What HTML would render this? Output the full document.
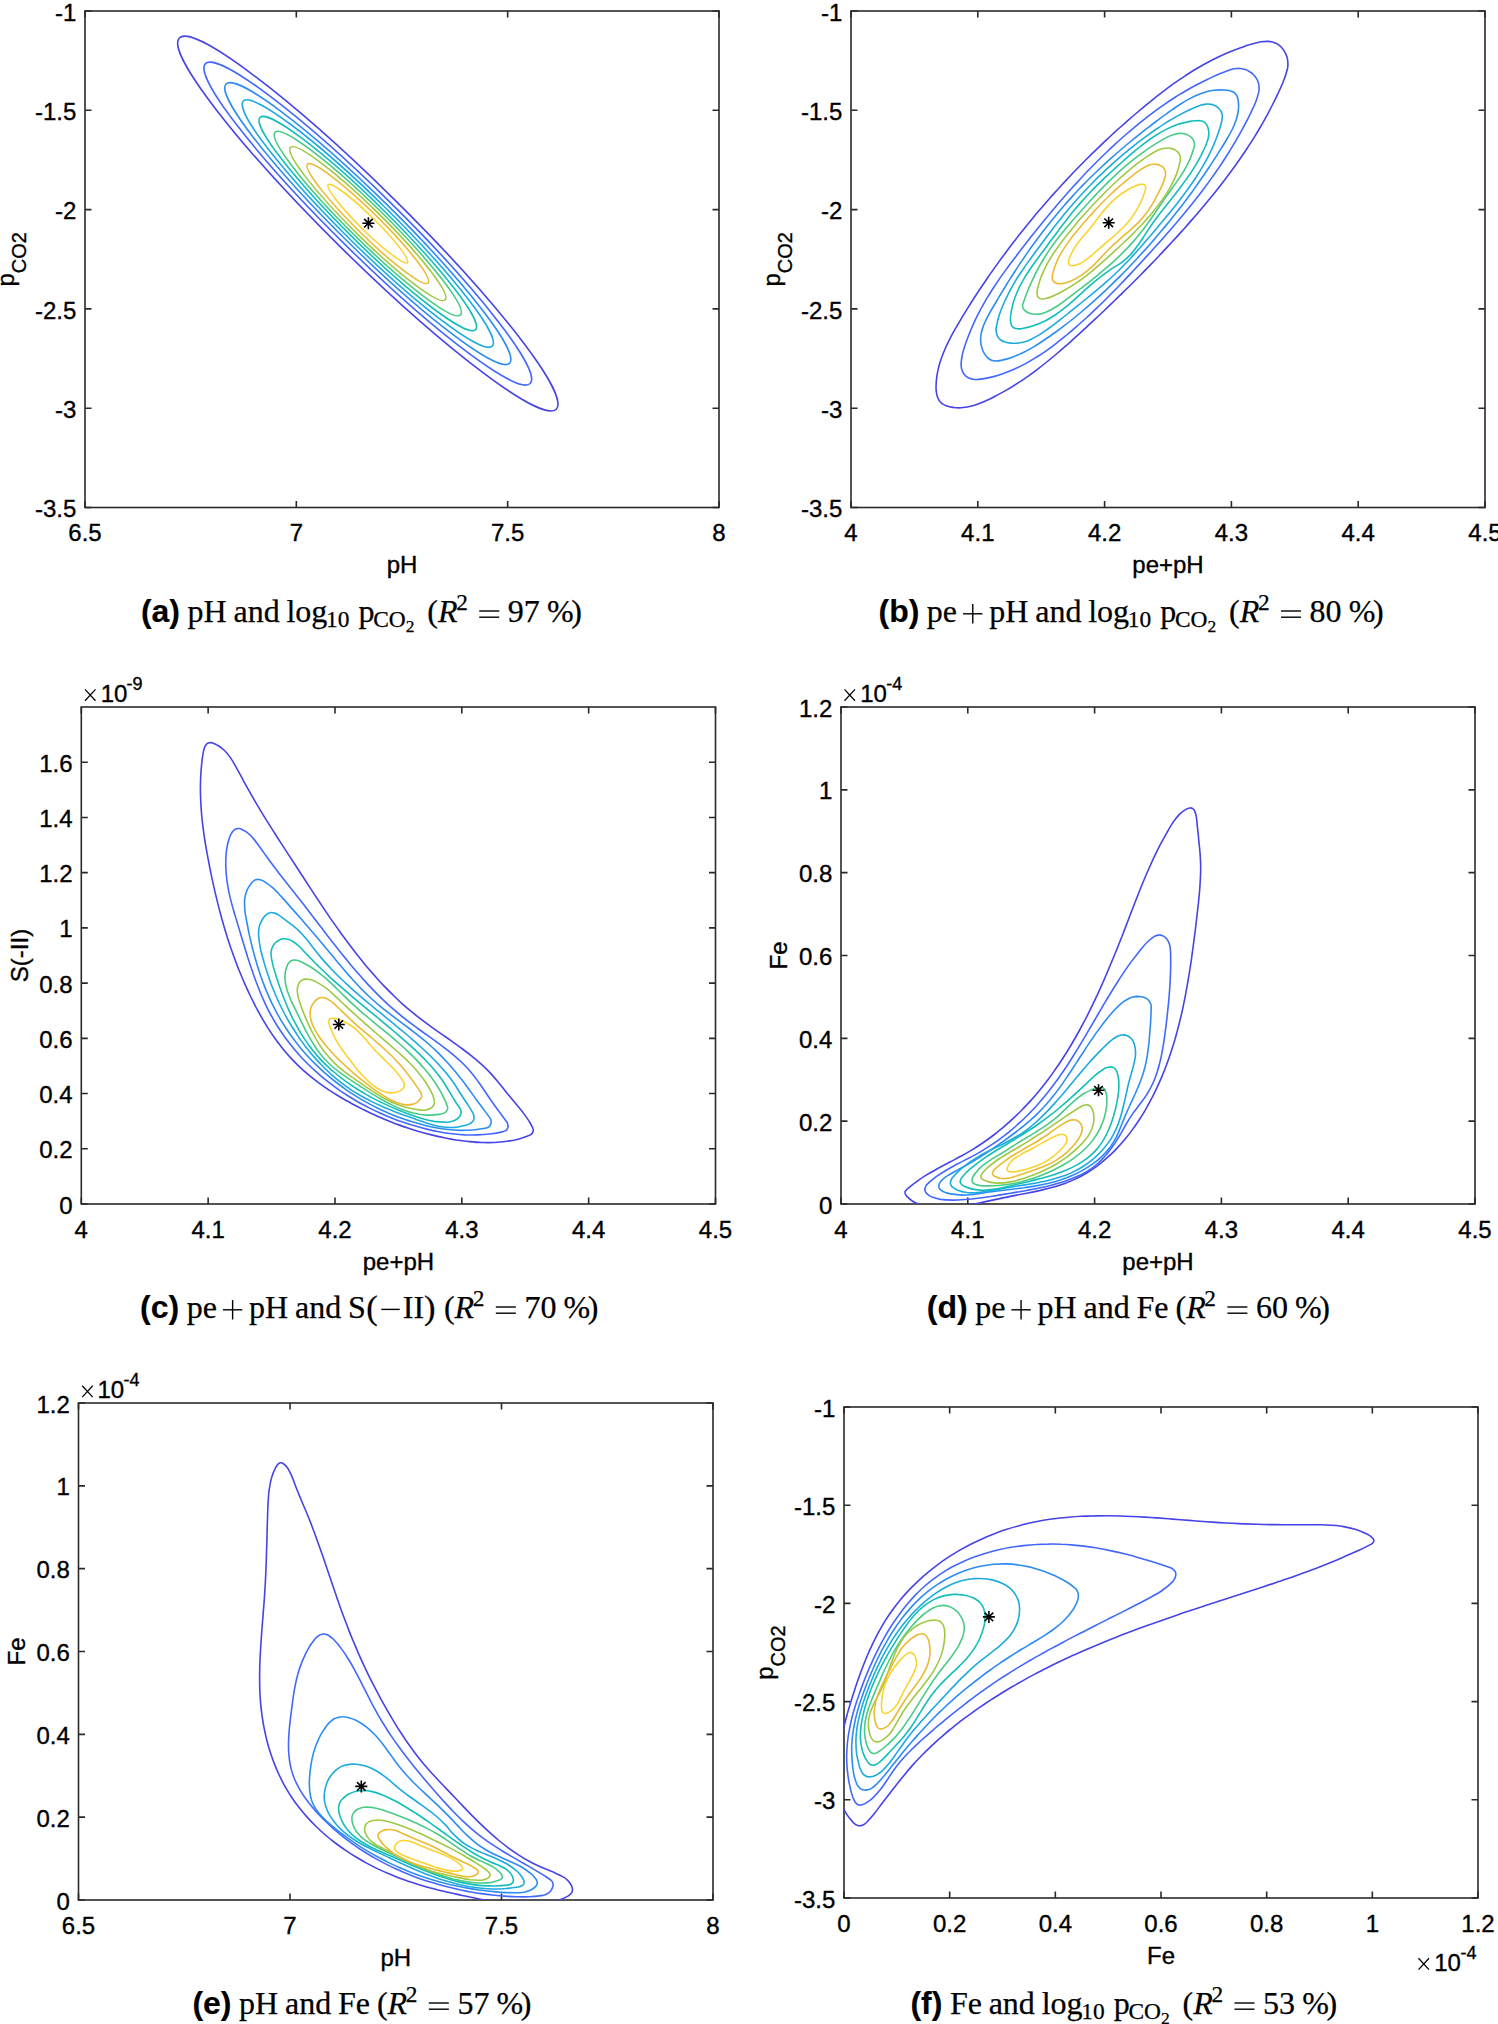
<!DOCTYPE html>
<html><head><meta charset="utf-8"><style>
html,body{margin:0;padding:0;background:#fff;}
body{width:1498px;height:2024px;overflow:hidden;}
svg{position:absolute;left:0;top:0;}
.t{font-family:"Liberation Sans",sans-serif;font-size:24px;fill:#000;stroke:#000;stroke-width:0.35px;}
.cap{font-family:"Liberation Serif",serif;font-size:32px;fill:#000;}
.lb{font-family:"Liberation Sans",sans-serif;font-weight:bold;}
</style></head><body>
<svg width="1498" height="2024" viewBox="0 0 1498 2024" xmlns="http://www.w3.org/2000/svg">
<rect x="85" y="11" width="634" height="496.5" fill="none" stroke="#2a2a2a" stroke-width="1.6"/>
<path d="M85 507.5v-6.5M85 11v6.5M296.33 507.5v-6.5M296.33 11v6.5M507.67 507.5v-6.5M507.67 11v6.5M719 507.5v-6.5M719 11v6.5M85 11h6.5M719 11h-6.5M85 110.3h6.5M719 110.3h-6.5M85 209.6h6.5M719 209.6h-6.5M85 308.9h6.5M719 308.9h-6.5M85 408.2h6.5M719 408.2h-6.5M85 507.5h6.5M719 507.5h-6.5" stroke="#2a2a2a" stroke-width="1.6" fill="none"/>
<text class="t" x="85" y="541" text-anchor="middle">6.5</text>
<text class="t" x="296.33" y="541" text-anchor="middle">7</text>
<text class="t" x="507.67" y="541" text-anchor="middle">7.5</text>
<text class="t" x="719" y="541" text-anchor="middle">8</text>
<text class="t" x="76.3" y="20.6" text-anchor="end">-1</text>
<text class="t" x="76.3" y="119.9" text-anchor="end">-1.5</text>
<text class="t" x="76.3" y="219.2" text-anchor="end">-2</text>
<text class="t" x="76.3" y="318.5" text-anchor="end">-2.5</text>
<text class="t" x="76.3" y="417.8" text-anchor="end">-3</text>
<text class="t" x="76.3" y="517.1" text-anchor="end">-3.5</text>
<text class="t" x="402" y="573.2" text-anchor="middle">pH</text>
<text class="t" transform="translate(13.8,259.25) rotate(-90)" text-anchor="middle">p<tspan font-size="20" dy="12">CO2</tspan></text>
<rect x="851" y="11" width="634" height="496.5" fill="none" stroke="#2a2a2a" stroke-width="1.6"/>
<path d="M851 507.5v-6.5M851 11v6.5M977.8 507.5v-6.5M977.8 11v6.5M1104.6 507.5v-6.5M1104.6 11v6.5M1231.4 507.5v-6.5M1231.4 11v6.5M1358.2 507.5v-6.5M1358.2 11v6.5M1485 507.5v-6.5M1485 11v6.5M851 11h6.5M1485 11h-6.5M851 110.3h6.5M1485 110.3h-6.5M851 209.6h6.5M1485 209.6h-6.5M851 308.9h6.5M1485 308.9h-6.5M851 408.2h6.5M1485 408.2h-6.5M851 507.5h6.5M1485 507.5h-6.5" stroke="#2a2a2a" stroke-width="1.6" fill="none"/>
<text class="t" x="851" y="541" text-anchor="middle">4</text>
<text class="t" x="977.8" y="541" text-anchor="middle">4.1</text>
<text class="t" x="1104.6" y="541" text-anchor="middle">4.2</text>
<text class="t" x="1231.4" y="541" text-anchor="middle">4.3</text>
<text class="t" x="1358.2" y="541" text-anchor="middle">4.4</text>
<text class="t" x="1485" y="541" text-anchor="middle">4.5</text>
<text class="t" x="842.3" y="20.6" text-anchor="end">-1</text>
<text class="t" x="842.3" y="119.9" text-anchor="end">-1.5</text>
<text class="t" x="842.3" y="219.2" text-anchor="end">-2</text>
<text class="t" x="842.3" y="318.5" text-anchor="end">-2.5</text>
<text class="t" x="842.3" y="417.8" text-anchor="end">-3</text>
<text class="t" x="842.3" y="517.1" text-anchor="end">-3.5</text>
<text class="t" x="1168" y="573.2" text-anchor="middle">pe+pH</text>
<text class="t" transform="translate(779.6,259.25) rotate(-90)" text-anchor="middle">p<tspan font-size="20" dy="12">CO2</tspan></text>
<rect x="81.3" y="707" width="634.2" height="497" fill="none" stroke="#2a2a2a" stroke-width="1.6"/>
<path d="M81.3 1204v-6.5M81.3 707v6.5M208.14 1204v-6.5M208.14 707v6.5M334.98 1204v-6.5M334.98 707v6.5M461.82 1204v-6.5M461.82 707v6.5M588.66 1204v-6.5M588.66 707v6.5M715.5 1204v-6.5M715.5 707v6.5M81.3 1204h6.5M715.5 1204h-6.5M81.3 1148.78h6.5M715.5 1148.78h-6.5M81.3 1093.56h6.5M715.5 1093.56h-6.5M81.3 1038.33h6.5M715.5 1038.33h-6.5M81.3 983.11h6.5M715.5 983.11h-6.5M81.3 927.89h6.5M715.5 927.89h-6.5M81.3 872.67h6.5M715.5 872.67h-6.5M81.3 817.44h6.5M715.5 817.44h-6.5M81.3 762.22h6.5M715.5 762.22h-6.5" stroke="#2a2a2a" stroke-width="1.6" fill="none"/>
<text class="t" x="81.3" y="1237.5" text-anchor="middle">4</text>
<text class="t" x="208.14" y="1237.5" text-anchor="middle">4.1</text>
<text class="t" x="334.98" y="1237.5" text-anchor="middle">4.2</text>
<text class="t" x="461.82" y="1237.5" text-anchor="middle">4.3</text>
<text class="t" x="588.66" y="1237.5" text-anchor="middle">4.4</text>
<text class="t" x="715.5" y="1237.5" text-anchor="middle">4.5</text>
<text class="t" x="72.6" y="1213.6" text-anchor="end">0</text>
<text class="t" x="72.6" y="1158.38" text-anchor="end">0.2</text>
<text class="t" x="72.6" y="1103.16" text-anchor="end">0.4</text>
<text class="t" x="72.6" y="1047.93" text-anchor="end">0.6</text>
<text class="t" x="72.6" y="992.71" text-anchor="end">0.8</text>
<text class="t" x="72.6" y="937.49" text-anchor="end">1</text>
<text class="t" x="72.6" y="882.27" text-anchor="end">1.2</text>
<text class="t" x="72.6" y="827.04" text-anchor="end">1.4</text>
<text class="t" x="72.6" y="771.82" text-anchor="end">1.6</text>
<text class="t" x="398.4" y="1269.7" text-anchor="middle">pe+pH</text>
<text class="t" transform="translate(27.9,955.5) rotate(-90)" text-anchor="middle">S(-II)</text>
<rect x="841" y="707" width="634" height="497" fill="none" stroke="#2a2a2a" stroke-width="1.6"/>
<path d="M841 1204v-6.5M841 707v6.5M967.8 1204v-6.5M967.8 707v6.5M1094.6 1204v-6.5M1094.6 707v6.5M1221.4 1204v-6.5M1221.4 707v6.5M1348.2 1204v-6.5M1348.2 707v6.5M1475 1204v-6.5M1475 707v6.5M841 1204h6.5M1475 1204h-6.5M841 1121.17h6.5M1475 1121.17h-6.5M841 1038.33h6.5M1475 1038.33h-6.5M841 955.5h6.5M1475 955.5h-6.5M841 872.67h6.5M1475 872.67h-6.5M841 789.83h6.5M1475 789.83h-6.5M841 707h6.5M1475 707h-6.5" stroke="#2a2a2a" stroke-width="1.6" fill="none"/>
<text class="t" x="841" y="1237.5" text-anchor="middle">4</text>
<text class="t" x="967.8" y="1237.5" text-anchor="middle">4.1</text>
<text class="t" x="1094.6" y="1237.5" text-anchor="middle">4.2</text>
<text class="t" x="1221.4" y="1237.5" text-anchor="middle">4.3</text>
<text class="t" x="1348.2" y="1237.5" text-anchor="middle">4.4</text>
<text class="t" x="1475" y="1237.5" text-anchor="middle">4.5</text>
<text class="t" x="832.3" y="1213.6" text-anchor="end">0</text>
<text class="t" x="832.3" y="1130.77" text-anchor="end">0.2</text>
<text class="t" x="832.3" y="1047.93" text-anchor="end">0.4</text>
<text class="t" x="832.3" y="965.1" text-anchor="end">0.6</text>
<text class="t" x="832.3" y="882.27" text-anchor="end">0.8</text>
<text class="t" x="832.3" y="799.43" text-anchor="end">1</text>
<text class="t" x="832.3" y="716.6" text-anchor="end">1.2</text>
<text class="t" x="1158" y="1269.7" text-anchor="middle">pe+pH</text>
<text class="t" transform="translate(787,955.5) rotate(-90)" text-anchor="middle">Fe</text>
<rect x="78.5" y="1403" width="634.5" height="497" fill="none" stroke="#2a2a2a" stroke-width="1.6"/>
<path d="M78.5 1900v-6.5M78.5 1403v6.5M290 1900v-6.5M290 1403v6.5M501.5 1900v-6.5M501.5 1403v6.5M713 1900v-6.5M713 1403v6.5M78.5 1900h6.5M713 1900h-6.5M78.5 1817.17h6.5M713 1817.17h-6.5M78.5 1734.33h6.5M713 1734.33h-6.5M78.5 1651.5h6.5M713 1651.5h-6.5M78.5 1568.67h6.5M713 1568.67h-6.5M78.5 1485.83h6.5M713 1485.83h-6.5M78.5 1403h6.5M713 1403h-6.5" stroke="#2a2a2a" stroke-width="1.6" fill="none"/>
<text class="t" x="78.5" y="1933.5" text-anchor="middle">6.5</text>
<text class="t" x="290" y="1933.5" text-anchor="middle">7</text>
<text class="t" x="501.5" y="1933.5" text-anchor="middle">7.5</text>
<text class="t" x="713" y="1933.5" text-anchor="middle">8</text>
<text class="t" x="69.8" y="1909.6" text-anchor="end">0</text>
<text class="t" x="69.8" y="1826.77" text-anchor="end">0.2</text>
<text class="t" x="69.8" y="1743.93" text-anchor="end">0.4</text>
<text class="t" x="69.8" y="1661.1" text-anchor="end">0.6</text>
<text class="t" x="69.8" y="1578.27" text-anchor="end">0.8</text>
<text class="t" x="69.8" y="1495.43" text-anchor="end">1</text>
<text class="t" x="69.8" y="1412.6" text-anchor="end">1.2</text>
<text class="t" x="395.75" y="1965.7" text-anchor="middle">pH</text>
<text class="t" transform="translate(24.8,1651.5) rotate(-90)" text-anchor="middle">Fe</text>
<rect x="844" y="1407" width="634" height="491" fill="none" stroke="#2a2a2a" stroke-width="1.6"/>
<path d="M844 1898v-6.5M844 1407v6.5M949.67 1898v-6.5M949.67 1407v6.5M1055.33 1898v-6.5M1055.33 1407v6.5M1161 1898v-6.5M1161 1407v6.5M1266.67 1898v-6.5M1266.67 1407v6.5M1372.33 1898v-6.5M1372.33 1407v6.5M1478 1898v-6.5M1478 1407v6.5M844 1407h6.5M1478 1407h-6.5M844 1505.2h6.5M1478 1505.2h-6.5M844 1603.4h6.5M1478 1603.4h-6.5M844 1701.6h6.5M1478 1701.6h-6.5M844 1799.8h6.5M1478 1799.8h-6.5M844 1898h6.5M1478 1898h-6.5" stroke="#2a2a2a" stroke-width="1.6" fill="none"/>
<text class="t" x="844" y="1931.5" text-anchor="middle">0</text>
<text class="t" x="949.67" y="1931.5" text-anchor="middle">0.2</text>
<text class="t" x="1055.33" y="1931.5" text-anchor="middle">0.4</text>
<text class="t" x="1161" y="1931.5" text-anchor="middle">0.6</text>
<text class="t" x="1266.67" y="1931.5" text-anchor="middle">0.8</text>
<text class="t" x="1372.33" y="1931.5" text-anchor="middle">1</text>
<text class="t" x="1478" y="1931.5" text-anchor="middle">1.2</text>
<text class="t" x="835.3" y="1416.6" text-anchor="end">-1</text>
<text class="t" x="835.3" y="1514.8" text-anchor="end">-1.5</text>
<text class="t" x="835.3" y="1613" text-anchor="end">-2</text>
<text class="t" x="835.3" y="1711.2" text-anchor="end">-2.5</text>
<text class="t" x="835.3" y="1809.4" text-anchor="end">-3</text>
<text class="t" x="835.3" y="1907.6" text-anchor="end">-3.5</text>
<text class="t" x="1161" y="1963.7" text-anchor="middle">Fe</text>
<text class="t" transform="translate(772.6,1652.5) rotate(-90)" text-anchor="middle">p<tspan font-size="20" dy="12">CO2</tspan></text>
<text x="140.91" y="622.00" font-family="Liberation Sans" font-size="32" font-weight="bold" stroke="#000" stroke-width="0.15">(a)</text>
<text x="187.52" y="622.00" font-family="Liberation Serif" font-size="32" stroke="#000" stroke-width="0.25">pH</text>
<text x="233.43" y="622.00" font-family="Liberation Serif" font-size="32" stroke="#000" stroke-width="0.25">and</text>
<text x="286.43" y="622.00" font-family="Liberation Serif" font-size="32" stroke="#000" stroke-width="0.25">log</text>
<text x="326.02" y="627.00" font-family="Liberation Serif" font-size="23.4" stroke="#000" stroke-width="0.25">10</text>
<text x="358.62" y="622.00" font-family="Liberation Serif" font-size="32" stroke="#000" stroke-width="0.25">p</text>
<text x="373.22" y="626.50" font-family="Liberation Serif" font-size="23.4" stroke="#000" stroke-width="0.25">CO</text>
<text x="405.63" y="631.60" font-family="Liberation Serif" font-size="17.5" stroke="#000" stroke-width="0.25">2</text>
<text x="427.33" y="622.00" font-family="Liberation Serif" font-size="32" stroke="#000" stroke-width="0.25">(</text>
<text x="437.98" y="622.00" font-family="Liberation Serif" font-size="32" font-style="italic" stroke="#000" stroke-width="0.25">R</text>
<text x="456.13" y="610.40" font-family="Liberation Serif" font-size="23.4" stroke="#000" stroke-width="0.25">2</text>
<path d="M479.23 611.00H499.23" stroke="#000" stroke-width="1.4"/>
<path d="M479.23 617.20H499.23" stroke="#000" stroke-width="1.4"/>
<text x="507.83" y="622.00" font-family="Liberation Serif" font-size="32" stroke="#000" stroke-width="0.25">97</text>
<text x="546.93" y="622.00" font-family="Liberation Serif" font-size="32" stroke="#000" stroke-width="0.25">%</text>
<text x="571.18" y="622.00" font-family="Liberation Serif" font-size="32" stroke="#000" stroke-width="0.25">)</text>
<text x="878.51" y="622.00" font-family="Liberation Sans" font-size="32" font-weight="bold" stroke="#000" stroke-width="0.15">(b)</text>
<text x="926.87" y="622.00" font-family="Liberation Serif" font-size="32" stroke="#000" stroke-width="0.25">pe</text>
<path d="M963.07 613.80H982.47" stroke="#000" stroke-width="1.4"/>
<path d="M972.77 604.10V623.50" stroke="#000" stroke-width="1.4"/>
<text x="989.27" y="622.00" font-family="Liberation Serif" font-size="32" stroke="#000" stroke-width="0.25">pH</text>
<text x="1035.18" y="622.00" font-family="Liberation Serif" font-size="32" stroke="#000" stroke-width="0.25">and</text>
<text x="1088.18" y="622.00" font-family="Liberation Serif" font-size="32" stroke="#000" stroke-width="0.25">log</text>
<text x="1127.77" y="627.00" font-family="Liberation Serif" font-size="23.4" stroke="#000" stroke-width="0.25">10</text>
<text x="1160.37" y="622.00" font-family="Liberation Serif" font-size="32" stroke="#000" stroke-width="0.25">p</text>
<text x="1174.97" y="626.50" font-family="Liberation Serif" font-size="23.4" stroke="#000" stroke-width="0.25">CO</text>
<text x="1207.38" y="631.60" font-family="Liberation Serif" font-size="17.5" stroke="#000" stroke-width="0.25">2</text>
<text x="1229.08" y="622.00" font-family="Liberation Serif" font-size="32" stroke="#000" stroke-width="0.25">(</text>
<text x="1239.73" y="622.00" font-family="Liberation Serif" font-size="32" font-style="italic" stroke="#000" stroke-width="0.25">R</text>
<text x="1257.88" y="610.40" font-family="Liberation Serif" font-size="23.4" stroke="#000" stroke-width="0.25">2</text>
<path d="M1280.98 611.00H1300.98" stroke="#000" stroke-width="1.4"/>
<path d="M1280.98 617.20H1300.98" stroke="#000" stroke-width="1.4"/>
<text x="1309.58" y="622.00" font-family="Liberation Serif" font-size="32" stroke="#000" stroke-width="0.25">80</text>
<text x="1348.68" y="622.00" font-family="Liberation Serif" font-size="32" stroke="#000" stroke-width="0.25">%</text>
<text x="1372.94" y="622.00" font-family="Liberation Serif" font-size="32" stroke="#000" stroke-width="0.25">)</text>
<text x="140.11" y="1318.00" font-family="Liberation Sans" font-size="32" font-weight="bold" stroke="#000" stroke-width="0.15">(c)</text>
<text x="186.72" y="1318.00" font-family="Liberation Serif" font-size="32" stroke="#000" stroke-width="0.25">pe</text>
<path d="M222.92 1309.80H242.32" stroke="#000" stroke-width="1.4"/>
<path d="M232.62 1300.10V1319.50" stroke="#000" stroke-width="1.4"/>
<text x="249.12" y="1318.00" font-family="Liberation Serif" font-size="32" stroke="#000" stroke-width="0.25">pH</text>
<text x="295.03" y="1318.00" font-family="Liberation Serif" font-size="32" stroke="#000" stroke-width="0.25">and</text>
<text x="348.03" y="1318.00" font-family="Liberation Serif" font-size="32" stroke="#000" stroke-width="0.25">S</text>
<text x="366.13" y="1319.00" font-family="Liberation Serif" font-size="34.5" stroke="#000" stroke-width="0.25">(</text>
<path d="M381.32 1309.40H399.72" stroke="#000" stroke-width="1.4"/>
<text x="402.82" y="1318.00" font-family="Liberation Serif" font-size="32" stroke="#000" stroke-width="0.25">II</text>
<text x="423.93" y="1319.00" font-family="Liberation Serif" font-size="34.5" stroke="#000" stroke-width="0.25">)</text>
<text x="443.92" y="1318.00" font-family="Liberation Serif" font-size="32" stroke="#000" stroke-width="0.25">(</text>
<text x="454.57" y="1318.00" font-family="Liberation Serif" font-size="32" font-style="italic" stroke="#000" stroke-width="0.25">R</text>
<text x="472.72" y="1306.40" font-family="Liberation Serif" font-size="23.4" stroke="#000" stroke-width="0.25">2</text>
<path d="M495.82 1307.00H515.82" stroke="#000" stroke-width="1.4"/>
<path d="M495.82 1313.20H515.82" stroke="#000" stroke-width="1.4"/>
<text x="524.42" y="1318.00" font-family="Liberation Serif" font-size="32" stroke="#000" stroke-width="0.25">70</text>
<text x="563.52" y="1318.00" font-family="Liberation Serif" font-size="32" stroke="#000" stroke-width="0.25">%</text>
<text x="587.78" y="1318.00" font-family="Liberation Serif" font-size="32" stroke="#000" stroke-width="0.25">)</text>
<text x="926.81" y="1318.00" font-family="Liberation Sans" font-size="32" font-weight="bold" stroke="#000" stroke-width="0.15">(d)</text>
<text x="975.17" y="1318.00" font-family="Liberation Serif" font-size="32" stroke="#000" stroke-width="0.25">pe</text>
<path d="M1011.37 1309.80H1030.77" stroke="#000" stroke-width="1.4"/>
<path d="M1021.07 1300.10V1319.50" stroke="#000" stroke-width="1.4"/>
<text x="1037.57" y="1318.00" font-family="Liberation Serif" font-size="32" stroke="#000" stroke-width="0.25">pH</text>
<text x="1083.48" y="1318.00" font-family="Liberation Serif" font-size="32" stroke="#000" stroke-width="0.25">and</text>
<text x="1136.48" y="1318.00" font-family="Liberation Serif" font-size="32" stroke="#000" stroke-width="0.25">Fe</text>
<text x="1175.48" y="1318.00" font-family="Liberation Serif" font-size="32" stroke="#000" stroke-width="0.25">(</text>
<text x="1186.14" y="1318.00" font-family="Liberation Serif" font-size="32" font-style="italic" stroke="#000" stroke-width="0.25">R</text>
<text x="1204.28" y="1306.40" font-family="Liberation Serif" font-size="23.4" stroke="#000" stroke-width="0.25">2</text>
<path d="M1227.38 1307.00H1247.38" stroke="#000" stroke-width="1.4"/>
<path d="M1227.38 1313.20H1247.38" stroke="#000" stroke-width="1.4"/>
<text x="1255.98" y="1318.00" font-family="Liberation Serif" font-size="32" stroke="#000" stroke-width="0.25">60</text>
<text x="1295.08" y="1318.00" font-family="Liberation Serif" font-size="32" stroke="#000" stroke-width="0.25">%</text>
<text x="1319.34" y="1318.00" font-family="Liberation Serif" font-size="32" stroke="#000" stroke-width="0.25">)</text>
<text x="192.41" y="2014.00" font-family="Liberation Sans" font-size="32" font-weight="bold" stroke="#000" stroke-width="0.15">(e)</text>
<text x="239.02" y="2014.00" font-family="Liberation Serif" font-size="32" stroke="#000" stroke-width="0.25">pH</text>
<text x="284.93" y="2014.00" font-family="Liberation Serif" font-size="32" stroke="#000" stroke-width="0.25">and</text>
<text x="337.93" y="2014.00" font-family="Liberation Serif" font-size="32" stroke="#000" stroke-width="0.25">Fe</text>
<text x="376.93" y="2014.00" font-family="Liberation Serif" font-size="32" stroke="#000" stroke-width="0.25">(</text>
<text x="387.58" y="2014.00" font-family="Liberation Serif" font-size="32" font-style="italic" stroke="#000" stroke-width="0.25">R</text>
<text x="405.73" y="2002.40" font-family="Liberation Serif" font-size="23.4" stroke="#000" stroke-width="0.25">2</text>
<path d="M428.83 2003.00H448.83" stroke="#000" stroke-width="1.4"/>
<path d="M428.83 2009.20H448.83" stroke="#000" stroke-width="1.4"/>
<text x="457.43" y="2014.00" font-family="Liberation Serif" font-size="32" stroke="#000" stroke-width="0.25">57</text>
<text x="496.53" y="2014.00" font-family="Liberation Serif" font-size="32" stroke="#000" stroke-width="0.25">%</text>
<text x="520.79" y="2014.00" font-family="Liberation Serif" font-size="32" stroke="#000" stroke-width="0.25">)</text>
<text x="910.41" y="2014.00" font-family="Liberation Sans" font-size="32" font-weight="bold" stroke="#000" stroke-width="0.15">(f)</text>
<text x="949.88" y="2014.00" font-family="Liberation Serif" font-size="32" stroke="#000" stroke-width="0.25">Fe</text>
<text x="988.67" y="2014.00" font-family="Liberation Serif" font-size="32" stroke="#000" stroke-width="0.25">and</text>
<text x="1041.68" y="2014.00" font-family="Liberation Serif" font-size="32" stroke="#000" stroke-width="0.25">log</text>
<text x="1081.27" y="2019.00" font-family="Liberation Serif" font-size="23.4" stroke="#000" stroke-width="0.25">10</text>
<text x="1113.87" y="2014.00" font-family="Liberation Serif" font-size="32" stroke="#000" stroke-width="0.25">p</text>
<text x="1128.47" y="2018.50" font-family="Liberation Serif" font-size="23.4" stroke="#000" stroke-width="0.25">CO</text>
<text x="1160.88" y="2023.60" font-family="Liberation Serif" font-size="17.5" stroke="#000" stroke-width="0.25">2</text>
<text x="1182.58" y="2014.00" font-family="Liberation Serif" font-size="32" stroke="#000" stroke-width="0.25">(</text>
<text x="1193.23" y="2014.00" font-family="Liberation Serif" font-size="32" font-style="italic" stroke="#000" stroke-width="0.25">R</text>
<text x="1211.38" y="2002.40" font-family="Liberation Serif" font-size="23.4" stroke="#000" stroke-width="0.25">2</text>
<path d="M1234.48 2003.00H1254.48" stroke="#000" stroke-width="1.4"/>
<path d="M1234.48 2009.20H1254.48" stroke="#000" stroke-width="1.4"/>
<text x="1263.08" y="2014.00" font-family="Liberation Serif" font-size="32" stroke="#000" stroke-width="0.25">53</text>
<text x="1302.18" y="2014.00" font-family="Liberation Serif" font-size="32" stroke="#000" stroke-width="0.25">%</text>
<text x="1326.43" y="2014.00" font-family="Liberation Serif" font-size="32" stroke="#000" stroke-width="0.25">)</text>
<ellipse cx="367.8" cy="223.6" rx="264.51" ry="35.81" transform="rotate(-135.439 367.8 223.6)" fill="none" stroke="#4743e7" stroke-width="1.6"/>
<ellipse cx="367.8" cy="223.6" rx="227.91" ry="30.85" transform="rotate(-135.439 367.8 223.6)" fill="none" stroke="#4367fd" stroke-width="1.6"/>
<ellipse cx="367.8" cy="223.6" rx="198.99" ry="26.94" transform="rotate(-135.439 367.8 223.6)" fill="none" stroke="#2d8cf3" stroke-width="1.6"/>
<ellipse cx="367.8" cy="223.6" rx="174.69" ry="23.65" transform="rotate(-135.439 367.8 223.6)" fill="none" stroke="#1caadf" stroke-width="1.6"/>
<ellipse cx="367.8" cy="223.6" rx="151.30" ry="20.48" transform="rotate(-135.439 367.8 223.6)" fill="none" stroke="#12beb9" stroke-width="1.6"/>
<ellipse cx="367.8" cy="223.6" rx="130.14" ry="17.62" transform="rotate(-135.439 367.8 223.6)" fill="none" stroke="#48cb86" stroke-width="1.6"/>
<ellipse cx="367.8" cy="223.6" rx="108.58" ry="14.70" transform="rotate(-135.439 367.8 223.6)" fill="none" stroke="#9fc942" stroke-width="1.6"/>
<ellipse cx="367.8" cy="223.6" rx="84.64" ry="11.46" transform="rotate(-135.439 367.8 223.6)" fill="none" stroke="#eaba31" stroke-width="1.6"/>
<ellipse cx="367.8" cy="223.6" rx="55.55" ry="7.52" transform="rotate(-135.439 367.8 223.6)" fill="none" stroke="#fad42e" stroke-width="1.6"/>
<clipPath id="cpb"><rect x="851.0" y="11.0" width="634.0" height="496.5"/></clipPath><g clip-path="url(#cpb)">
<path d="M1249.4 44.8C1252.8 43.8 1257.9 42.4 1261.1 41.8C1264.3 41.3 1266.7 41.4 1268.7 41.4C1270.6 41.5 1271.7 41.8 1273.1 42.2C1274.5 42.6 1275.9 43.1 1277.2 43.9C1278.5 44.7 1279.7 45.5 1280.9 46.8C1282.1 48.1 1283.6 49.9 1284.6 51.6C1285.6 53.3 1286.4 55.2 1287 57C1287.5 58.8 1287.8 60.5 1287.8 62.5C1287.9 64.5 1288.1 65.9 1287.4 69C1286.6 72.1 1285.1 77.1 1283.5 81C1282 85 1280.1 89 1278.3 92.9C1276.5 96.8 1274.6 100.7 1272.6 104.5C1270.7 108.3 1268.7 112.1 1266.7 115.9C1264.6 119.6 1262.6 123.3 1260.4 127C1258.3 130.6 1256.1 134.3 1253.9 137.9C1251.6 141.5 1249.3 145 1247 148.5C1244.7 152.1 1242.3 155.6 1239.9 159C1237.5 162.5 1235.1 165.9 1232.6 169.3C1230.1 172.7 1227.6 176.1 1225 179.5C1222.5 182.8 1219.9 186.2 1217.3 189.5C1214.7 192.8 1212 196 1209.3 199.3C1206.7 202.6 1204 205.8 1201.2 209C1198.5 212.3 1195.7 215.5 1193 218.6C1190.2 221.8 1187.4 225 1184.6 228.2C1181.8 231.3 1178.9 234.4 1176.1 237.6C1173.2 240.7 1170.3 243.8 1167.4 246.9C1164.6 250 1161.6 253.1 1158.7 256.2C1155.8 259.3 1152.9 262.3 1149.9 265.4C1147 268.4 1144 271.5 1141 274.5C1138.1 277.5 1135.1 280.5 1132.1 283.5C1129.1 286.5 1126 289.5 1123 292.4C1120 295.4 1117 298.3 1113.9 301.3C1110.9 304.2 1107.8 307.1 1104.8 310C1101.7 313 1098.6 315.9 1095.6 318.7C1092.5 321.6 1089.4 324.5 1086.3 327.3C1083.2 330.2 1080.1 333 1077 335.8C1073.9 338.7 1070.8 341.5 1067.7 344.3C1064.6 347 1061.4 349.8 1058.2 352.5C1055 355.2 1051.8 357.9 1048.6 360.5C1045.3 363.2 1042.1 365.8 1038.7 368.3C1035.4 370.9 1032 373.4 1028.6 375.8C1025.1 378.2 1021.6 380.6 1018.1 382.9C1014.5 385.2 1010.9 387.5 1007.2 389.6C1003.5 391.8 999.5 394 995.8 395.9C992.1 397.8 988.6 399.6 984.9 401.2C981.2 402.8 977.5 404.3 973.6 405.4C969.7 406.5 964.7 407.4 961.2 407.7C957.7 408.1 955.2 407.7 952.7 407.4C950.2 407.1 947.8 406.4 946.2 405.8C944.6 405.3 943.9 404.8 942.9 404.2C942 403.6 941.1 402.8 940.4 402C939.6 401.2 939 400.4 938.5 399.2C937.9 398.1 937.3 397.1 936.9 395.1C936.5 393.2 936 391 936 387.6C936 384.2 936.4 379 937.1 374.7C937.8 370.5 938.8 366.3 940 362.3C941.3 358.2 942.8 354.2 944.5 350.2C946.1 346.3 948 342.4 950 338.6C951.9 334.8 954.1 331 956.2 327.3C958.3 323.5 960.5 319.9 962.7 316.2C964.9 312.6 967.2 309 969.4 305.4C971.7 301.8 973.9 298.3 976.2 294.8C978.5 291.3 980.8 287.8 983.2 284.3C985.5 280.8 987.9 277.4 990.3 273.9C992.7 270.5 995.1 267 997.6 263.6C1000 260.2 1002.5 256.8 1005.1 253.4C1007.6 250 1010.1 246.7 1012.7 243.3C1015.2 240 1017.8 236.6 1020.5 233.3C1023.1 230 1025.7 226.7 1028.4 223.4C1031.1 220.1 1033.8 216.9 1036.5 213.6C1039.3 210.4 1042 207.2 1044.8 204C1047.6 200.8 1050.4 197.6 1053.2 194.4C1056 191.3 1058.9 188.1 1061.7 185C1064.6 181.9 1067.5 178.8 1070.4 175.7C1073.3 172.6 1076.3 169.6 1079.3 166.5C1082.2 163.5 1085.2 160.5 1088.2 157.5C1091.2 154.5 1094.2 151.5 1097.3 148.6C1100.3 145.7 1103.4 142.7 1106.5 139.8C1109.6 136.9 1112.7 134.1 1115.8 131.2C1119 128.4 1122.1 125.6 1125.3 122.8C1128.5 120 1131.6 117.2 1134.8 114.5C1138.1 111.7 1141.3 109 1144.5 106.3C1147.8 103.6 1151 101 1154.3 98.3C1157.6 95.7 1160.9 93.1 1164.3 90.6C1167.6 88.1 1171 85.6 1174.4 83.2C1177.9 80.7 1181.3 78.4 1184.8 76.1C1188.3 73.7 1191.9 71.5 1195.5 69.3C1199.1 67.2 1202.8 65.1 1206.5 63C1210.2 61 1214 59.1 1217.8 57.2C1221.7 55.4 1225.7 53.6 1229.5 52C1233.4 50.4 1237.4 48.9 1240.7 47.7C1244.1 46.5 1246 45.7 1249.4 44.8Z" fill="none" stroke="#4743e7" stroke-width="1.6"/>
<path d="M1240.5 68.5C1241.8 68.7 1243.8 69.1 1245.3 69.6C1246.8 70.1 1248.4 70.9 1249.7 71.7C1251.1 72.5 1252.4 73.6 1253.5 74.7C1254.6 75.8 1255.6 77 1256.4 78.3C1257.2 79.6 1257.8 81 1258.2 82.3C1258.7 83.7 1258.9 85 1259 86.6C1259.1 88.2 1259.3 89.3 1258.8 91.9C1258.2 94.4 1257.1 98.4 1255.8 101.8C1254.5 105.3 1252.6 109 1250.8 112.8C1249 116.6 1246.9 120.6 1244.9 124.4C1242.9 128.2 1240.9 132 1238.8 135.7C1236.7 139.4 1234.5 143.1 1232.3 146.7C1230.1 150.4 1227.9 154 1225.6 157.5C1223.3 161.1 1221 164.6 1218.6 168.1C1216.2 171.5 1213.8 175 1211.4 178.4C1208.9 181.8 1206.5 185.2 1204 188.5C1201.4 191.9 1198.9 195.2 1196.3 198.5C1193.7 201.8 1191.1 205 1188.5 208.3C1185.9 211.5 1183.2 214.8 1180.5 218C1177.8 221.2 1175.1 224.3 1172.4 227.5C1169.6 230.7 1166.9 233.8 1164.1 237C1161.4 240.1 1158.6 243.2 1155.8 246.3C1153 249.4 1150.1 252.5 1147.3 255.6C1144.5 258.7 1141.6 261.8 1138.8 264.9C1135.9 268 1133.1 271 1130.2 274.1C1127.3 277.2 1124.4 280.2 1121.5 283.2C1118.6 286.3 1115.7 289.3 1112.7 292.3C1109.8 295.3 1106.8 298.2 1103.8 301.2C1100.8 304.1 1097.8 307 1094.8 309.9C1091.8 312.8 1088.7 315.7 1085.6 318.5C1082.5 321.3 1079.4 324.1 1076.2 326.9C1073.1 329.6 1069.9 332.3 1066.7 335C1063.5 337.6 1060.2 340.3 1056.9 342.8C1053.6 345.4 1050.3 347.9 1046.9 350.3C1043.5 352.7 1040 355 1036.4 357.2C1032.9 359.5 1029.3 361.6 1025.6 363.6C1021.8 365.6 1018 367.5 1014.1 369.2C1010.2 370.9 1006.1 372.5 1002.1 373.9C998.1 375.3 994.3 376.5 990.3 377.4C986.4 378.3 981.5 379.1 978.5 379.4C975.5 379.7 973.9 379.3 972.3 379.1C970.8 378.9 970.2 378.6 969.2 378.2C968.2 377.8 967.2 377.2 966.5 376.7C965.8 376.2 965.4 375.8 964.8 375.1C964.2 374.4 963.5 373.5 963 372.4C962.4 371.2 961.8 369.7 961.5 368.3C961.2 366.8 961 366 961.1 363.7C961.2 361.5 961.5 358.4 962.3 355C963 351.6 964.5 347 965.8 343.1C967.1 339.3 968.5 335.6 970.1 331.7C971.7 327.9 973.5 323.8 975.3 319.9C977.1 316 979.1 312.3 981.1 308.5C983.1 304.8 985.2 301.2 987.3 297.6C989.5 294 991.7 290.4 994 287C996.3 283.5 998.7 280 1001 276.6C1003.4 273.2 1005.9 269.8 1008.3 266.5C1010.8 263.1 1013.3 259.8 1015.9 256.5C1018.4 253.1 1020.9 249.8 1023.5 246.5C1026.1 243.2 1028.6 239.9 1031.2 236.6C1033.8 233.3 1036.5 230.1 1039.1 226.8C1041.7 223.5 1044.4 220.3 1047.1 217C1049.7 213.8 1052.4 210.6 1055.2 207.3C1057.9 204.1 1060.6 200.9 1063.4 197.8C1066.1 194.6 1068.9 191.4 1071.7 188.3C1074.6 185.2 1077.4 182.1 1080.3 179C1083.1 175.9 1086 172.8 1088.9 169.8C1091.9 166.8 1094.8 163.8 1097.8 160.8C1100.8 157.8 1103.8 154.9 1106.8 152C1109.8 149.1 1112.9 146.2 1116 143.4C1119.1 140.5 1122.3 137.7 1125.4 135C1128.6 132.2 1131.8 129.5 1135 126.8C1138.3 124.1 1141.5 121.5 1144.9 118.9C1148.2 116.3 1151.5 113.7 1154.9 111.2C1158.3 108.7 1161.7 106.3 1165.2 103.9C1168.6 101.5 1172.1 99.2 1175.6 97C1179.2 94.8 1182.7 92.6 1186.3 90.5C1189.9 88.4 1193.5 86.4 1197.2 84.5C1200.9 82.6 1204.6 80.8 1208.5 78.9C1212.3 77.1 1216.4 75.2 1220.3 73.6C1224.2 72 1228.9 70.2 1231.8 69.3C1234.7 68.5 1236.2 68.6 1237.6 68.5C1239.1 68.3 1239.3 68.4 1240.5 68.5Z" fill="none" stroke="#4367fd" stroke-width="1.6"/>
<path d="M1224.8 90C1227.6 90.1 1228.9 90.5 1230.4 90.9C1231.8 91.3 1232.7 91.8 1233.6 92.3C1234.5 92.8 1235 93.3 1235.5 93.9C1236.1 94.5 1236.5 95.1 1236.9 96C1237.3 96.9 1237.7 97.6 1238 99.4C1238.3 101.2 1238.7 104 1238.6 106.8C1238.5 109.6 1238.2 112.5 1237.3 116C1236.4 119.5 1234.7 123.8 1233 127.7C1231.3 131.5 1229.1 135.3 1226.9 139C1224.8 142.8 1222.4 146.5 1220.1 150.1C1217.9 153.8 1215.6 157.4 1213.3 160.9C1211 164.5 1208.6 168 1206.3 171.5C1203.9 175 1201.6 178.4 1199.2 181.8C1196.8 185.3 1194.4 188.6 1192 192C1189.5 195.3 1187.1 198.6 1184.6 201.9C1182.2 205.2 1179.7 208.4 1177.1 211.6C1174.6 214.8 1172.1 218 1169.5 221.2C1166.9 224.3 1164.4 227.5 1161.7 230.6C1159.1 233.7 1156.5 236.8 1153.8 239.9C1151.1 243 1148.4 246 1145.7 249.1C1142.9 252.1 1140.2 255.1 1137.4 258.2C1134.6 261.2 1131.7 264.2 1128.9 267.2C1126 270.1 1123.1 273.1 1120.2 276.1C1117.3 279 1114.3 281.9 1111.3 284.8C1108.3 287.7 1105.3 290.6 1102.3 293.4C1099.2 296.3 1096.2 299.1 1093 301.8C1089.9 304.6 1086.8 307.3 1083.6 310C1080.5 312.7 1077.3 315.4 1074.1 318C1070.9 320.6 1067.6 323.1 1064.3 325.6C1061.1 328.1 1057.7 330.6 1054.4 333C1051.1 335.4 1047.7 337.7 1044.3 340C1040.9 342.3 1037.6 344.5 1034.1 346.6C1030.5 348.7 1027 350.7 1023.3 352.5C1019.5 354.3 1015.5 356.1 1011.7 357.4C1007.8 358.8 1002.7 360 999.9 360.6C997.2 361.2 996.3 361 995.1 360.9C993.8 360.9 993.3 360.8 992.4 360.5C991.6 360.3 990.9 360 990 359.5C989.2 359 988.2 358.3 987.2 357.4C986.3 356.4 985.3 355.2 984.4 353.7C983.6 352.2 982.7 350.4 982.1 348.4C981.4 346.5 980.9 344.2 980.7 341.8C980.6 339.5 980.6 337.2 981 334.5C981.5 331.8 982.2 328.9 983.5 325.6C984.8 322.3 986.9 318.1 988.9 314.4C990.8 310.7 993 307.1 995.2 303.5C997.3 299.8 999.4 296.2 1001.6 292.6C1003.8 289 1006 285.5 1008.2 281.9C1010.4 278.4 1012.7 274.8 1015 271.3C1017.2 267.8 1019.5 264.3 1021.9 260.9C1024.2 257.4 1026.6 254 1028.9 250.6C1031.3 247.2 1033.8 243.9 1036.2 240.5C1038.7 237.2 1041.1 233.9 1043.6 230.6C1046.2 227.3 1048.7 224.1 1051.3 220.9C1053.9 217.7 1056.5 214.5 1059.1 211.4C1061.8 208.2 1064.5 205.2 1067.2 202.1C1069.9 199 1072.7 196 1075.4 193C1078.2 190 1081.1 187.1 1083.9 184.1C1086.8 181.2 1089.7 178.3 1092.6 175.5C1095.5 172.6 1098.5 169.8 1101.5 167C1104.5 164.2 1107.5 161.4 1110.6 158.7C1113.6 155.9 1116.7 153.2 1119.9 150.5C1123 147.8 1126.2 145.1 1129.4 142.5C1132.6 139.8 1135.8 137.2 1139.1 134.6C1142.3 132 1145.6 129.4 1149 126.9C1152.3 124.3 1155.7 121.8 1159.1 119.2C1162.5 116.7 1165.9 114.2 1169.4 111.7C1172.8 109.2 1176.3 106.7 1179.9 104.5C1183.4 102.2 1187 100 1190.7 98.1C1194.3 96.2 1198.1 94.5 1201.9 93.2C1205.7 91.9 1209.7 90.8 1213.5 90.3C1217.3 89.8 1221.9 89.9 1224.8 90Z" fill="none" stroke="#2d8cf3" stroke-width="1.6"/>
<path d="M1209.8 104.1C1210.9 104.2 1212.3 104.5 1213.4 104.9C1214.5 105.3 1215.6 105.9 1216.6 106.5C1217.5 107.2 1218.5 107.9 1219.2 108.8C1220 109.6 1220.7 110.7 1221.2 111.6C1221.6 112.5 1221.8 113.2 1222 114C1222.2 114.8 1222.4 115.2 1222.3 116.6C1222.3 117.9 1222.3 119.1 1221.6 122C1220.9 124.9 1219.3 130.1 1217.9 134C1216.6 137.9 1215 141.8 1213.4 145.6C1211.7 149.4 1209.9 153.1 1208 156.8C1206.2 160.4 1204.1 164.1 1202 167.6C1199.9 171.2 1197.7 174.7 1195.4 178.2C1193.1 181.7 1190.8 185.1 1188.3 188.5C1185.9 191.9 1183.4 195.3 1180.9 198.6C1178.3 201.9 1175.7 205.2 1173.1 208.5C1170.5 211.7 1167.9 214.9 1165.2 218.1C1162.6 221.3 1159.9 224.5 1157.2 227.7C1154.6 230.8 1151.9 234 1149.3 237.1C1146.6 240.2 1144 243.3 1141.3 246.3C1138.6 249.4 1135.9 252.4 1133.2 255.4C1130.4 258.4 1127.7 261.4 1124.8 264.3C1122 267.3 1119.1 270.2 1116.1 273C1113.1 275.9 1110.1 278.7 1107 281.4C1103.8 284.2 1100.6 286.9 1097.4 289.6C1094.2 292.3 1090.9 294.9 1087.7 297.5C1084.5 300.2 1081.3 302.8 1078.1 305.4C1074.9 307.9 1071.8 310.5 1068.6 313C1065.5 315.6 1062.3 318.1 1059 320.6C1055.8 323.1 1052.5 325.5 1049.2 328C1045.8 330.4 1042.4 332.9 1038.8 335.1C1035.2 337.2 1030.8 339.5 1027.5 340.9C1024.1 342.2 1021.5 342.7 1018.7 343C1015.9 343.4 1012.8 343.3 1010.5 343.1C1008.2 342.9 1006.3 342.4 1004.9 342C1003.4 341.5 1002.5 341 1001.7 340.5C1000.8 340.1 1000.3 339.7 999.7 339.1C999.2 338.6 998.7 338 998.2 337.4C997.8 336.8 997.5 336.3 997.2 335.4C996.9 334.6 996.5 333.8 996.4 332.4C996.2 331 995.9 330 996.3 327.2C996.8 324.4 997.9 319.4 999.1 315.5C1000.3 311.6 1001.9 307.7 1003.6 303.8C1005.3 299.9 1007.2 295.9 1009.2 292.1C1011.1 288.4 1013.2 284.8 1015.3 281.2C1017.4 277.7 1019.6 274.3 1021.9 271C1024.1 267.6 1026.4 264.4 1028.8 261.1C1031.1 257.8 1033.5 254.6 1035.9 251.3C1038.3 248 1040.8 244.8 1043.2 241.5C1045.7 238.2 1048.2 234.9 1050.7 231.6C1053.2 228.3 1055.7 225 1058.3 221.8C1060.9 218.5 1063.5 215.2 1066.1 212C1068.8 208.8 1071.5 205.7 1074.2 202.5C1077 199.4 1079.8 196.3 1082.6 193.2C1085.4 190.2 1088.3 187.1 1091.2 184.2C1094.1 181.2 1097 178.2 1100 175.4C1103 172.5 1106 169.6 1109.1 166.8C1112.1 164 1115.2 161.3 1118.3 158.6C1121.4 155.9 1124.6 153.2 1127.8 150.6C1131 148 1134.2 145.4 1137.4 142.9C1140.7 140.4 1143.9 138 1147.2 135.6C1150.5 133.2 1153.9 130.8 1157.2 128.5C1160.6 126.2 1164 124 1167.4 121.8C1170.9 119.7 1174.5 117.6 1178.2 115.6C1181.9 113.6 1185.9 111.5 1189.7 109.8C1193.6 108 1198.3 106.1 1201.2 105.1C1204.1 104.2 1205.6 104.2 1207 104C1208.5 103.9 1208.8 103.9 1209.8 104.1Z" fill="none" stroke="#1caadf" stroke-width="1.6"/>
<path d="M1196.1 120.7C1198 120.6 1199.5 120.6 1200.7 120.8C1201.9 120.9 1202.5 121.2 1203.1 121.4C1203.8 121.7 1204 121.8 1204.6 122.3C1205.1 122.7 1205.8 123.4 1206.3 124.2C1206.8 124.9 1207.2 125.5 1207.6 126.6C1208 127.6 1208.4 128.9 1208.6 130.3C1208.8 131.7 1208.9 133.2 1208.7 135.2C1208.5 137.1 1208.3 138.8 1207.2 141.8C1206.1 144.9 1203.9 149.8 1202 153.6C1200.2 157.4 1198.1 161 1196 164.6C1193.9 168.1 1191.6 171.6 1189.4 174.9C1187.1 178.3 1184.7 181.6 1182.3 184.8C1179.9 188.1 1177.4 191.3 1174.9 194.5C1172.4 197.7 1169.9 200.8 1167.4 204C1164.9 207.2 1162.4 210.4 1159.9 213.6C1157.4 216.9 1154.9 220.2 1152.5 223.5C1150.2 226.9 1147.9 230.4 1145.5 233.9C1143.2 237.3 1141 241 1138.6 244.3C1136.2 247.7 1133.8 251.1 1131 254.1C1128.3 257 1125.3 259.7 1122.1 262.1C1118.9 264.6 1115.2 266.4 1111.8 268.7C1108.5 271 1105.1 273.3 1101.8 275.8C1098.5 278.3 1095.4 280.9 1092.2 283.6C1089.1 286.3 1086.1 289.1 1083 291.9C1080 294.6 1077 297.4 1073.9 300.1C1070.9 302.8 1067.9 305.4 1064.7 307.9C1061.6 310.4 1058.4 312.8 1055.1 315C1051.7 317.3 1048.2 319.3 1044.5 321.2C1040.7 323 1036.4 324.8 1032.5 326C1028.6 327.3 1024 328.2 1021.3 328.7C1018.7 329.1 1017.9 328.8 1016.8 328.7C1015.7 328.6 1015.2 328.4 1014.6 328.1C1014 327.9 1013.7 327.7 1013.4 327.5C1013 327.2 1012.7 327 1012.4 326.5C1012 326.1 1011.6 325.5 1011.3 324.7C1011 323.9 1010.7 323.3 1010.6 321.7C1010.5 320.1 1010.2 318.4 1010.7 315.2C1011.1 312 1012.2 306.6 1013.3 302.5C1014.5 298.4 1016 294.6 1017.7 290.8C1019.3 287 1021.2 283.4 1023.3 279.9C1025.3 276.3 1027.5 272.9 1029.8 269.5C1032.1 266.1 1034.5 262.8 1036.9 259.5C1039.3 256.2 1041.8 252.9 1044.3 249.6C1046.7 246.3 1049.1 242.9 1051.6 239.6C1054.1 236.3 1056.5 233 1059 229.7C1061.5 226.4 1063.9 223.1 1066.5 219.9C1069 216.6 1071.5 213.4 1074.1 210.3C1076.7 207.2 1079.4 204.1 1082.1 201.1C1084.8 198.1 1087.5 195.2 1090.3 192.3C1093.1 189.4 1095.9 186.5 1098.8 183.7C1101.7 180.8 1104.6 178 1107.6 175.2C1110.5 172.4 1113.6 169.7 1116.6 166.9C1119.7 164.1 1122.8 161.4 1125.9 158.6C1129 155.9 1132.2 153.1 1135.5 150.4C1138.7 147.8 1142 145.1 1145.3 142.6C1148.7 140.1 1152.1 137.7 1155.6 135.5C1159 133.3 1162.6 131.2 1166.2 129.4C1169.8 127.6 1173.3 125.9 1177.2 124.6C1181.1 123.3 1186.5 122.1 1189.7 121.4C1192.8 120.8 1194.3 120.8 1196.1 120.7Z" fill="none" stroke="#12beb9" stroke-width="1.6"/>
<path d="M1184.9 133.8C1185.6 134.1 1187.1 134.6 1188.1 135.1C1189.1 135.7 1190.2 136.4 1191 137.1C1191.7 137.7 1192.2 138.3 1192.7 139C1193.1 139.7 1193.6 140.4 1193.8 141.2C1194.1 142 1194.3 142.7 1194.4 143.7C1194.4 144.7 1194.8 144.7 1194.1 147.3C1193.3 150 1191.6 155.5 1189.9 159.3C1188.3 163.1 1186.4 166.5 1184.4 170.1C1182.3 173.7 1179.7 177.5 1177.3 180.9C1175 184.4 1172.7 187.4 1170.4 190.7C1168 194 1165.7 197.3 1163.3 200.7C1161 204.1 1158.7 207.6 1156.3 211C1154 214.4 1151.7 217.8 1149.3 221.2C1146.9 224.5 1144.6 227.7 1142 231C1139.4 234.3 1136.6 237.7 1133.9 240.9C1131.1 244 1128.3 247.1 1125.4 250.1C1122.5 253.1 1119.5 256 1116.5 258.8C1113.4 261.7 1110.4 264.4 1107.2 267.2C1104 269.9 1100.8 272.6 1097.5 275.3C1094.3 277.9 1090.8 280.7 1087.5 283.3C1084.2 285.9 1081.1 288.2 1077.8 290.7C1074.5 293.3 1071.1 295.8 1067.7 298.4C1064.3 300.9 1060.8 303.7 1057.3 306C1053.7 308.3 1049.2 310.8 1046.4 312.1C1043.5 313.4 1042.2 313.5 1040.3 313.9C1038.4 314.2 1036.6 314.3 1034.9 314.2C1033.3 314.1 1031.7 313.8 1030.4 313.5C1029.1 313.2 1028.1 312.7 1027.2 312.2C1026.3 311.8 1025.7 311.4 1025.2 310.9C1024.6 310.4 1024 309.7 1023.7 309.2C1023.3 308.7 1023.2 308.3 1023 307.9C1022.9 307.4 1022.7 307 1022.7 306.4C1022.7 305.7 1022.2 306.3 1022.9 303.9C1023.7 301.5 1025.7 295.9 1027.2 292C1028.7 288.1 1030.4 284.3 1032.2 280.6C1033.9 276.9 1035.6 273.4 1037.5 269.7C1039.5 266 1041.8 262 1043.9 258.5C1046.1 254.9 1048.2 251.7 1050.5 248.4C1052.8 245.1 1055.2 241.9 1057.7 238.6C1060.1 235.4 1062.7 232.3 1065.3 229.1C1067.9 226 1070.5 222.9 1073.2 219.8C1075.9 216.7 1078.6 213.7 1081.3 210.7C1084 207.7 1086.5 204.8 1089.4 201.7C1092.2 198.7 1095.2 195.4 1098.1 192.3C1101.1 189.2 1104.1 186.1 1107.1 183.1C1110.1 180.1 1113.2 177.2 1116.3 174.3C1119.5 171.4 1122.8 168.4 1125.9 165.7C1129.1 163 1132.1 160.6 1135.3 158.1C1138.5 155.6 1141.8 153.2 1145.2 150.8C1148.6 148.4 1152 146.1 1155.6 143.9C1159.2 141.6 1163.4 139.1 1166.7 137.4C1170 135.8 1173.2 134.7 1175.5 134C1177.8 133.3 1179.3 133.4 1180.7 133.3C1182.1 133.3 1183.4 133.6 1184.1 133.6C1184.8 133.7 1184.2 133.6 1184.9 133.8Z" fill="none" stroke="#48cb86" stroke-width="1.6"/>
<path d="M1171.2 148.4C1172.3 148.6 1173.4 149 1174.3 149.5C1175.3 150 1176.3 150.8 1177.1 151.4C1177.8 152 1178.2 152.5 1178.7 153.2C1179.1 153.9 1179.5 154.6 1179.8 155.3C1180.1 156.1 1180.3 156.6 1180.3 157.8C1180.3 158.9 1180.6 159.5 1180 162.2C1179.4 165 1177.9 170.3 1176.5 174.1C1175 177.9 1173.4 181.4 1171.4 185.1C1169.5 188.7 1167.2 192.5 1164.8 196.1C1162.4 199.7 1159.9 203.2 1157.3 206.6C1154.7 210 1151.8 213.4 1149.1 216.6C1146.4 219.7 1143.8 222.6 1141 225.5C1138.3 228.4 1135.6 231.1 1132.6 234.1C1129.7 237 1126.5 240.1 1123.3 243C1120.2 245.9 1117.1 248.8 1114 251.7C1110.9 254.5 1107.8 257.3 1104.7 260.1C1101.5 262.9 1098.5 265.6 1095.3 268.3C1092.1 271 1088.7 273.8 1085.5 276.3C1082.2 278.8 1079.1 281 1075.6 283.3C1072.2 285.6 1068.5 287.9 1064.8 290C1061.2 292.1 1056.9 294.3 1053.7 295.7C1050.6 297.1 1047.5 298.1 1045.7 298.6C1043.8 299.1 1043.5 299 1042.7 299C1041.8 299 1041.2 298.9 1040.7 298.8C1040.2 298.7 1039.9 298.6 1039.6 298.4C1039.3 298.3 1039 298.1 1038.7 297.8C1038.4 297.6 1038.2 297.3 1038 296.9C1037.7 296.6 1037.6 296.3 1037.4 295.8C1037.3 295.2 1037.1 294.7 1037.1 293.6C1037.1 292.5 1036.8 291.9 1037.4 289.2C1038.1 286.6 1039.4 281.5 1040.8 277.7C1042.2 273.8 1043.9 270.1 1045.8 266.3C1047.7 262.6 1050 258.8 1052.3 255.2C1054.5 251.6 1057 248.3 1059.5 244.9C1062 241.5 1064.5 238.1 1067.2 234.8C1069.8 231.5 1072.6 228.1 1075.2 224.9C1077.9 221.8 1080.4 218.8 1083.1 215.8C1085.8 212.8 1088.5 209.8 1091.2 206.8C1094 203.9 1096.6 201 1099.5 198C1102.4 195.1 1105.5 191.9 1108.5 189C1111.4 186.1 1114.3 183.3 1117.4 180.5C1120.4 177.7 1123.4 175.1 1126.6 172.4C1129.8 169.6 1133.3 166.8 1136.6 164.2C1139.9 161.7 1142.9 159.3 1146.2 157.1C1149.6 154.9 1153.7 152.3 1156.7 150.8C1159.6 149.4 1161.8 148.9 1163.7 148.4C1165.5 147.9 1166.7 148 1167.9 148C1169.2 147.9 1170.1 148.1 1171.2 148.4Z" fill="none" stroke="#9fc942" stroke-width="1.6"/>
<path d="M1157.1 164.4C1157.9 164.6 1159.4 165 1160.2 165.4C1161.1 165.8 1161.7 166.2 1162.3 166.7C1162.9 167.2 1163.5 167.8 1164 168.4C1164.4 169 1164.8 169.7 1165 170.4C1165.3 171.2 1165.5 171.8 1165.5 172.8C1165.6 173.7 1165.7 174.5 1165.4 176.1C1165 177.7 1164.6 179.5 1163.4 182.4C1162.2 185.4 1159.9 190.1 1158 193.9C1156.1 197.6 1154.1 201.4 1151.9 204.9C1149.8 208.4 1147.6 211.6 1145.1 214.8C1142.7 218 1139.9 220.9 1137 223.9C1134 226.8 1130.8 229.6 1127.6 232.4C1124.4 235.3 1121 238 1117.9 240.8C1114.8 243.6 1111.8 246.2 1108.8 249.2C1105.9 252.1 1103.1 255.4 1100.2 258.4C1097.3 261.4 1094.7 264.4 1091.6 267.2C1088.5 269.9 1085.2 272.7 1081.7 275.1C1078.2 277.4 1073.5 279.9 1070.5 281.3C1067.5 282.7 1065.5 283 1063.7 283.4C1061.9 283.8 1060.9 283.8 1059.8 283.8C1058.6 283.8 1057.7 283.6 1056.9 283.4C1056.1 283.2 1055.5 282.9 1055 282.7C1054.5 282.4 1054.3 282.2 1054 282C1053.7 281.7 1053.4 281.4 1053.2 281C1052.9 280.7 1052.7 280.4 1052.6 279.9C1052.4 279.3 1052.2 278.8 1052.3 277.8C1052.3 276.7 1052.1 276.1 1052.8 273.5C1053.5 270.8 1055.2 265.5 1056.7 261.8C1058.3 258.1 1060.1 254.7 1062.3 251.1C1064.4 247.6 1066.9 244 1069.4 240.6C1071.9 237.2 1074.6 233.9 1077.2 230.7C1079.9 227.5 1082.5 224.4 1085.2 221.3C1087.9 218.1 1090.6 215.1 1093.4 212.1C1096.1 209.1 1098.9 206.1 1101.7 203.2C1104.6 200.3 1107.5 197.4 1110.5 194.5C1113.5 191.7 1116.6 188.9 1119.7 186.1C1122.9 183.3 1126.3 180.5 1129.6 177.8C1132.9 175.2 1136.5 172.3 1139.5 170.3C1142.5 168.3 1145.3 166.7 1147.4 165.7C1149.6 164.7 1150.9 164.6 1152.3 164.3C1153.6 164.1 1154.7 164.2 1155.5 164.2C1156.3 164.2 1156.3 164.2 1157.1 164.4Z" fill="none" stroke="#eaba31" stroke-width="1.6"/>
<path d="M1144.3 184.6C1144.4 184.7 1144.7 185 1144.9 185.2C1145.1 185.4 1145.2 185.6 1145.3 186C1145.4 186.4 1145.6 186.8 1145.5 187.7C1145.5 188.6 1145.9 188.7 1145 191.3C1144.2 193.8 1142.2 199.2 1140.4 203C1138.6 206.7 1136.7 210.1 1134.4 213.6C1132.2 217 1129.6 220.4 1127 223.5C1124.3 226.5 1121.5 229.2 1118.5 232C1115.6 234.8 1112.2 237.5 1109.1 240.2C1106 242.9 1102.9 245.4 1099.8 248.1C1096.7 250.8 1093.5 254 1090.5 256.4C1087.5 258.8 1084.3 261.1 1082 262.6C1079.6 264 1078 264.4 1076.4 264.9C1074.8 265.4 1073.4 265.5 1072.5 265.7C1071.7 265.8 1071.6 265.7 1071.2 265.6C1070.8 265.5 1070.5 265.4 1070.2 265.3C1069.9 265.2 1069.6 265 1069.4 264.7C1069.2 264.5 1069 264.2 1068.9 263.9C1068.8 263.6 1068.7 263.4 1068.6 262.9C1068.6 262.4 1068.5 262.1 1068.7 261C1068.9 259.9 1068.8 259 1070 256.4C1071.2 253.9 1073.6 249.2 1075.8 245.8C1078 242.5 1080.7 239.5 1083.3 236.3C1085.9 233.1 1088.7 230 1091.4 226.7C1094 223.4 1096.5 219.9 1099.1 216.6C1101.7 213.3 1104.3 210 1107 206.9C1109.8 203.8 1112.6 200.9 1115.8 198.2C1119 195.5 1122.6 192.8 1126.2 190.7C1129.8 188.5 1134.7 186.4 1137.2 185.3C1139.6 184.2 1140 184.5 1141 184.3C1141.9 184.1 1142.4 184.2 1142.9 184.2C1143.3 184.2 1143.6 184.3 1143.9 184.4C1144.1 184.5 1144.1 184.5 1144.3 184.6Z" fill="none" stroke="#fad42e" stroke-width="1.6"/>
</g>
<clipPath id="cpc"><rect x="81.3" y="707.0" width="634.2" height="497.0"/></clipPath><g clip-path="url(#cpc)">
<path d="M210.3 742.6C211 742.7 211.7 742.7 212.9 743.1C214.1 743.5 215.7 744 217.6 745.3C219.5 746.5 222.3 748.4 224.5 750.5C226.7 752.6 228.6 755 230.7 758.1C232.8 761.1 234.9 765.1 237 768.8C239.1 772.4 241 776.1 243 779.8C245 783.5 247.1 787.3 249.1 790.9C251.2 794.6 253.2 798.2 255.4 801.8C257.5 805.4 259.6 809 261.8 812.6C263.9 816.1 266.1 819.6 268.3 823.2C270.5 826.7 272.7 830.2 275 833.7C277.2 837.2 279.4 840.6 281.7 844.1C284 847.6 286.2 851.1 288.5 854.6C290.7 858 293 861.5 295.3 865C297.6 868.5 299.8 872 302.1 875.5C304.4 879.1 306.7 882.6 309 886.1C311.3 889.6 313.6 893.1 315.9 896.6C318.2 900.1 320.5 903.6 322.9 907.1C325.2 910.6 327.6 914.1 329.9 917.6C332.3 921 334.7 924.5 337.2 927.9C339.6 931.3 342 934.8 344.5 938.1C347 941.5 349.5 944.9 352.1 948.2C354.6 951.5 357.2 954.8 359.8 958.1C362.4 961.4 365.1 964.6 367.7 967.8C370.4 971 373.2 974.1 376 977.2C378.7 980.3 381.6 983.4 384.4 986.4C387.3 989.4 390.2 992.3 393.2 995.2C396.2 998.1 399.2 1001 402.3 1003.8C405.4 1006.6 408.6 1009.3 411.8 1011.9C415 1014.6 418.3 1017.2 421.6 1019.7C424.9 1022.3 428.3 1024.7 431.7 1027.2C435.1 1029.6 438.6 1032 442 1034.4C445.5 1036.8 448.9 1039.2 452.4 1041.6C455.8 1044.1 459.2 1046.5 462.5 1049C465.9 1051.5 469.2 1054 472.4 1056.6C475.6 1059.2 478.8 1061.9 481.8 1064.7C484.8 1067.5 487.8 1070.3 490.6 1073.4C493.4 1076.4 496 1079.5 498.7 1082.7C501.3 1085.9 503.9 1089.2 506.5 1092.4C509.1 1095.6 511.7 1098.8 514.4 1102.1C517.1 1105.3 519.9 1108.6 522.5 1111.9C525 1115.3 527.9 1119.3 529.6 1122C531.3 1124.8 532.3 1127.1 532.9 1128.5C533.5 1129.8 533.2 1129.6 533.2 1130.1C533.2 1130.6 533.2 1131.1 533.1 1131.5C533 1132 532.8 1132.4 532.5 1132.8C532.3 1133.2 532.1 1133.4 531.6 1133.8C531.1 1134.2 531.7 1134.4 529.6 1135.2C527.6 1136 522.9 1137.8 519.1 1138.9C515.4 1139.9 511.1 1140.7 507 1141.3C502.9 1141.9 498.8 1142.3 494.6 1142.5C490.4 1142.7 486.2 1142.7 481.9 1142.5C477.7 1142.4 473.4 1142 469.2 1141.6C464.9 1141.2 460.7 1140.6 456.5 1140C452.3 1139.3 448.1 1138.5 443.9 1137.7C439.8 1136.9 435.7 1135.9 431.6 1134.9C427.6 1134 423.6 1132.9 419.6 1131.7C415.6 1130.6 411.6 1129.3 407.7 1128C403.7 1126.7 399.9 1125.3 396 1123.9C392.1 1122.4 388.3 1120.9 384.4 1119.3C380.6 1117.7 376.8 1116 373.1 1114.3C369.3 1112.6 365.5 1110.7 361.8 1108.9C358.1 1107 354.4 1105.1 350.7 1103C347 1101 343.4 1098.9 339.8 1096.8C336.2 1094.6 332.6 1092.4 329.1 1090.1C325.6 1087.7 322.2 1085.3 318.8 1082.8C315.4 1080.3 312.1 1077.8 308.9 1075.1C305.7 1072.4 302.6 1069.7 299.5 1066.8C296.5 1064 293.6 1061 290.7 1057.9C287.9 1054.9 285.2 1051.7 282.6 1048.5C280 1045.2 277.5 1041.9 275 1038.5C272.6 1035.1 270.3 1031.6 268 1028.1C265.8 1024.5 263.6 1020.9 261.6 1017.3C259.5 1013.7 257.5 1010 255.5 1006.3C253.6 1002.5 251.7 998.8 249.9 995C248.1 991.2 246.4 987.4 244.7 983.6C243 979.8 241.4 975.9 239.8 972C238.2 968.2 236.7 964.3 235.3 960.4C233.8 956.5 232.4 952.5 231 948.6C229.7 944.6 228.4 940.7 227.1 936.7C225.9 932.7 224.7 928.7 223.5 924.7C222.4 920.7 221.2 916.7 220.2 912.7C219.1 908.6 218.1 904.6 217.1 900.6C216.1 896.5 215.1 892.5 214.2 888.4C213.3 884.3 212.4 880.3 211.5 876.2C210.7 872.1 209.8 868 209.1 864C208.3 859.9 207.5 855.8 206.8 851.7C206 847.6 205.3 843.5 204.7 839.4C204.1 835.3 203.5 831.2 203 827.1C202.5 823 202 818.8 201.6 814.7C201.3 810.5 201 806.3 200.8 802.1C200.6 797.9 200.4 793.7 200.4 789.5C200.4 785.2 200.5 780.8 200.7 776.7C200.9 772.6 201.2 768.7 201.6 764.7C202 760.7 202.7 755.5 203.2 752.6C203.7 749.7 204.2 748.5 204.6 747.3C205.1 746.1 205.4 745.7 205.7 745.2C206.1 744.7 206.3 744.4 206.6 744.1C206.9 743.8 207.3 743.5 207.7 743.3C208.1 743.1 208.5 742.9 208.9 742.8C209.4 742.7 209.7 742.6 210.3 742.6Z" fill="none" stroke="#4743e7" stroke-width="1.6"/>
<path d="M237.1 828.6C237.5 828.5 238 828.4 238.7 828.5C239.4 828.6 240.1 828.6 241.2 829.1C242.3 829.6 243.8 830.1 245.5 831.3C247.2 832.6 249.3 833.9 251.6 836.5C253.9 839 256.9 843.1 259.4 846.4C261.9 849.8 264.2 853.4 266.7 856.8C269.1 860.2 271.6 863.5 274.1 866.8C276.6 870.2 279.2 873.4 281.7 876.7C284.3 880 286.9 883.2 289.4 886.5C292 889.7 294.6 893 297.1 896.2C299.7 899.5 302.2 902.7 304.8 906C307.3 909.3 309.8 912.6 312.4 915.9C314.9 919.2 317.4 922.5 319.9 925.8C322.5 929.1 325 932.4 327.5 935.7C330.1 938.9 332.6 942.2 335.2 945.5C337.7 948.8 340.3 952 342.9 955.3C345.5 958.5 348.2 961.7 350.8 964.9C353.5 968.1 356.2 971.2 358.9 974.3C361.6 977.5 364.4 980.6 367.2 983.6C370 986.6 372.9 989.6 375.8 992.6C378.7 995.6 381.6 998.5 384.7 1001.3C387.7 1004.2 390.8 1007 393.9 1009.7C397 1012.4 400.3 1015.1 403.5 1017.7C406.8 1020.3 410.2 1022.9 413.6 1025.4C416.9 1027.9 420.4 1030.3 423.8 1032.8C427.2 1035.2 430.7 1037.6 434.1 1040.1C437.5 1042.6 440.9 1045 444.2 1047.6C447.5 1050.1 450.7 1052.6 453.9 1055.3C457 1058 460.1 1060.7 462.9 1063.5C465.8 1066.4 468.6 1069.3 471.2 1072.4C473.8 1075.4 476.1 1078.7 478.5 1082C480.9 1085.3 483.1 1088.7 485.5 1092.2C487.9 1095.7 490.3 1099.4 492.7 1102.8C495.1 1106.3 497.7 1109.7 500 1112.8C502.4 1116 505.5 1120.1 506.8 1122C508.1 1123.9 507.6 1123.7 507.8 1124.4C508 1125 508 1125.4 508 1125.9C508.1 1126.4 508 1126.9 507.9 1127.3C507.8 1127.8 507.6 1128.3 507.4 1128.7C507.2 1129.1 506.9 1129.4 506.6 1129.8C506.2 1130.1 506.1 1130.3 505.4 1130.7C504.7 1131 504.9 1131.4 502.3 1131.9C499.7 1132.5 494.1 1133.5 490 1134C485.9 1134.5 481.7 1134.8 477.6 1134.9C473.4 1135.1 469.2 1135 465 1134.9C460.9 1134.7 456.7 1134.3 452.5 1133.8C448.4 1133.4 444.2 1132.7 440.1 1132C435.9 1131.3 431.8 1130.4 427.7 1129.4C423.6 1128.4 419.5 1127.3 415.5 1126.1C411.4 1125 407.4 1123.7 403.4 1122.3C399.5 1120.9 395.5 1119.5 391.6 1117.9C387.7 1116.4 383.8 1114.8 380 1113C376.2 1111.3 372.4 1109.5 368.7 1107.6C365 1105.7 361.3 1103.8 357.7 1101.7C354.1 1099.6 350.6 1097.5 347.1 1095.3C343.6 1093 340.1 1090.7 336.8 1088.3C333.4 1085.9 330.1 1083.4 326.9 1080.9C323.7 1078.3 320.5 1075.7 317.4 1072.9C314.3 1070.2 311.3 1067.4 308.4 1064.5C305.5 1061.7 302.6 1058.7 299.9 1055.7C297.1 1052.6 294.4 1049.5 291.9 1046.3C289.3 1043.1 286.8 1039.8 284.4 1036.5C282 1033.1 279.7 1029.7 277.5 1026.2C275.3 1022.7 273.2 1019.1 271.2 1015.5C269.2 1011.8 267.3 1008.1 265.5 1004.3C263.7 1000.5 262 996.7 260.4 992.8C258.8 988.9 257.3 984.9 255.8 981C254.3 977 252.9 973 251.6 969C250.2 965 248.9 960.9 247.6 956.9C246.4 952.9 245.1 948.9 243.9 944.8C242.7 940.8 241.5 936.8 240.3 932.9C239.1 928.9 237.9 925 236.8 921.1C235.6 917.2 234.4 913.4 233.3 909.5C232.2 905.6 231.2 901.8 230.2 897.9C229.3 894 228.4 890 227.8 886C227.1 882 226.5 877.9 226.2 873.7C225.9 869.5 225.7 865.1 225.8 860.8C225.9 856.6 226.1 852.2 226.8 848.3C227.4 844.4 228.6 840.1 229.5 837.4C230.4 834.8 231.4 833.5 232.1 832.3C232.8 831.2 233.3 830.9 233.8 830.4C234.2 829.9 234.6 829.7 235 829.4C235.4 829.1 236 828.9 236.4 828.7C236.7 828.6 236.7 828.6 237.1 828.6Z" fill="none" stroke="#4367fd" stroke-width="1.6"/>
<path d="M256 879.7C256.6 879.5 257 879.4 257.7 879.4C258.5 879.4 259.4 879.5 260.4 879.8C261.5 880.1 261.9 879.9 264 881.3C266.1 882.7 270 885.3 272.9 887.9C275.9 890.5 278.8 893.9 281.6 896.9C284.4 899.9 287.1 903 289.8 906.1C292.5 909.1 295.2 912.2 297.9 915.3C300.6 918.3 303.3 921.4 305.9 924.5C308.6 927.6 311.3 930.7 313.9 933.8C316.6 936.9 319.2 940.1 321.9 943.2C324.5 946.3 327.1 949.5 329.8 952.7C332.4 955.8 335.1 959 337.7 962.2C340.4 965.4 343 968.6 345.7 971.7C348.4 974.8 351.2 977.9 353.9 981C356.7 984 359.5 987 362.4 990C365.3 992.9 368.3 995.8 371.3 998.5C374.3 1001.3 377.4 1004 380.6 1006.6C383.7 1009.2 387 1011.7 390.2 1014.2C393.5 1016.7 396.8 1019.2 400.1 1021.6C403.4 1024.1 406.7 1026.5 410 1029C413.2 1031.5 416.5 1034 419.7 1036.6C422.9 1039.1 426.1 1041.7 429.2 1044.5C432.2 1047.2 435.2 1050 438.2 1052.9C441.1 1055.8 443.9 1058.8 446.7 1061.8C449.5 1064.8 452.2 1067.9 454.8 1071C457.4 1074.2 460 1077.4 462.4 1080.6C464.9 1083.7 467.2 1087 469.6 1090.2C472 1093.4 474.2 1096.8 476.6 1100C479 1103.3 481.6 1106.6 483.8 1109.6C486 1112.6 488.8 1116.3 490 1118.1C491.2 1119.9 490.8 1119.9 491 1120.6C491.2 1121.3 491.2 1121.7 491.1 1122.2C491.1 1122.7 491.1 1123.2 490.9 1123.7C490.8 1124.2 490.6 1124.7 490.3 1125.1C490.1 1125.5 489.7 1125.9 489.4 1126.3C489 1126.6 488.9 1126.8 488.1 1127.2C487.4 1127.5 487.4 1127.9 484.9 1128.3C482.3 1128.8 476.8 1129.7 472.7 1130C468.7 1130.3 464.5 1130.4 460.4 1130.4C456.3 1130.3 452.2 1130 448.1 1129.5C443.9 1129.1 439.8 1128.5 435.7 1127.7C431.6 1127 427.5 1126 423.5 1125C419.4 1124 415.4 1122.8 411.4 1121.6C407.4 1120.3 403.4 1119 399.5 1117.5C395.6 1116.1 391.8 1114.5 388 1112.9C384.2 1111.2 380.4 1109.5 376.7 1107.7C373 1105.8 369.3 1103.9 365.7 1101.9C362.1 1099.9 358.6 1097.8 355.1 1095.6C351.7 1093.5 348.3 1091.2 344.9 1088.8C341.6 1086.5 338.3 1084 335.1 1081.5C331.9 1079 328.7 1076.4 325.6 1073.7C322.6 1071 319.6 1068.3 316.7 1065.4C313.8 1062.6 310.9 1059.7 308.2 1056.7C305.4 1053.7 302.7 1050.6 300.1 1047.5C297.5 1044.3 295 1041.1 292.6 1037.8C290.2 1034.5 287.9 1031.2 285.7 1027.7C283.4 1024.3 281.3 1020.8 279.3 1017.3C277.2 1013.7 275.3 1010.1 273.4 1006.4C271.6 1002.7 269.8 998.9 268.2 995.1C266.5 991.4 265 987.5 263.5 983.6C262 979.7 260.6 975.8 259.3 971.8C258 967.9 256.8 963.9 255.6 959.8C254.5 955.8 253.4 951.8 252.4 947.7C251.4 943.7 250.4 939.6 249.5 935.6C248.6 931.5 247.8 927.4 247.1 923.4C246.3 919.4 245.4 915.1 245 911.3C244.6 907.4 244.4 903.3 244.6 900.3C244.8 897.3 245.3 895.4 245.9 893.2C246.6 891 247.5 888.9 248.6 887.1C249.6 885.3 251.2 883.3 252.2 882.2C253.2 881.1 253.8 880.9 254.4 880.4C255.1 880 255.5 879.9 256 879.7Z" fill="none" stroke="#2d8cf3" stroke-width="1.6"/>
<path d="M270.1 912.7C270.6 912.5 271 912.5 271.7 912.5C272.4 912.5 273.1 912.5 274.2 912.9C275.3 913.3 276.1 913.3 278.5 914.9C280.9 916.5 285.2 919.8 288.5 922.4C291.8 924.9 295.2 927.4 298.2 930.2C301.2 933 303.8 936 306.4 939.1C309.1 942.2 311.4 945.6 314 948.8C316.5 952 319 955.3 321.7 958.4C324.3 961.5 327.1 964.5 329.9 967.5C332.6 970.5 335.5 973.4 338.4 976.3C341.3 979.1 344.3 981.9 347.3 984.7C350.3 987.4 353.3 990.2 356.4 992.8C359.5 995.5 362.6 998.2 365.7 1000.8C368.8 1003.4 372 1006.1 375.1 1008.7C378.3 1011.3 381.5 1013.8 384.6 1016.4C387.8 1019 391 1021.6 394.1 1024.2C397.3 1026.8 400.4 1029.3 403.6 1032C406.7 1034.6 409.8 1037.2 412.8 1039.9C415.9 1042.5 418.9 1045.2 421.9 1048C424.9 1050.7 427.9 1053.5 430.7 1056.3C433.6 1059.1 436.4 1062 439.1 1065C441.9 1068 444.5 1071 447 1074.1C449.6 1077.3 452 1080.5 454.3 1083.8C456.6 1087.2 458.7 1090.8 460.9 1094.2C463.1 1097.6 465.4 1101.1 467.5 1104.2C469.5 1107.4 471.8 1111.2 472.9 1113.2C474 1115.2 473.7 1115.3 473.9 1116.1C474 1117 474 1117.6 474 1118.2C474 1118.7 473.9 1119.1 473.8 1119.5C473.6 1119.9 473.5 1120.3 473.2 1120.7C473 1121 472.9 1121.3 472.4 1121.8C471.9 1122.2 471.6 1122.7 470.5 1123.2C469.4 1123.8 468.6 1124.5 465.9 1125.2C463.1 1125.9 458.1 1127.1 454 1127.4C449.9 1127.6 445.3 1127.4 441.3 1126.8C437.2 1126.3 433.5 1125.2 429.6 1124C425.6 1122.9 421.3 1121.2 417.4 1119.9C413.4 1118.5 409.7 1117.2 405.9 1115.8C402 1114.4 398.2 1112.9 394.3 1111.4C390.5 1109.9 386.7 1108.4 382.9 1106.7C379.1 1105.1 375.3 1103.4 371.7 1101.6C368 1099.7 364.3 1097.8 360.8 1095.8C357.2 1093.7 353.8 1091.6 350.4 1089.3C347 1087 343.7 1084.6 340.5 1082.1C337.3 1079.6 334.2 1077 331.1 1074.3C328.1 1071.6 325.2 1068.7 322.3 1065.8C319.4 1062.9 316.7 1060 314 1056.9C311.3 1053.8 308.7 1050.7 306.2 1047.4C303.7 1044.2 301.3 1040.9 299 1037.6C296.7 1034.2 294.5 1030.8 292.3 1027.3C290.2 1023.9 288.1 1020.4 286.2 1016.8C284.2 1013.2 282.4 1009.6 280.6 1006C278.8 1002.4 277.2 998.7 275.6 995C274 991.2 272.5 987.5 271 983.7C269.6 979.8 268.3 976 267 972.1C265.7 968.1 264.5 964.2 263.4 960.1C262.3 956.1 261.1 951.9 260.3 947.8C259.5 943.7 258.8 938.8 258.6 935.5C258.3 932.3 258.7 930.3 259 928.2C259.3 926.2 259.8 924.7 260.5 923.1C261.2 921.4 262.2 919.6 263.1 918.2C264.1 916.8 265.4 915.5 266.3 914.7C267.2 913.9 267.9 913.6 268.5 913.2C269.2 912.9 269.6 912.8 270.1 912.7Z" fill="none" stroke="#1caadf" stroke-width="1.6"/>
<path d="M281.7 939C282.4 938.9 283.3 938.7 284.4 938.7C285.4 938.7 286.6 938.8 288 939.2C289.3 939.6 290.6 940 292.4 941.2C294.2 942.3 296.4 943.7 298.9 946C301.4 948.3 304.4 951.9 307.3 954.9C310.2 957.9 313.4 961.2 316.3 964.2C319.3 967.1 322 969.8 325 972.5C327.9 975.3 330.9 978 333.8 980.7C336.8 983.4 339.9 986 342.9 988.7C346 991.3 349 993.9 352.1 996.6C355.2 999.2 358.3 1001.8 361.4 1004.3C364.6 1006.9 367.7 1009.5 370.8 1012.1C373.9 1014.7 377.1 1017.2 380.2 1019.8C383.3 1022.4 386.4 1025 389.5 1027.6C392.6 1030.2 395.6 1032.8 398.7 1035.4C401.7 1038 404.8 1040.7 407.8 1043.3C410.7 1046 413.6 1048.6 416.6 1051.4C419.6 1054.3 422.8 1057.4 425.8 1060.5C428.8 1063.6 431.7 1066.7 434.4 1070C437.2 1073.3 439.9 1076.8 442.3 1080.2C444.7 1083.7 446.5 1087 448.7 1090.6C450.9 1094.1 453.4 1098.4 455.3 1101.5C457.3 1104.5 459.3 1107.2 460.2 1108.8C461.2 1110.5 460.9 1110.5 461 1111.2C461.1 1111.8 461.1 1112.2 461.1 1112.7C461 1113.2 461 1113.6 460.8 1114.1C460.6 1114.7 460.2 1115.5 459.8 1116.2C459.4 1116.8 459 1117.3 458.3 1117.9C457.7 1118.5 456.9 1119.2 455.9 1119.7C454.9 1120.3 453.8 1120.9 452.2 1121.3C450.5 1121.7 449 1122.2 446 1122.2C443 1122.2 437.9 1122 433.9 1121.4C429.9 1120.7 425.8 1119.7 421.8 1118.6C417.8 1117.4 413.7 1116 409.8 1114.6C405.9 1113.2 402.1 1111.7 398.3 1110.1C394.4 1108.5 390.3 1106.7 386.5 1104.9C382.8 1103.2 379.3 1101.4 375.6 1099.6C372 1097.7 368.4 1095.7 364.8 1093.6C361.3 1091.6 357.8 1089.4 354.3 1087.2C350.8 1084.9 347.4 1082.6 344.1 1080.1C340.8 1077.7 337.6 1075.1 334.5 1072.5C331.3 1069.9 328.3 1067.1 325.4 1064.3C322.5 1061.5 319.8 1058.7 317.1 1055.6C314.4 1052.4 311.6 1049 309.1 1045.5C306.5 1042.1 304.2 1038.5 301.9 1034.9C299.6 1031.3 297.4 1027.4 295.5 1023.7C293.5 1020.1 291.8 1016.6 290.1 1012.9C288.4 1009.2 286.8 1005.5 285.3 1001.7C283.7 997.9 282.3 994.1 280.9 990.2C279.5 986.3 278.2 982.4 276.9 978.4C275.6 974.5 274.2 970.2 273.2 966.4C272.3 962.6 271.4 958.2 271.1 955.5C270.8 952.8 271.2 951.8 271.4 950.4C271.6 949 271.9 948.2 272.4 947.2C272.8 946.2 273.4 945.2 274.1 944.3C274.8 943.4 275.7 942.4 276.7 941.7C277.7 940.9 279.1 940.1 279.9 939.7C280.8 939.2 280.9 939.2 281.7 939Z" fill="none" stroke="#12beb9" stroke-width="1.6"/>
<path d="M292.2 960.3C292.6 960.2 293.1 960.1 293.7 960C294.4 960 294.9 959.9 296.2 960.2C297.5 960.5 298.9 960.7 301.6 962C304.2 963.3 308.7 965.8 312.2 968C315.6 970.3 319 972.7 322.2 975.4C325.5 978 328.8 981 331.9 983.9C335 986.8 337.9 989.8 340.8 992.7C343.8 995.6 346.7 998.5 349.8 1001.4C352.8 1004.3 355.9 1007 359 1009.8C362.2 1012.6 365.4 1015.3 368.7 1018C371.9 1020.7 375.2 1023.4 378.4 1026.1C381.7 1028.8 385 1031.5 388.3 1034.2C391.5 1036.9 394.8 1039.7 398 1042.5C401.2 1045.3 404.4 1048.1 407.5 1051.1C410.6 1054 413.8 1057.1 416.6 1060.1C419.5 1063.1 422.1 1066 424.7 1069C427.3 1072.1 429.8 1075.3 432.2 1078.5C434.6 1081.8 436.9 1085.2 438.9 1088.7C441 1092.2 443.3 1096.6 444.7 1099.6C446.1 1102.5 446.9 1104.9 447.4 1106.4C447.8 1107.9 447.6 1108.1 447.6 1108.6C447.6 1109.2 447.5 1109.5 447.3 1109.9C447.2 1110.3 447 1110.7 446.7 1111C446.4 1111.3 446.2 1111.6 445.8 1111.9C445.3 1112.3 445.1 1112.6 444 1113C442.8 1113.4 442 1114.1 439.1 1114.4C436.3 1114.8 430.7 1115.3 426.6 1115.1C422.5 1114.9 418.3 1114.3 414.3 1113.3C410.2 1112.4 406 1111 402.2 1109.5C398.3 1108.1 394.8 1106.4 391.2 1104.6C387.6 1102.9 384 1100.8 380.4 1098.8C376.8 1096.8 373.3 1094.6 369.8 1092.4C366.3 1090.2 362.9 1088 359.4 1085.8C356 1083.6 352.7 1081.5 349.3 1079.2C345.9 1076.9 342.3 1074.4 339 1071.9C335.7 1069.4 332.5 1066.8 329.5 1064C326.5 1061.2 323.8 1058.2 321.2 1055C318.6 1051.9 316.3 1048.5 314 1045C311.7 1041.5 309.6 1037.7 307.6 1034.1C305.6 1030.5 303.9 1027 302.1 1023.3C300.3 1019.7 298.5 1015.9 296.7 1012.2C294.9 1008.4 292.9 1004.6 291.2 1000.8C289.6 996.9 287.9 992.8 286.8 989.2C285.8 985.7 285.2 982.3 285 979.4C284.7 976.6 285 974.5 285.3 972.3C285.6 970.1 286.4 967.7 287 966.1C287.6 964.6 288.1 963.9 288.7 963.1C289.2 962.3 289.8 961.8 290.3 961.4C290.8 961 291.2 960.8 291.5 960.6C291.9 960.4 291.9 960.4 292.2 960.3Z" fill="none" stroke="#48cb86" stroke-width="1.6"/>
<path d="M303.6 979.4C304.1 979.3 304.8 979.1 305.9 979.1C306.9 979.1 308.2 979.1 310 979.6C311.8 980.1 313.9 980.5 316.7 982.1C319.5 983.6 323.5 986.2 326.8 988.7C330 991.2 333.1 994.2 336.2 997.1C339.3 999.9 342.3 1002.8 345.3 1005.6C348.3 1008.4 351.1 1011 354.1 1013.7C357.2 1016.5 360.4 1019.4 363.5 1022.1C366.6 1024.9 369.6 1027.5 372.7 1030.2C375.8 1032.9 378.9 1035.5 381.9 1038.2C385 1040.9 388.1 1043.5 391.2 1046.2C394.3 1048.9 397.5 1051.6 400.6 1054.4C403.7 1057.2 406.8 1060 409.7 1063C412.7 1066 415.7 1069.3 418.3 1072.4C420.9 1075.6 423.3 1078.6 425.5 1082C427.7 1085.4 430.2 1089.8 431.6 1092.7C433.1 1095.6 433.6 1097.8 434.1 1099.4C434.6 1101.1 434.4 1101.6 434.4 1102.5C434.4 1103.3 434.2 1103.9 434 1104.5C433.8 1105.1 433.5 1105.7 433.1 1106.3C432.7 1106.8 432.2 1107.3 431.6 1107.7C431.1 1108.1 430.5 1108.5 429.7 1108.8C428.9 1109.2 428 1109.6 426.6 1109.8C425.2 1110 424 1110.4 421.1 1110.1C418.1 1109.8 412.9 1109 408.9 1108C404.8 1107.1 400.7 1105.7 396.8 1104.2C392.9 1102.7 389.1 1100.9 385.5 1099C381.9 1097.1 378.5 1095 375.1 1092.8C371.7 1090.7 368.4 1088.4 364.9 1086.1C361.5 1083.7 357.8 1081.2 354.4 1078.9C351 1076.5 347.9 1074.4 344.7 1071.9C341.5 1069.4 338.3 1066.8 335.3 1063.9C332.3 1061 329.4 1057.9 326.7 1054.6C324 1051.4 321.5 1047.9 319.3 1044.5C317 1041 315.1 1037.6 313.2 1034C311.2 1030.3 309.3 1026.3 307.6 1022.4C305.8 1018.4 304.1 1014.4 302.6 1010.4C301.1 1006.5 299.5 1001.9 298.6 998.7C297.7 995.6 297.5 993.3 297.3 991.3C297.2 989.4 297.4 988.3 297.6 987.1C297.8 985.9 298.2 985 298.5 984.2C298.8 983.3 299.2 982.8 299.6 982.2C300.1 981.7 300.6 981.1 301.1 980.7C301.7 980.3 302.5 979.9 303 979.6C303.4 979.4 303.1 979.5 303.6 979.4Z" fill="none" stroke="#9fc942" stroke-width="1.6"/>
<path d="M318 998.6C318.5 998.4 319.4 997.9 320.1 997.7C320.7 997.5 321.4 997.5 322.1 997.5C322.8 997.5 323.4 997.5 324.3 997.7C325.1 998 325.7 998 327.2 998.8C328.6 999.7 330.6 1000.8 333.1 1002.9C335.6 1005 339 1008.5 342.1 1011.4C345.1 1014.3 348.4 1017.5 351.4 1020.3C354.5 1023.1 357.4 1025.6 360.4 1028.3C363.4 1030.9 366.5 1033.5 369.7 1036.2C372.8 1038.9 376 1041.6 379.1 1044.3C382.2 1047.1 385.2 1049.7 388.2 1052.5C391.2 1055.3 394.1 1058.1 396.9 1061.2C399.8 1064.3 402.7 1067.6 405.3 1070.9C408 1074.2 410.6 1077.7 413 1081.1C415.4 1084.5 418.6 1089.1 420 1091.3C421.4 1093.5 421.1 1093.6 421.4 1094.4C421.6 1095.1 421.6 1095.4 421.6 1095.9C421.6 1096.3 421.5 1096.8 421.3 1097.3C421.2 1097.7 421.1 1098 420.7 1098.6C420.2 1099.2 419.5 1100.2 418.6 1101C417.8 1101.7 416.7 1102.5 415.7 1103.1C414.6 1103.7 413.6 1104.1 412.4 1104.4C411.1 1104.7 409.8 1104.9 408 1104.9C406.3 1104.8 404.5 1104.8 401.7 1104.1C399 1103.3 395 1101.9 391.5 1100.2C388.1 1098.6 384.4 1096.4 381 1094.2C377.5 1092 373.9 1089.4 370.6 1086.9C367.3 1084.4 364.3 1082 361.1 1079.4C357.9 1076.8 354.7 1074.2 351.5 1071.4C348.4 1068.7 345.2 1065.7 342.2 1062.9C339.2 1060 336.3 1057.2 333.5 1054.2C330.8 1051.3 328 1048.2 325.4 1045.1C322.9 1041.9 320.4 1038.7 318.2 1035.3C316 1031.9 313.7 1027.5 312.4 1024.5C311.1 1021.5 310.8 1019.3 310.4 1017.2C310 1015.1 310.1 1013.3 310.2 1011.8C310.3 1010.2 310.5 1009.2 310.9 1008C311.3 1006.8 311.8 1005.7 312.5 1004.5C313.1 1003.4 314 1002.2 314.9 1001.2C315.7 1000.3 316.8 999.4 317.4 999C317.9 998.6 317.6 998.8 318 998.6Z" fill="none" stroke="#eaba31" stroke-width="1.6"/>
<path d="M329.4 1019.2C329.5 1019.1 329.6 1019 329.8 1018.9C330 1018.8 330.3 1018.6 330.7 1018.5C331.2 1018.4 331.7 1018.2 332.7 1018.3C333.7 1018.4 334.5 1018.2 336.8 1019C339.1 1019.7 343.3 1021.1 346.5 1022.8C349.6 1024.5 352.7 1026.6 355.7 1029.1C358.7 1031.6 361.6 1034.8 364.3 1037.8C367 1040.8 369.4 1044 372.1 1047C374.8 1050 377.7 1053 380.6 1055.9C383.5 1058.9 386.7 1061.8 389.6 1064.7C392.5 1067.7 395.5 1070.8 397.8 1073.6C400 1076.4 402.1 1079.6 403.2 1081.4C404.3 1083.1 404 1083.4 404.2 1084.1C404.4 1084.8 404.3 1085 404.3 1085.4C404.3 1085.8 404.2 1086.3 404.1 1086.6C404 1087 403.9 1087.3 403.6 1087.8C403.3 1088.2 402.9 1088.8 402.3 1089.3C401.7 1089.8 400.8 1090.4 399.8 1090.9C398.8 1091.4 397.5 1092 396.1 1092.3C394.7 1092.6 393 1092.9 391.5 1092.9C390 1092.9 388.7 1092.8 387 1092.4C385.2 1092 383.3 1091.6 381 1090.4C378.7 1089.2 375.9 1087.6 373.1 1085.4C370.3 1083.3 367.1 1080.2 364.2 1077.3C361.4 1074.4 358.7 1071.2 356 1067.9C353.4 1064.7 350.7 1061.2 348.2 1057.8C345.7 1054.5 343.3 1051.4 341 1048C338.8 1044.5 336.5 1041 334.6 1037.3C332.7 1033.6 330.6 1028.3 329.7 1025.7C328.7 1023.1 329 1022.7 328.8 1021.9C328.7 1021.1 328.8 1021 328.9 1020.7C328.9 1020.3 329.1 1019.9 329.2 1019.6C329.3 1019.4 329.3 1019.4 329.4 1019.2Z" fill="none" stroke="#fad42e" stroke-width="1.6"/>
</g>
<clipPath id="cpd"><rect x="841.0" y="707.0" width="634.0" height="497.0"/></clipPath><g clip-path="url(#cpd)">
<path d="M1190.5 807.9C1190.8 807.9 1191.3 808 1191.7 808.1C1192.1 808.3 1192.4 808.4 1192.8 808.7C1193.1 808.9 1193.4 809.1 1193.7 809.6C1194 810 1194.4 810.3 1194.8 811.4C1195.3 812.6 1195.9 813.7 1196.3 816.7C1196.8 819.6 1197.2 824.7 1197.6 828.9C1198.1 833.1 1198.5 837.4 1198.9 841.6C1199.3 845.7 1199.8 849.8 1200.1 853.9C1200.4 857.9 1200.6 861.9 1200.7 866C1200.7 870.1 1200.6 874.2 1200.4 878.3C1200.2 882.4 1199.9 886.5 1199.6 890.7C1199.3 894.8 1198.8 899 1198.4 903.2C1197.9 907.3 1197.4 911.5 1197 915.7C1196.5 919.9 1196 924.1 1195.5 928.3C1195 932.5 1194.4 936.7 1193.9 940.9C1193.4 945 1192.8 949.2 1192.2 953.4C1191.7 957.6 1191.1 961.8 1190.4 966C1189.8 970.2 1189.1 974.3 1188.4 978.5C1187.7 982.6 1187 986.8 1186.2 990.9C1185.5 995.1 1184.7 999.2 1183.8 1003.3C1183 1007.5 1182.1 1011.6 1181.1 1015.7C1180.2 1019.7 1179.2 1023.8 1178.1 1027.9C1177 1031.9 1175.9 1036 1174.8 1040C1173.6 1044 1172.3 1048 1171 1051.9C1169.7 1055.9 1168.4 1059.8 1166.9 1063.7C1165.5 1067.7 1164 1071.5 1162.4 1075.4C1160.8 1079.3 1159.1 1083.1 1157.3 1086.9C1155.6 1090.7 1153.7 1094.4 1151.8 1098.2C1149.8 1101.9 1147.8 1105.6 1145.7 1109.3C1143.6 1112.9 1141.4 1116.5 1139.1 1120C1136.8 1123.6 1134.4 1127 1131.9 1130.4C1129.4 1133.8 1126.8 1137.1 1124.1 1140.3C1121.4 1143.5 1118.6 1146.6 1115.7 1149.6C1112.8 1152.6 1109.8 1155.5 1106.7 1158.2C1103.6 1161 1100.3 1163.6 1097 1166.1C1093.7 1168.5 1090.3 1170.8 1086.7 1173C1083.2 1175.1 1079.5 1177.1 1075.7 1178.9C1072 1180.7 1068 1182.3 1064.1 1183.7C1060.1 1185.1 1056 1186.4 1051.8 1187.5C1047.7 1188.7 1043.5 1189.6 1039.3 1190.6C1035.1 1191.5 1030.8 1192.4 1026.7 1193.2C1022.5 1194 1018.3 1194.8 1014.2 1195.6C1010.1 1196.4 1006 1197.2 1002 1198.1C998.1 1198.9 994.2 1199.8 990.3 1200.6C986.4 1201.5 982.5 1202.4 978.5 1203.2C974.5 1203.9 970.3 1204.7 966.2 1205.4C962.2 1206 958.3 1206.5 954.2 1206.9C950.1 1207.2 945.7 1207.6 941.6 1207.5C937.4 1207.5 933.2 1207.3 929.3 1206.8C925.5 1206.2 921.2 1205 918.3 1204C915.4 1203 913.8 1201.9 912 1200.8C910.1 1199.6 908.4 1197.8 907.4 1196.9C906.3 1195.9 906.2 1195.4 905.8 1194.9C905.4 1194.3 905.3 1193.9 905.1 1193.5C905 1193.2 905 1193.1 905 1192.8C905 1192.6 904.9 1192.5 905 1192.2C905.1 1191.8 905.1 1191.5 905.6 1190.8C906.1 1190.2 906 1190 908 1188.3C910 1186.6 914.3 1183.2 917.7 1180.8C921 1178.4 924.6 1176.2 928.1 1174C931.7 1171.9 935.4 1169.9 939.1 1167.8C942.8 1165.8 946.6 1163.8 950.4 1161.8C954.2 1159.8 958 1157.9 961.7 1155.8C965.4 1153.7 969.1 1151.6 972.8 1149.4C976.4 1147.2 979.9 1144.9 983.4 1142.5C986.9 1140.1 990.3 1137.6 993.7 1135C997 1132.4 1000.3 1129.8 1003.5 1127.1C1006.7 1124.4 1009.9 1121.6 1012.9 1118.7C1016 1115.9 1019 1112.9 1021.9 1110C1024.8 1107 1027.7 1103.9 1030.5 1100.9C1033.3 1097.8 1036 1094.6 1038.6 1091.4C1041.3 1088.2 1043.9 1085 1046.4 1081.7C1048.9 1078.4 1051.4 1075 1053.8 1071.6C1056.2 1068.2 1058.6 1064.8 1060.9 1061.3C1063.2 1057.8 1065.4 1054.3 1067.6 1050.8C1069.8 1047.2 1071.9 1043.6 1074 1040C1076.1 1036.4 1078.2 1032.7 1080.2 1029C1082.2 1025.3 1084.1 1021.6 1086.1 1017.9C1088 1014.1 1089.9 1010.4 1091.7 1006.6C1093.6 1002.8 1095.4 999 1097.2 995.2C1098.9 991.3 1100.7 987.5 1102.4 983.6C1104.1 979.8 1105.8 975.9 1107.4 972C1109.1 968.1 1110.7 964.2 1112.3 960.3C1114 956.4 1115.5 952.5 1117.1 948.6C1118.7 944.7 1120.2 940.7 1121.8 936.8C1123.3 932.9 1124.8 929 1126.3 925.1C1127.8 921.2 1129.3 917.2 1130.8 913.3C1132.3 909.4 1133.8 905.5 1135.3 901.7C1136.8 897.8 1138.3 893.9 1139.9 890C1141.4 886.2 1143 882.3 1144.6 878.5C1146.2 874.6 1147.9 870.8 1149.6 867C1151.3 863.2 1153 859.4 1154.8 855.6C1156.6 851.9 1158.5 848.1 1160.4 844.4C1162.4 840.7 1164.4 837 1166.5 833.3C1168.6 829.6 1170.9 825.5 1173 822.4C1175.2 819.2 1177.4 816.5 1179.4 814.4C1181.4 812.4 1183.6 810.9 1185.1 809.9C1186.6 808.8 1187.5 808.6 1188.3 808.3C1189.1 808 1189.4 808 1189.8 808C1190.2 807.9 1190.2 807.9 1190.5 807.9Z" fill="none" stroke="#4743e7" stroke-width="1.6"/>
<path d="M1161 935.2C1161.4 935.4 1162.4 935.7 1163.1 936C1163.8 936.4 1164.4 936.7 1165.2 937.4C1165.9 938 1166.8 939 1167.4 939.9C1168 940.9 1168.5 941.6 1169 943C1169.5 944.5 1170 945.6 1170.3 948.6C1170.6 951.6 1170.7 956.9 1170.7 961C1170.8 965.1 1170.6 969.1 1170.5 973.2C1170.3 977.3 1170.1 981.6 1169.9 985.8C1169.6 989.9 1169.3 993.7 1169 997.9C1168.6 1002.1 1168.2 1006.6 1167.7 1010.7C1167.3 1014.9 1166.9 1018.7 1166.4 1022.7C1165.9 1026.7 1165.4 1030.8 1164.8 1034.9C1164.2 1039 1163.7 1043.2 1162.9 1047.4C1162.2 1051.5 1161.5 1055.7 1160.5 1059.8C1159.5 1063.9 1158.5 1068 1157.2 1071.9C1155.9 1075.9 1154.5 1079.8 1152.8 1083.5C1151 1087.3 1149.1 1090.9 1146.9 1094.3C1144.8 1097.8 1142.2 1101 1139.8 1104.3C1137.3 1107.6 1134.7 1110.8 1132.4 1114.1C1130.1 1117.5 1128 1120.9 1125.9 1124.5C1123.9 1128 1122.1 1131.6 1119.9 1135.2C1117.8 1138.7 1115.6 1142.4 1113.1 1145.8C1110.7 1149.2 1108.1 1152.6 1105.4 1155.7C1102.6 1158.8 1099.7 1161.8 1096.5 1164.5C1093.4 1167.1 1090.1 1169.5 1086.6 1171.6C1083.2 1173.7 1079.5 1175.5 1075.8 1177.1C1072.1 1178.7 1068.2 1180.1 1064.3 1181.4C1060.3 1182.7 1056.3 1183.8 1052.2 1184.9C1048.2 1185.9 1044.1 1186.9 1040 1187.7C1035.9 1188.6 1031.7 1189.4 1027.6 1190.2C1023.5 1191 1019.4 1191.7 1015.3 1192.4C1011.3 1193.1 1007.5 1193.7 1003.4 1194.4C999.3 1195.1 995 1195.8 990.7 1196.5C986.5 1197.1 982.1 1197.8 977.9 1198.3C973.7 1198.8 969.5 1199.2 965.4 1199.5C961.2 1199.8 957.1 1200.1 953 1200.1C948.9 1200 944.1 1199.8 940.7 1199.4C937.3 1198.9 934.6 1198 932.7 1197.3C930.8 1196.7 930 1196.1 929.1 1195.5C928.1 1194.8 927.3 1194.2 926.8 1193.6C926.2 1193 925.8 1192.4 925.6 1191.9C925.3 1191.5 925.2 1191.2 925.1 1190.8C925 1190.4 924.9 1190 924.9 1189.6C924.9 1189.1 924.8 1188.8 925 1188.3C925.1 1187.7 925.3 1187.1 925.8 1186.3C926.2 1185.5 925.9 1185.3 927.8 1183.6C929.6 1181.9 933.7 1178.5 936.9 1176.1C940.2 1173.8 943.7 1171.7 947.1 1169.7C950.6 1167.6 954.1 1165.8 957.7 1163.8C961.3 1161.9 964.9 1160.2 968.6 1158.2C972.3 1156.2 976.3 1154.1 979.9 1152.1C983.5 1150 986.8 1147.9 990.2 1145.7C993.5 1143.5 996.9 1141.2 1000.1 1138.8C1003.4 1136.4 1006.6 1133.9 1009.8 1131.3C1012.9 1128.7 1016.1 1126 1019.1 1123.2C1022.1 1120.5 1025.1 1117.6 1028 1114.7C1030.9 1111.8 1033.8 1108.8 1036.6 1105.7C1039.3 1102.6 1042 1099.5 1044.7 1096.3C1047.3 1093.1 1049.8 1089.8 1052.3 1086.5C1054.8 1083.2 1057.3 1079.9 1059.7 1076.5C1062 1073.1 1064.4 1069.7 1066.7 1066.2C1069 1062.7 1071.2 1059.2 1073.4 1055.7C1075.6 1052.2 1077.8 1048.6 1079.9 1045.1C1082.1 1041.5 1084.2 1037.9 1086.3 1034.4C1088.4 1030.8 1090.5 1027.2 1092.6 1023.7C1094.7 1020.1 1096.7 1016.5 1098.8 1013C1100.9 1009.4 1102.9 1005.9 1105 1002.4C1107.1 998.9 1109.2 995.4 1111.3 992C1113.4 988.5 1115.5 985.1 1117.7 981.7C1119.8 978.3 1122 975 1124.3 971.6C1126.6 968.2 1129.1 964.7 1131.5 961.4C1134 958.1 1136.3 955.1 1138.9 951.9C1141.5 948.7 1144.7 944.7 1147.1 942.3C1149.4 939.9 1151.4 938.4 1152.9 937.3C1154.3 936.2 1154.9 936.1 1155.8 935.7C1156.7 935.4 1157.3 935.2 1158 935.1C1158.8 935 1159.7 935.1 1160.2 935.1C1160.7 935.1 1160.5 935.1 1161 935.2Z" fill="none" stroke="#4367fd" stroke-width="1.6"/>
<path d="M1141.5 996.8C1142.8 997 1144 997.5 1144.9 997.8C1145.9 998.2 1146.6 998.6 1147.3 999.1C1148 999.6 1148.6 1000.2 1149.1 1000.9C1149.6 1001.5 1150 1002.1 1150.3 1003.1C1150.7 1004 1151.1 1003.9 1151.2 1006.5C1151.2 1009.2 1151 1014.8 1150.8 1018.8C1150.6 1022.9 1150.3 1026.8 1149.9 1030.9C1149.6 1035 1149.3 1039.3 1148.9 1043.4C1148.4 1047.4 1148 1051.3 1147.3 1055.3C1146.6 1059.4 1145.9 1063.6 1144.8 1067.7C1143.7 1071.8 1142.4 1076 1141 1079.8C1139.6 1083.7 1138 1087.3 1136.4 1091C1134.8 1094.7 1133 1098.5 1131.3 1102.2C1129.6 1106 1127.8 1109.7 1126.2 1113.6C1124.5 1117.4 1123 1121.4 1121.4 1125.2C1119.8 1129.1 1118.4 1133 1116.6 1136.7C1114.7 1140.3 1112.7 1143.6 1110.3 1147C1107.8 1150.3 1104.7 1153.7 1101.7 1156.6C1098.7 1159.4 1095.7 1161.8 1092.4 1164.2C1089.1 1166.5 1085.6 1168.7 1082.1 1170.6C1078.5 1172.6 1074.8 1174.3 1071 1175.9C1067.2 1177.5 1063.3 1178.9 1059.5 1180.2C1055.6 1181.4 1051.6 1182.5 1047.7 1183.5C1043.7 1184.4 1039.8 1185.2 1035.8 1185.9C1031.8 1186.6 1027.8 1187.2 1023.8 1187.8C1019.8 1188.3 1015.8 1188.8 1011.8 1189.3C1007.7 1189.8 1003.7 1190.2 999.6 1190.7C995.5 1191.2 991.5 1191.8 987.4 1192.3C983.3 1192.9 979.1 1193.6 975.1 1194.1C971 1194.5 966.9 1195.1 962.8 1195.1C958.8 1195 954 1194.5 950.8 1193.9C947.6 1193.4 945.3 1192.3 943.6 1191.7C941.9 1191 941.3 1190.4 940.6 1189.9C940 1189.4 939.9 1189.2 939.6 1188.8C939.3 1188.4 939.2 1188 939 1187.6C938.9 1187.1 938.9 1186.7 938.9 1186.2C938.9 1185.7 938.9 1185.4 939 1184.8C939.2 1184.2 939.4 1183.5 939.9 1182.7C940.4 1182 940.7 1181.3 941.9 1180.1C943.1 1179 944.5 1177.6 947.2 1175.9C949.8 1174.2 954.2 1171.9 957.8 1169.9C961.4 1167.9 965.3 1165.9 968.8 1163.9C972.4 1161.8 975.7 1159.8 979.2 1157.6C982.6 1155.4 986.1 1153.1 989.5 1150.8C993 1148.4 996.6 1146 1000 1143.6C1003.4 1141.2 1006.6 1139 1009.9 1136.5C1013.2 1134.1 1016.5 1131.6 1019.7 1129C1023 1126.5 1026.2 1123.8 1029.3 1121.1C1032.4 1118.4 1035.4 1115.6 1038.3 1112.8C1041.2 1109.9 1043.8 1107.1 1046.6 1104C1049.4 1100.8 1052.2 1097.4 1054.8 1094C1057.5 1090.6 1060 1087.1 1062.5 1083.6C1065 1080.1 1067.4 1076.4 1069.7 1073C1072.1 1069.5 1074.1 1066.3 1076.3 1062.9C1078.6 1059.5 1080.7 1056.1 1083 1052.7C1085.2 1049.2 1087.4 1045.8 1089.7 1042.4C1092 1039 1094.4 1035.5 1096.8 1032.1C1099.3 1028.7 1101.8 1025.3 1104.4 1022C1107 1018.6 1109.8 1015.1 1112.6 1012C1115.5 1008.9 1119 1005.4 1121.6 1003.2C1124.3 1001 1126.5 999.8 1128.4 998.8C1130.3 997.7 1131.6 997.4 1133.1 997C1134.6 996.6 1135.8 996.5 1137.2 996.4C1138.6 996.4 1140.2 996.6 1141.5 996.8Z" fill="none" stroke="#2d8cf3" stroke-width="1.6"/>
<path d="M1126.6 1035.4C1127.4 1035.7 1128.1 1036 1128.8 1036.5C1129.5 1036.9 1130.1 1037.4 1130.7 1038C1131.4 1038.6 1131.9 1039.1 1132.4 1040C1133 1040.9 1133.5 1041.8 1134 1043.3C1134.5 1044.8 1135.1 1046.8 1135.3 1049C1135.5 1051.3 1135.8 1053.4 1135.3 1056.8C1134.9 1060.2 1133.6 1065.2 1132.5 1069.4C1131.5 1073.5 1130 1077.7 1129 1081.7C1127.9 1085.7 1127.1 1089.5 1126.3 1093.5C1125.4 1097.4 1124.6 1101.4 1123.6 1105.3C1122.7 1109.3 1121.8 1113.1 1120.5 1117C1119.3 1121 1117.9 1125.2 1116.1 1129.1C1114.3 1133 1112.3 1136.8 1110 1140.4C1107.6 1143.9 1104.8 1147.4 1102 1150.5C1099.3 1153.6 1096.6 1156.2 1093.4 1158.9C1090.2 1161.5 1086.6 1164.2 1083 1166.5C1079.5 1168.8 1075.7 1170.8 1071.9 1172.6C1068.1 1174.4 1064.2 1175.8 1060.2 1177.1C1056.2 1178.5 1052.2 1179.5 1048.1 1180.5C1043.9 1181.5 1039.6 1182.3 1035.5 1183.1C1031.4 1183.8 1027.6 1184.4 1023.6 1185.1C1019.6 1185.7 1015.5 1186.3 1011.4 1187C1007.3 1187.6 1003.2 1188.3 999.1 1189.1C995 1189.8 990.8 1190.8 986.7 1191.4C982.6 1192.1 978.2 1192.7 974.6 1192.8C971 1193 967.6 1192.7 964.9 1192.3C962.1 1191.9 960.1 1191.1 958.2 1190.4C956.3 1189.7 954.7 1188.6 953.6 1187.9C952.5 1187.3 952.2 1186.8 951.8 1186.4C951.4 1185.9 951.2 1185.6 951 1185.2C950.8 1184.8 950.6 1184.4 950.5 1184C950.4 1183.5 950.4 1183.2 950.4 1182.6C950.5 1182.1 950.6 1181.4 950.9 1180.6C951.3 1179.7 951 1179.5 952.6 1177.6C954.1 1175.8 957.3 1172.3 960.2 1169.6C963.2 1167 967 1164.1 970.4 1161.7C973.8 1159.3 977.2 1157.3 980.8 1155.2C984.4 1153.2 988.3 1151.2 992.1 1149.3C995.9 1147.4 999.7 1145.6 1003.4 1143.7C1007.2 1141.8 1010.9 1139.9 1014.6 1137.8C1018.3 1135.6 1022.1 1133.3 1025.5 1130.8C1028.9 1128.3 1032 1125.7 1035.1 1123C1038.3 1120.2 1041.2 1117.4 1044.2 1114.4C1047.1 1111.5 1050.2 1108.3 1053 1105.1C1055.9 1102 1058.6 1098.9 1061.3 1095.7C1064.1 1092.6 1066.7 1089.4 1069.3 1086.2C1072 1083 1074.6 1079.8 1077.3 1076.6C1080.1 1073.4 1082.9 1070 1085.6 1066.8C1088.4 1063.7 1090.9 1060.7 1093.8 1057.6C1096.6 1054.5 1099.7 1051.2 1102.7 1048.3C1105.6 1045.3 1109.1 1042.1 1111.6 1040.1C1114.1 1038 1116 1037.1 1117.7 1036.2C1119.3 1035.4 1120.3 1035.2 1121.5 1035C1122.6 1034.8 1123.6 1034.8 1124.4 1034.9C1125.3 1035 1125.9 1035.1 1126.6 1035.4Z" fill="none" stroke="#1caadf" stroke-width="1.6"/>
<path d="M1112.4 1067.1C1112.9 1067.2 1113.2 1067.4 1113.6 1067.6C1114 1067.8 1114.3 1068 1114.7 1068.4C1115 1068.8 1115.5 1069.2 1116 1070C1116.4 1070.8 1116.9 1071.2 1117.3 1072.9C1117.8 1074.6 1118.5 1077 1118.7 1080.3C1118.9 1083.5 1118.9 1088.4 1118.5 1092.5C1118.1 1096.6 1117.3 1100.8 1116.4 1104.8C1115.6 1108.8 1114.6 1112.6 1113.4 1116.5C1112.3 1120.3 1111 1124.1 1109.4 1128C1107.8 1131.8 1105.9 1136 1103.7 1139.6C1101.6 1143.2 1099.2 1146.6 1096.5 1149.6C1093.8 1152.7 1090.8 1155.4 1087.7 1157.9C1084.5 1160.4 1081.1 1162.6 1077.5 1164.6C1074 1166.6 1070.2 1168.4 1066.4 1170.1C1062.5 1171.7 1058.3 1173.2 1054.4 1174.5C1050.5 1175.8 1046.7 1176.8 1042.8 1177.9C1038.9 1179 1034.9 1179.9 1031 1180.9C1027 1181.9 1023 1182.8 1019.1 1183.7C1015.2 1184.6 1011.4 1185.6 1007.4 1186.5C1003.4 1187.4 999.2 1188.5 995.1 1189.1C991 1189.7 986.7 1190.2 983 1190.2C979.2 1190.2 975.6 1189.7 972.6 1189.1C969.6 1188.5 966.7 1187.2 964.9 1186.5C963.1 1185.8 962.6 1185.2 962 1184.8C961.3 1184.3 961.2 1184.1 961 1183.8C960.7 1183.4 960.5 1183 960.3 1182.6C960.2 1182.2 960.2 1181.8 960.2 1181.4C960.2 1181 960.2 1180.6 960.5 1180.1C960.7 1179.5 960.6 1179.2 961.5 1177.9C962.5 1176.7 963.8 1175 966.1 1172.7C968.4 1170.5 972.2 1167.3 975.5 1164.7C978.8 1162.1 982.4 1159.5 985.9 1157.1C989.3 1154.8 992.7 1152.7 996.2 1150.5C999.8 1148.3 1003.4 1146.2 1007 1144C1010.7 1141.8 1014.4 1139.6 1018 1137.3C1021.6 1135.1 1025.3 1132.8 1028.8 1130.5C1032.4 1128.2 1035.8 1125.9 1039.2 1123.5C1042.6 1121.1 1045.8 1118.7 1049.1 1116.2C1052.3 1113.7 1055.5 1111.2 1058.7 1108.5C1061.8 1105.9 1065 1103.2 1068.1 1100.4C1071.3 1097.6 1074.6 1094.6 1077.7 1091.7C1080.8 1088.9 1083.8 1086 1086.9 1083.1C1090 1080.2 1093.5 1076.7 1096.4 1074.3C1099.2 1072 1101.9 1070.2 1103.8 1069C1105.6 1067.9 1106.3 1067.8 1107.4 1067.5C1108.5 1067.1 1109.5 1067 1110.3 1066.9C1111.2 1066.9 1111.8 1067 1112.4 1067.1Z" fill="none" stroke="#12beb9" stroke-width="1.6"/>
<path d="M1095.2 1088.4C1096.3 1088.1 1098.6 1087.6 1099.7 1087.5C1100.9 1087.4 1101.5 1087.5 1102.1 1087.6C1102.7 1087.7 1103 1087.9 1103.4 1088.1C1103.8 1088.4 1104.1 1088.5 1104.5 1089C1104.8 1089.5 1105.1 1089.9 1105.5 1091C1105.9 1092.2 1106.5 1093.5 1106.7 1095.9C1106.9 1098.3 1107.1 1101.8 1106.7 1105.4C1106.3 1109.1 1105.3 1114.1 1104.2 1118.1C1103 1122.1 1101.5 1125.7 1099.6 1129.4C1097.7 1133.1 1095.4 1136.8 1092.8 1140.1C1090.3 1143.5 1087.4 1146.6 1084.4 1149.5C1081.4 1152.4 1078.1 1155.1 1074.7 1157.6C1071.3 1160.1 1067.7 1162.4 1064 1164.5C1060.3 1166.6 1056.5 1168.6 1052.6 1170.4C1048.8 1172.2 1044.9 1173.9 1041 1175.4C1037.1 1176.9 1033.2 1178.3 1029.2 1179.5C1025.2 1180.7 1021.1 1181.9 1017 1182.7C1013 1183.6 1009 1184.3 1004.9 1184.8C1000.9 1185.3 996.9 1185.7 992.8 1185.8C988.7 1186 983.2 1185.8 980.3 1185.6C977.5 1185.3 976.6 1184.8 975.5 1184.4C974.4 1184.1 974.2 1183.8 973.8 1183.5C973.3 1183.2 973.1 1183 972.9 1182.7C972.7 1182.5 972.5 1182.2 972.3 1181.8C972.2 1181.5 972.1 1181.1 972 1180.8C972 1180.4 972 1180.1 972.1 1179.5C972.2 1179 972.2 1178.6 972.7 1177.5C973.3 1176.4 973.9 1174.8 975.6 1172.9C977.2 1170.9 979.7 1168 982.5 1165.7C985.3 1163.3 989 1161 992.5 1158.7C996 1156.5 1000 1154.3 1003.5 1152.1C1007 1149.9 1010.1 1147.8 1013.6 1145.6C1017.1 1143.4 1020.9 1141.1 1024.5 1138.9C1028.2 1136.7 1031.8 1134.6 1035.4 1132.3C1039 1130 1042.6 1127.8 1046.1 1125.4C1049.6 1122.9 1053.1 1120.3 1056.3 1117.6C1059.5 1115 1062.2 1112.2 1065.2 1109.4C1068.2 1106.7 1070.9 1103.8 1074.1 1101.1C1077.3 1098.4 1081.1 1095.3 1084.4 1093.3C1087.6 1091.3 1091.6 1089.8 1093.4 1088.9C1095.3 1088.1 1094.2 1088.6 1095.2 1088.4Z" fill="none" stroke="#48cb86" stroke-width="1.6"/>
<path d="M1088.4 1105.1C1088.7 1105.2 1089 1105.3 1089.4 1105.6C1089.8 1105.9 1090.4 1106.3 1090.8 1106.8C1091.2 1107.3 1091.5 1107.6 1091.9 1108.5C1092.3 1109.4 1092.9 1110.5 1093.3 1112.1C1093.6 1113.7 1094 1116.1 1093.9 1118.2C1093.9 1120.3 1093.8 1122.4 1093.2 1124.6C1092.7 1126.7 1092.1 1128.8 1090.9 1131.3C1089.6 1133.8 1087.9 1136.7 1085.5 1139.6C1083.2 1142.5 1079.9 1145.9 1076.8 1148.7C1073.8 1151.6 1070.8 1154.1 1067.5 1156.6C1064.1 1159.1 1060.5 1161.5 1056.8 1163.7C1053.2 1165.9 1049.3 1167.9 1045.5 1169.7C1041.8 1171.5 1038.2 1173 1034.4 1174.5C1030.6 1176 1026.7 1177.4 1022.7 1178.7C1018.7 1179.9 1014.6 1181.2 1010.5 1181.9C1006.5 1182.6 1001.8 1183.1 998.3 1183.1C994.8 1183.1 992.1 1182.6 989.7 1182.1C987.3 1181.6 985.3 1180.7 984 1180.2C982.7 1179.6 982.5 1179.3 982.1 1179C981.6 1178.6 981.4 1178.3 981.3 1178C981.1 1177.8 981.1 1177.8 981 1177.5C981 1177.2 980.9 1176.8 980.9 1176.4C981 1176 981 1175.7 981.2 1175.1C981.5 1174.6 981.3 1174.4 982.4 1173.1C983.5 1171.8 985.3 1169.6 987.8 1167.4C990.4 1165.3 994.1 1162.4 997.4 1160C1000.8 1157.7 1004.6 1155.4 1008.2 1153.2C1011.8 1151 1015.6 1149 1019.2 1146.8C1022.7 1144.7 1026.2 1142.5 1029.7 1140.4C1033.2 1138.2 1036.7 1136 1040.2 1133.7C1043.7 1131.4 1047.4 1129 1050.9 1126.6C1054.5 1124.2 1058 1121.8 1061.4 1119.4C1064.9 1117 1068.4 1114.4 1071.9 1112.2C1075.4 1109.9 1080.2 1107 1082.4 1105.8C1084.6 1104.7 1084.5 1105.1 1085.3 1105C1086.1 1104.8 1086.7 1104.9 1087.2 1104.9C1087.7 1104.9 1088 1105 1088.4 1105.1Z" fill="none" stroke="#9fc942" stroke-width="1.6"/>
<path d="M1076.1 1120.1C1076.8 1120.4 1077.4 1120.7 1078 1121.1C1078.6 1121.4 1079.2 1121.9 1079.7 1122.4C1080.1 1122.9 1080.6 1123.5 1081 1124.1C1081.3 1124.8 1081.6 1125.4 1081.8 1126.1C1082 1126.8 1082.2 1127.4 1082.2 1128.3C1082.2 1129.1 1082.2 1130.2 1081.9 1131.3C1081.6 1132.5 1081.6 1133.3 1080.5 1135.3C1079.4 1137.3 1077.6 1140.5 1075.4 1143.3C1073.2 1146.1 1070.2 1149.4 1067.1 1152.1C1064 1154.9 1060.4 1157.5 1056.8 1159.8C1053.3 1162 1049.6 1163.8 1045.8 1165.5C1042.1 1167.2 1038 1168.6 1034.1 1170.1C1030.3 1171.5 1026.5 1172.7 1022.6 1174C1018.6 1175.3 1013.5 1177 1010.4 1177.8C1007.3 1178.5 1006 1178.5 1004.2 1178.6C1002.4 1178.6 1001.1 1178.4 999.8 1178.2C998.5 1177.9 997.3 1177.5 996.4 1177.1C995.4 1176.8 994.8 1176.3 994.2 1176C993.7 1175.6 993.5 1175.4 993.2 1175.1C993 1174.7 992.7 1174.3 992.6 1174C992.5 1173.8 992.5 1173.8 992.5 1173.5C992.5 1173.2 992.6 1172.7 992.7 1172.3C992.8 1171.9 992.8 1171.8 993.2 1171.1C993.7 1170.5 993.3 1170.3 995.3 1168.6C997.3 1166.9 1001.7 1163.2 1005.1 1160.8C1008.5 1158.3 1012.1 1156 1015.7 1153.8C1019.2 1151.6 1022.9 1149.6 1026.4 1147.5C1029.9 1145.5 1033.3 1143.6 1036.8 1141.5C1040.3 1139.3 1044.1 1136.9 1047.6 1134.5C1051.1 1132.2 1054.5 1129.4 1057.8 1127.2C1061.1 1124.9 1065.2 1122.4 1067.5 1121.2C1069.7 1120 1070.2 1120.2 1071.3 1120C1072.4 1119.7 1073.3 1119.7 1074.1 1119.7C1074.9 1119.8 1075.5 1119.9 1076.1 1120.1Z" fill="none" stroke="#eaba31" stroke-width="1.6"/>
<path d="M1063.5 1134.5C1064 1134.6 1064.4 1134.8 1064.7 1135C1065.1 1135.3 1065.4 1135.5 1065.7 1135.8C1065.9 1136.1 1066.2 1136.5 1066.4 1136.8C1066.6 1137.2 1066.7 1137.6 1066.8 1138C1066.9 1138.4 1067 1138.7 1067 1139.2C1067 1139.8 1067 1140.4 1066.8 1141.1C1066.5 1141.9 1066.4 1142.6 1065.6 1143.8C1064.8 1145 1064.2 1146.4 1062.1 1148.5C1060 1150.6 1056.2 1154.2 1053 1156.6C1049.8 1159 1046.4 1161.2 1042.8 1163.1C1039.1 1165 1035 1166.4 1031.1 1167.7C1027.2 1169 1022.6 1170.2 1019.5 1170.9C1016.3 1171.6 1013.6 1171.8 1012 1171.9C1010.3 1172 1010.1 1171.8 1009.5 1171.7C1008.9 1171.6 1008.8 1171.5 1008.5 1171.4C1008.2 1171.2 1008 1171.1 1007.8 1170.9C1007.6 1170.7 1007.4 1170.5 1007.3 1170.3C1007.2 1170 1007.1 1169.8 1007.1 1169.5C1007 1169.1 1007 1168.9 1007.1 1168.5C1007.2 1168 1007.3 1167.5 1007.7 1166.7C1008.1 1165.9 1008.6 1164.7 1009.6 1163.4C1010.7 1162.1 1011.6 1160.7 1013.8 1159C1016 1157.4 1019.4 1155.4 1022.6 1153.5C1025.9 1151.7 1029.8 1149.9 1033.3 1148C1036.9 1146 1040.4 1143.8 1044 1141.9C1047.6 1140 1052.2 1137.5 1054.9 1136.3C1057.6 1135.1 1058.7 1134.9 1059.9 1134.5C1061.2 1134.2 1061.6 1134.3 1062.2 1134.3C1062.8 1134.3 1063.1 1134.4 1063.5 1134.5Z" fill="none" stroke="#fad42e" stroke-width="1.6"/>
</g>
<clipPath id="cpe"><rect x="78.5" y="1403.0" width="634.5" height="497.0"/></clipPath><g clip-path="url(#cpe)">
<path d="M280.2 1462.8C280.5 1462.7 280.5 1462.7 280.8 1462.7C281.1 1462.8 281.6 1462.8 282.1 1463C282.7 1463.3 283.3 1463.5 284.2 1464.3C285 1465 286.1 1465.8 287.4 1467.7C288.6 1469.7 290.3 1472.6 291.7 1475.9C293.2 1479.3 294.7 1483.9 296.2 1487.8C297.8 1491.8 299.5 1495.8 301.1 1499.7C302.7 1503.6 304.3 1507.2 305.9 1511C307.5 1514.8 309 1518.6 310.5 1522.4C312 1526.3 313.5 1530.1 314.9 1534C316.3 1537.9 317.7 1541.8 319.1 1545.8C320.5 1549.7 321.9 1553.6 323.3 1557.6C324.6 1561.6 326 1565.5 327.3 1569.5C328.7 1573.5 330 1577.5 331.4 1581.5C332.7 1585.5 334.1 1589.5 335.5 1593.5C336.8 1597.5 338.2 1601.5 339.6 1605.4C341 1609.4 342.5 1613.4 343.9 1617.3C345.4 1621.3 346.9 1625.2 348.4 1629.1C349.9 1633 351.5 1636.9 353.1 1640.8C354.7 1644.6 356.3 1648.5 358 1652.3C359.7 1656.2 361.4 1660 363.1 1663.7C364.9 1667.5 366.7 1671.3 368.5 1675.1C370.3 1678.8 372.2 1682.5 374.1 1686.2C376 1689.9 378 1693.6 380 1697.3C381.9 1701 384 1704.6 386 1708.2C388.1 1711.9 390.2 1715.5 392.4 1719.1C394.5 1722.7 396.7 1726.2 398.9 1729.8C401.2 1733.3 403.5 1736.8 405.8 1740.3C408.2 1743.7 410.6 1747.1 413.1 1750.5C415.6 1753.9 418.1 1757.2 420.8 1760.5C423.4 1763.7 426.1 1766.9 428.9 1770C431.7 1773.2 434.6 1776.2 437.4 1779.3C440.3 1782.4 443.2 1785.4 446.1 1788.4C449 1791.5 451.9 1794.5 454.8 1797.5C457.7 1800.6 460.6 1803.6 463.4 1806.6C466.3 1809.6 469.2 1812.7 472.1 1815.6C475.1 1818.6 478 1821.5 481 1824.4C484 1827.3 487 1830.1 490.1 1832.9C493.1 1835.6 496.3 1838.4 499.5 1841C502.7 1843.6 505.9 1846.1 509.3 1848.6C512.6 1851 516.1 1853.4 519.6 1855.6C523.1 1857.9 526.7 1860 530.5 1862C534.2 1864 538.3 1865.9 542.1 1867.6C545.9 1869.3 549.7 1870.5 553.4 1872.1C557 1873.8 561.5 1875.9 564 1877.4C566.5 1878.9 567.1 1879.8 568.3 1881C569.5 1882.3 570.4 1883.8 571.1 1884.9C571.7 1886 571.9 1886.7 572.1 1887.4C572.4 1888.1 572.4 1888.5 572.5 1889C572.5 1889.6 572.5 1890.1 572.4 1890.6C572.3 1891.1 572.3 1891.4 572 1892C571.7 1892.5 571.3 1893.2 570.7 1893.9C570 1894.6 569.8 1895.1 568 1896.1C566.2 1897.1 563.1 1898.7 559.8 1899.8C556.5 1901 552.2 1902.3 548.2 1903.1C544.2 1904 539.8 1904.6 535.7 1904.9C531.5 1905.3 527.3 1905.3 523.2 1905.2C519 1905.1 514.8 1904.7 510.7 1904.3C506.5 1903.8 502.4 1903.2 498.2 1902.5C494.1 1901.8 490 1901 485.9 1900.2C481.7 1899.4 477.6 1898.6 473.5 1897.7C469.4 1896.9 465.3 1896.1 461.3 1895.2C457.2 1894.3 453.1 1893.5 449.1 1892.5C445 1891.6 441 1890.7 437 1889.7C432.9 1888.6 428.9 1887.6 424.9 1886.4C420.9 1885.3 417 1884.1 413 1882.8C409 1881.6 405.1 1880.2 401.2 1878.8C397.3 1877.3 393.3 1875.8 389.5 1874.1C385.6 1872.5 381.7 1870.7 377.9 1868.9C374.1 1867.1 370.3 1865.1 366.6 1863.1C362.9 1861.1 359.2 1859 355.6 1856.8C351.9 1854.6 348.4 1852.3 344.9 1849.9C341.4 1847.5 338 1845 334.6 1842.5C331.3 1839.9 328 1837.2 324.8 1834.5C321.6 1831.7 318.6 1828.9 315.6 1826C312.6 1823 309.7 1820 306.9 1816.9C304.1 1813.8 301.5 1810.6 298.9 1807.3C296.4 1804.1 293.9 1800.7 291.6 1797.2C289.3 1793.8 287.2 1790.2 285.1 1786.6C283.1 1783 281.2 1779.3 279.4 1775.5C277.6 1771.8 276 1767.9 274.5 1764.1C272.9 1760.2 271.6 1756.2 270.3 1752.2C269 1748.3 267.8 1744.2 266.8 1740.2C265.8 1736.1 264.9 1732 264.1 1727.9C263.2 1723.7 262.6 1719.6 262 1715.4C261.4 1711.2 261 1707.1 260.6 1702.9C260.2 1698.7 260 1694.5 259.8 1690.3C259.7 1686.1 259.6 1681.9 259.6 1677.7C259.6 1673.5 259.7 1669.3 259.8 1665.1C259.9 1660.9 260.1 1656.6 260.4 1652.4C260.6 1648.2 260.9 1644 261.2 1639.8C261.4 1635.6 261.8 1631.4 262.1 1627.2C262.4 1623 262.8 1618.8 263.1 1614.6C263.4 1610.5 263.8 1606.3 264.1 1602.1C264.4 1597.9 264.7 1593.8 264.9 1589.6C265.2 1585.5 265.4 1581.4 265.6 1577.2C265.8 1573.1 266 1569 266.1 1564.8C266.3 1560.7 266.4 1556.5 266.5 1552.4C266.7 1548.2 266.8 1544.1 266.9 1539.9C267 1535.7 267.1 1531.5 267.2 1527.2C267.4 1523 267.5 1518.5 267.6 1514.4C267.8 1510.2 267.8 1506.5 268.1 1502.4C268.4 1498.2 268.6 1493.7 269.2 1489.5C269.8 1485.3 270.6 1480.9 271.7 1477.3C272.7 1473.7 274.4 1470.1 275.5 1467.9C276.5 1465.8 277.3 1465.1 277.9 1464.3C278.4 1463.5 278.6 1463.6 279 1463.3C279.3 1463.1 279.8 1462.9 280.2 1462.8Z" fill="none" stroke="#4743e7" stroke-width="1.6"/>
<path d="M323.8 1634C324.3 1634.1 325.1 1634.1 326 1634.4C326.8 1634.7 327.6 1634.8 328.9 1635.7C330.2 1636.6 331.8 1637.6 333.9 1639.8C336.1 1642 339.3 1645.8 341.7 1649.1C344.2 1652.4 346.5 1656 348.6 1659.5C350.8 1663 352.8 1666.5 354.7 1670.1C356.7 1673.8 358.6 1677.5 360.5 1681.2C362.4 1684.9 364.3 1688.7 366.2 1692.4C368.1 1696.2 370 1699.9 371.9 1703.6C373.9 1707.3 375.9 1711 377.9 1714.6C380 1718.2 382.1 1721.7 384.3 1725.2C386.5 1728.7 388.7 1732.2 391 1735.6C393.3 1739 395.7 1742.4 398.1 1745.7C400.5 1749 402.9 1752.3 405.4 1755.6C407.9 1758.8 410.4 1762.1 413 1765.3C415.5 1768.5 418.2 1771.7 420.8 1774.8C423.4 1778 426.1 1781.2 428.8 1784.3C431.5 1787.5 434.2 1790.6 437 1793.8C439.8 1796.9 442.6 1800 445.4 1803.1C448.2 1806.2 451.1 1809.3 454 1812.3C456.9 1815.3 459.9 1818.2 462.9 1821.1C465.9 1823.9 469 1826.7 472.1 1829.4C475.2 1832.1 478.4 1834.7 481.7 1837.2C485 1839.6 488.3 1842 491.7 1844.2C495.1 1846.5 498.6 1848.7 502 1850.8C505.5 1853 509.1 1855 512.7 1857.1C516.2 1859.2 519.8 1861.2 523.4 1863.3C527 1865.4 530.7 1867.4 534.3 1869.6C537.9 1871.7 542.5 1874.4 545.2 1876.2C547.9 1877.9 549.5 1879.1 550.7 1880C551.9 1881 552 1881.4 552.4 1882C552.7 1882.6 552.9 1883 553 1883.6C553.1 1884.1 553.1 1884.7 553.1 1885.3C553 1886 552.9 1886.5 552.6 1887.3C552.2 1888.2 551.6 1889.5 551 1890.4C550.3 1891.3 549.5 1892.1 548.7 1892.8C547.9 1893.4 547.3 1893.9 546.1 1894.3C544.9 1894.8 544.2 1895.2 541.3 1895.6C538.4 1896 532.9 1896.6 528.8 1896.8C524.6 1897 520.6 1896.9 516.5 1896.8C512.4 1896.7 508.4 1896.4 504.3 1896.1C500.2 1895.8 496.1 1895.5 492 1895C487.9 1894.6 483.8 1894 479.7 1893.4C475.6 1892.8 471.6 1892.1 467.5 1891.4C463.4 1890.6 459.3 1889.7 455.3 1888.8C451.2 1887.9 447.2 1886.9 443.2 1885.8C439.1 1884.7 435.1 1883.6 431.2 1882.3C427.2 1881.1 423.2 1879.8 419.3 1878.4C415.4 1877 411.5 1875.5 407.7 1873.9C403.8 1872.4 400 1870.7 396.2 1869C392.4 1867.3 388.7 1865.5 385 1863.6C381.3 1861.7 377.6 1859.7 374 1857.6C370.4 1855.6 366.9 1853.4 363.4 1851.2C359.9 1849 356.5 1846.7 353.1 1844.3C349.8 1841.9 346.4 1839.4 343.2 1836.8C340 1834.3 336.8 1831.6 333.7 1828.9C330.6 1826.1 327.5 1823.3 324.6 1820.4C321.6 1817.5 318.7 1814.5 316 1811.4C313.2 1808.3 310.5 1805.1 308 1801.8C305.5 1798.5 303.1 1795.2 301 1791.7C298.9 1788.2 297 1784.6 295.3 1780.9C293.7 1777.2 292.3 1773.3 291.3 1769.4C290.2 1765.5 289.5 1761.4 289.1 1757.2C288.6 1753.1 288.5 1748.8 288.5 1744.5C288.5 1740.2 288.8 1735.9 289.1 1731.6C289.4 1727.3 289.9 1723 290.4 1718.8C290.9 1714.6 291.5 1710.4 292 1706.4C292.5 1702.3 293 1698.5 293.6 1694.5C294.3 1690.4 295 1686 295.9 1682C296.7 1678 297.7 1674.3 298.9 1670.4C300.2 1666.4 301.7 1662.3 303.5 1658.4C305.2 1654.5 307.3 1650.2 309.3 1646.9C311.3 1643.6 313.9 1640.4 315.4 1638.5C317 1636.6 317.9 1636.3 318.8 1635.7C319.7 1635 320.2 1634.8 320.9 1634.6C321.6 1634.3 322.6 1634.2 323 1634.1C323.5 1634 323.3 1634 323.8 1634Z" fill="none" stroke="#4367fd" stroke-width="1.6"/>
<path d="M334.7 1718.6C335.7 1718.2 337.3 1717.5 338.6 1717.2C340 1716.9 341.2 1716.7 342.8 1716.8C344.4 1716.8 345.8 1716.8 348 1717.4C350.2 1718 352.8 1718.7 355.9 1720.3C359 1721.9 363.3 1724.6 366.6 1727.2C369.9 1729.8 372.9 1732.8 375.8 1735.8C378.6 1738.8 381.1 1742 383.6 1745.2C386.1 1748.5 388.4 1751.9 390.8 1755.1C393.2 1758.4 395.5 1761.8 398 1765C400.5 1768.2 403.1 1771.3 405.8 1774.3C408.5 1777.4 411.3 1780.3 414.2 1783.2C417.1 1786.1 420.1 1788.9 423.1 1791.7C426.1 1794.5 429.1 1797.3 432.1 1800.1C435.1 1802.9 438.2 1805.7 441.1 1808.6C444.1 1811.5 447 1814.4 449.9 1817.4C452.7 1820.4 455.5 1823.4 458.3 1826.4C461.2 1829.4 463.9 1832.4 466.9 1835.2C469.8 1837.9 472.6 1840.6 475.9 1843.1C479.2 1845.6 483.1 1848.2 486.7 1850.3C490.3 1852.4 493.8 1854 497.6 1855.8C501.3 1857.6 505.2 1859.1 509.1 1860.9C512.9 1862.7 517 1864.4 520.7 1866.5C524.3 1868.6 528.5 1871.7 531 1873.7C533.4 1875.7 534.5 1877.3 535.5 1878.5C536.4 1879.7 536.5 1880.1 536.8 1880.8C537.1 1881.4 537.2 1881.7 537.2 1882.2C537.3 1882.7 537.3 1883.2 537.2 1883.7C537.2 1884.2 537.1 1884.5 536.7 1885.1C536.4 1885.6 536 1886.2 535.2 1886.9C534.4 1887.7 533.1 1888.7 531.7 1889.5C530.3 1890.2 529 1890.9 526.9 1891.4C524.7 1892 522.2 1892.6 518.8 1892.7C515.4 1892.9 510.5 1892.8 506.3 1892.6C502.1 1892.4 497.8 1892 493.7 1891.6C489.5 1891.3 485.3 1890.8 481.2 1890.2C477.1 1889.7 473 1889.1 468.9 1888.4C464.8 1887.7 460.8 1886.9 456.8 1886C452.8 1885.2 448.8 1884.2 444.8 1883.2C440.8 1882.2 436.9 1881.1 433 1879.9C429.1 1878.8 425.2 1877.5 421.4 1876.2C417.5 1874.9 413.7 1873.5 409.9 1872C406.2 1870.5 402.4 1868.9 398.7 1867.3C395 1865.6 391.3 1863.9 387.7 1862.1C384.1 1860.3 380.5 1858.4 376.9 1856.5C373.3 1854.5 369.8 1852.5 366.3 1850.4C362.8 1848.3 359.4 1846.1 356 1843.8C352.6 1841.5 349.2 1839.2 345.9 1836.7C342.5 1834.3 339.2 1831.8 336 1829.2C332.8 1826.6 329.5 1824 326.5 1821.2C323.5 1818.4 320.3 1815 318.2 1812.3C316 1809.5 314.6 1807.1 313.3 1804.5C312 1801.9 311.3 1800 310.6 1796.6C309.9 1793.2 309.4 1788.2 309.3 1784C309.3 1779.8 309.7 1775.6 310.1 1771.3C310.6 1767.1 311.2 1762.8 312.1 1758.7C313 1754.6 314.1 1750.6 315.5 1746.6C317 1742.6 318.8 1738.4 320.8 1734.7C322.8 1731 325.7 1726.9 327.6 1724.4C329.5 1722 331.2 1720.9 332.4 1720C333.6 1719 333.6 1719.1 334.7 1718.6Z" fill="none" stroke="#2d8cf3" stroke-width="1.6"/>
<path d="M343.1 1765.8C344.7 1765.3 347 1764.6 349.3 1764.4C351.6 1764.1 354 1764 356.9 1764.3C359.7 1764.7 363.1 1765.2 366.4 1766.3C369.7 1767.5 373.3 1769 376.7 1771C380.2 1773 383.8 1775.8 387.2 1778.4C390.6 1781.1 393.8 1784.1 397 1786.8C400.2 1789.4 403.3 1791.9 406.5 1794.3C409.8 1796.8 413.2 1799.1 416.5 1801.5C419.8 1803.9 423.3 1806.2 426.5 1808.6C429.8 1811 432.9 1813.3 436.1 1816C439.2 1818.8 442.4 1821.8 445.4 1824.9C448.3 1827.9 450.7 1831.4 453.7 1834.4C456.7 1837.4 459.8 1840.4 463.2 1842.9C466.5 1845.3 470.1 1847.2 473.9 1849.1C477.6 1851 481.7 1852.6 485.6 1854.3C489.6 1856 493.7 1857.5 497.5 1859.3C501.3 1861.1 505.3 1863 508.6 1865C511.9 1867 515.1 1869.5 517.3 1871.5C519.5 1873.4 520.7 1875.3 521.8 1876.7C522.9 1878.1 523.2 1879.2 523.6 1880.1C524 1881 524 1881.5 524.1 1882C524.1 1882.5 524.1 1882.8 524 1883.2C523.9 1883.5 523.8 1883.9 523.6 1884.2C523.4 1884.5 523.2 1884.8 522.9 1885.1C522.6 1885.4 522.5 1885.5 521.8 1885.8C521.1 1886.1 521.3 1886.4 518.7 1886.9C516.1 1887.3 510.4 1888.2 506.3 1888.5C502.1 1888.9 498 1889 493.9 1889C489.8 1888.9 485.7 1888.7 481.7 1888.3C477.7 1887.9 473.7 1887.4 469.7 1886.7C465.7 1886 461.8 1885.2 457.8 1884.2C453.9 1883.3 450 1882.2 446.2 1881.1C442.3 1879.9 438.5 1878.6 434.7 1877.2C430.9 1875.9 427.1 1874.4 423.3 1872.9C419.5 1871.4 415.8 1869.9 412.1 1868.2C408.3 1866.6 404.6 1864.9 400.9 1863.3C397.3 1861.6 393.6 1859.8 389.9 1858.1C386.3 1856.4 382.8 1854.7 379.1 1852.9C375.3 1851.1 371.3 1849.2 367.5 1847.3C363.7 1845.3 359.9 1843.3 356.3 1841C352.7 1838.7 349.1 1836.2 345.8 1833.6C342.6 1831 339.7 1828.2 337 1825.2C334.3 1822.1 331.5 1818.2 329.6 1815.1C327.7 1812 326.7 1809.2 325.8 1806.5C324.9 1803.8 324.5 1801.7 324.3 1799.2C324.1 1796.7 324.2 1794.3 324.6 1791.6C324.9 1789 325.8 1785.9 326.7 1783.4C327.6 1780.9 328.7 1778.8 330.1 1776.7C331.4 1774.7 333.2 1772.7 334.8 1771.1C336.4 1769.5 338.5 1768.2 339.8 1767.4C341.2 1766.5 341.5 1766.3 343.1 1765.8Z" fill="none" stroke="#1caadf" stroke-width="1.6"/>
<path d="M350.1 1793.5C351.8 1792.7 354 1791.8 356.2 1791.3C358.4 1790.8 360.6 1790.5 363.3 1790.5C366 1790.6 368.8 1790.8 372.2 1791.6C375.6 1792.4 379.9 1793.9 383.6 1795.5C387.4 1797 391.1 1798.9 394.7 1800.8C398.3 1802.6 401.7 1804.5 405.3 1806.7C408.9 1808.8 412.6 1811.2 416.2 1813.5C419.8 1815.8 423.3 1818.3 426.8 1820.7C430.3 1823.1 433.8 1825.6 437.2 1828C440.6 1830.5 444 1833 447.4 1835.4C450.8 1837.9 454.1 1840.3 457.6 1842.7C461 1845.1 464.4 1847.4 468 1849.7C471.6 1851.9 475.3 1854.2 479 1856.2C482.7 1858.2 486.5 1860 490.2 1861.7C493.9 1863.5 498.4 1865.1 501.2 1866.5C504.1 1867.8 505.6 1868.8 507.1 1869.9C508.6 1871 509.5 1872.1 510.4 1873.1C511.2 1874.2 511.8 1875.2 512.2 1876C512.7 1876.8 512.9 1877.5 513.1 1878.2C513.3 1878.8 513.3 1879.6 513.3 1880.2C513.4 1880.7 513.3 1881 513.2 1881.4C513.1 1881.8 512.9 1882.2 512.7 1882.5C512.5 1882.8 512.2 1883.1 511.9 1883.4C511.6 1883.7 511.4 1883.9 510.7 1884.1C510 1884.4 510.3 1884.8 507.7 1885.1C505 1885.4 499.1 1885.9 494.9 1886C490.7 1886.1 486.4 1885.9 482.3 1885.6C478.2 1885.3 474.4 1884.8 470.3 1884.1C466.2 1883.4 461.8 1882.6 457.7 1881.6C453.6 1880.6 449.5 1879.4 445.5 1878.1C441.5 1876.9 437.5 1875.5 433.6 1874C429.6 1872.6 425.7 1871 421.7 1869.4C417.8 1867.8 413.7 1866 409.9 1864.4C406.1 1862.7 402.6 1861.2 398.9 1859.5C395.2 1857.9 391.4 1856.3 387.7 1854.7C384 1853 380.1 1851.4 376.4 1849.7C372.7 1847.9 369.2 1846.3 365.6 1844.2C362 1842.1 358.2 1839.7 355 1837.1C351.9 1834.6 349.1 1831.6 346.9 1829C344.7 1826.4 343.3 1823.9 342.1 1821.4C340.8 1819 340 1816.5 339.4 1814.4C338.8 1812.4 338.7 1810.5 338.6 1809C338.5 1807.5 338.7 1806.6 338.9 1805.5C339.2 1804.3 339.5 1803.2 340.1 1802.2C340.6 1801.1 341.2 1800.2 342.2 1799.2C343.2 1798.1 344.5 1796.9 345.8 1796C347.1 1795 348.3 1794.2 350.1 1793.5Z" fill="none" stroke="#12beb9" stroke-width="1.6"/>
<path d="M356.4 1810C357.2 1809.5 358.2 1808.8 359.4 1808.4C360.6 1807.9 361.9 1807.5 363.7 1807.3C365.6 1807.1 367.3 1806.9 370.4 1807.3C373.5 1807.8 378.7 1808.9 382.6 1809.9C386.5 1811 390.2 1812.5 394 1813.9C397.8 1815.3 401.7 1816.8 405.5 1818.4C409.4 1820 413.3 1821.7 417.1 1823.4C420.9 1825.2 424.7 1827.1 428.4 1829.1C432.2 1831 435.8 1833.1 439.4 1835.3C442.9 1837.4 446.3 1839.8 449.7 1842.1C453.1 1844.4 456.3 1846.8 459.8 1849C463.2 1851.3 466.7 1853.7 470.3 1855.7C473.8 1857.7 477.3 1859.3 481 1861.1C484.7 1862.9 489.7 1864.9 492.6 1866.6C495.5 1868.2 496.9 1869.5 498.3 1870.8C499.8 1872 500.7 1873.3 501.3 1874.1C502 1875 502.1 1875.5 502.3 1876C502.4 1876.6 502.4 1876.9 502.4 1877.2C502.4 1877.5 502.4 1877.5 502.3 1877.7C502.3 1877.9 502.3 1878 502.1 1878.2C501.9 1878.4 501.9 1878.7 501.3 1879C500.8 1879.4 500.6 1879.8 498.9 1880.3C497.3 1880.9 494.7 1881.9 491.5 1882.4C488.2 1882.8 483.3 1883.1 479.3 1883C475.2 1883 471.1 1882.4 467 1881.8C462.9 1881.2 458.6 1880.3 454.6 1879.4C450.7 1878.4 446.9 1877.4 443.1 1876.1C439.2 1874.9 435.2 1873.5 431.4 1872C427.6 1870.6 424 1869 420.3 1867.4C416.7 1865.8 413.1 1864.1 409.4 1862.4C405.7 1860.7 402.1 1859 398.3 1857.2C394.5 1855.4 390.5 1853.6 386.7 1851.8C382.9 1850 379.3 1848.5 375.6 1846.5C371.9 1844.5 367.6 1841.9 364.7 1839.8C361.8 1837.7 360 1835.8 358.4 1833.9C356.7 1832 355.5 1830.2 354.5 1828.3C353.6 1826.4 352.8 1824.1 352.4 1822.6C351.9 1821 351.9 1820.1 351.9 1819C351.8 1818 351.9 1817.3 352.1 1816.4C352.3 1815.6 352.6 1814.8 353 1814C353.4 1813.2 353.9 1812.5 354.5 1811.8C355.1 1811.2 355.6 1810.6 356.4 1810Z" fill="none" stroke="#48cb86" stroke-width="1.6"/>
<path d="M366.5 1823.7C367 1823.2 367.6 1822.6 368.5 1822.1C369.3 1821.7 370.3 1821.1 371.8 1820.8C373.3 1820.4 375.3 1820 377.4 1820C379.5 1820 381.4 1820 384.5 1820.7C387.7 1821.4 392.4 1822.8 396.3 1824.1C400.1 1825.4 404 1826.8 407.8 1828.3C411.5 1829.8 415.3 1831.4 419 1833.1C422.7 1834.7 426.3 1836.4 430 1838.2C433.8 1840 437.7 1841.9 441.5 1843.8C445.4 1845.7 449.3 1847.7 452.9 1849.6C456.6 1851.6 460 1853.4 463.7 1855.5C467.3 1857.6 471.1 1859.8 474.7 1862.1C478.2 1864.3 482.8 1867.3 485.1 1869C487.5 1870.7 488 1871.4 488.8 1872.2C489.6 1873 489.6 1873.4 489.9 1873.8C490.1 1874.2 490.1 1874.6 490.1 1874.8C490.2 1875.1 490.2 1875.1 490.1 1875.3C490.1 1875.5 490 1875.9 489.8 1876.2C489.6 1876.5 489.5 1876.8 489.1 1877.1C488.8 1877.4 488.3 1877.8 487.7 1878.2C487 1878.6 486.4 1879 485.2 1879.3C484.1 1879.7 483.4 1880.1 480.9 1880.2C478.4 1880.3 474.1 1880.2 470.2 1879.8C466.3 1879.3 461.6 1878.3 457.5 1877.4C453.3 1876.6 449.5 1875.8 445.5 1874.8C441.5 1873.9 437.2 1873 433.2 1871.8C429.2 1870.6 425.5 1869.2 421.6 1867.6C417.8 1866 413.8 1864 410.1 1862.1C406.3 1860.2 402.8 1858.3 399.1 1856.4C395.4 1854.5 391.5 1852.7 387.8 1850.8C384.1 1849 379.5 1847 376.7 1845.3C373.8 1843.6 372.1 1842.1 370.6 1840.6C369 1839.2 368.2 1838 367.3 1836.7C366.4 1835.4 365.8 1834.1 365.3 1832.9C364.9 1831.7 364.7 1830.5 364.6 1829.6C364.5 1828.6 364.6 1827.9 364.8 1827.2C364.9 1826.4 365.3 1825.5 365.6 1825C365.9 1824.4 366 1824.1 366.5 1823.7Z" fill="none" stroke="#9fc942" stroke-width="1.6"/>
<path d="M385.4 1829.9C386.8 1829.6 388.4 1829.4 390 1829.5C391.7 1829.5 392.5 1829.4 395.2 1830.3C398 1831.3 402.8 1833.6 406.6 1835.2C410.3 1836.9 413.9 1838.5 417.6 1840.1C421.4 1841.7 425.3 1843.2 429.1 1844.8C432.8 1846.5 436.5 1848.3 440.1 1850.2C443.7 1852 447.1 1854 450.8 1856C454.6 1857.9 458.6 1859.8 462.5 1861.7C466.4 1863.6 471.6 1866.1 474 1867.5C476.4 1868.8 476.5 1869.3 477.1 1869.8C477.8 1870.4 477.7 1870.4 477.9 1870.8C478 1871.1 478.2 1871.4 478.2 1871.7C478.3 1871.9 478.3 1872 478.3 1872.1C478.3 1872.3 478.3 1872.4 478.2 1872.6C478.2 1872.7 478.2 1872.8 478 1873C477.9 1873.2 477.8 1873.5 477.4 1873.8C477 1874.2 476.5 1874.6 475.7 1875C474.9 1875.4 474 1875.8 472.8 1876.1C471.7 1876.4 470.7 1876.7 469 1876.7C467.3 1876.7 465.6 1876.8 462.6 1876.2C459.5 1875.7 454.7 1874.4 450.7 1873.4C446.7 1872.5 442.7 1871.5 438.7 1870.6C434.7 1869.6 430.7 1868.6 426.8 1867.5C422.9 1866.4 419.1 1865.4 415.3 1864C411.4 1862.6 407.3 1861 403.6 1859.2C399.9 1857.4 396.4 1855.4 393.1 1853.1C389.8 1850.7 386.2 1847.4 383.9 1845.1C381.6 1842.8 380.3 1840.6 379.3 1839.3C378.4 1838 378.6 1837.9 378.4 1837.3C378.2 1836.8 378.1 1836.4 378.1 1836C378 1835.6 378 1835.2 378.1 1834.8C378.2 1834.4 378.3 1834 378.5 1833.6C378.8 1833.2 378.9 1833 379.5 1832.6C380 1832.1 380.7 1831.6 381.7 1831.2C382.6 1830.7 384 1830.2 385.4 1829.9Z" fill="none" stroke="#eaba31" stroke-width="1.6"/>
<path d="M394.9 1846.2C395 1845.8 395.4 1845 395.8 1844.5C396.2 1843.9 396.7 1843.4 397.2 1842.9C397.8 1842.4 398.4 1842 399.1 1841.6C399.7 1841.3 400.3 1841 401.2 1840.8C402 1840.6 402.8 1840.4 404.1 1840.4C405.4 1840.5 406.2 1840.2 408.8 1841.1C411.5 1841.9 416.4 1843.9 420.3 1845.4C424.1 1847 428 1848.7 431.9 1850.3C435.8 1851.8 439.9 1853.1 443.7 1854.8C447.4 1856.4 451.5 1858.4 454.4 1860.1C457.2 1861.8 459.3 1864 460.6 1865.1C461.9 1866.3 461.7 1866.4 462 1866.9C462.3 1867.4 462.4 1867.7 462.5 1868C462.6 1868.2 462.6 1868.3 462.6 1868.4C462.6 1868.6 462.6 1868.7 462.5 1868.9C462.5 1869 462.5 1869.1 462.3 1869.3C462.2 1869.4 462.1 1869.7 461.6 1869.9C461.1 1870.1 460.4 1870.5 459.3 1870.7C458.2 1870.9 457.3 1871.3 455.2 1871.2C453 1871.1 449.9 1870.9 446.5 1870.1C443.1 1869.4 438.8 1868.1 434.9 1866.9C431 1865.6 427 1864.2 423.1 1862.8C419.1 1861.4 414.9 1860.1 410.9 1858.6C407 1857.1 401.8 1854.7 399.4 1853.5C397 1852.3 397.2 1851.9 396.5 1851.3C395.8 1850.7 395.6 1850.3 395.3 1849.9C395.1 1849.5 395 1849.2 394.9 1848.9C394.7 1848.5 394.7 1848.2 394.6 1847.8C394.6 1847.5 394.7 1847 394.7 1846.7C394.7 1846.5 394.7 1846.5 394.9 1846.2Z" fill="none" stroke="#fad42e" stroke-width="1.6"/>
</g>
<clipPath id="cpf"><rect x="844.0" y="1407.0" width="634.0" height="491.0"/></clipPath><g clip-path="url(#cpf)">
<path d="M839.3 1750.2C839.8 1747.6 840.8 1741.7 841.7 1737.5C842.5 1733.4 843.5 1729.2 844.4 1725.1C845.4 1721 846.5 1717 847.6 1712.9C848.8 1708.8 849.9 1704.8 851.2 1700.7C852.4 1696.6 853.7 1692.6 855.1 1688.5C856.4 1684.4 857.9 1680.2 859.3 1676.3C860.7 1672.3 862 1668.7 863.5 1665C865 1661.2 866.5 1657.5 868.1 1653.8C869.7 1650.1 871.4 1646.4 873.1 1642.8C874.9 1639.2 876.6 1635.8 878.6 1632.1C880.6 1628.5 882.8 1624.6 885.1 1620.9C887.4 1617.2 889.8 1613.7 892.3 1610.2C894.9 1606.7 897.5 1603.3 900.2 1600C902.9 1596.7 905.8 1593.5 908.7 1590.4C911.6 1587.2 914.7 1584.2 917.8 1581.3C920.9 1578.3 924.1 1575.5 927.4 1572.8C930.7 1570 934 1567.4 937.5 1564.8C940.9 1562.2 944.4 1559.8 948 1557.4C951.6 1555.1 955.3 1552.8 959 1550.6C962.7 1548.5 966.5 1546.4 970.3 1544.5C974.1 1542.5 978 1540.6 981.9 1538.9C985.8 1537.1 989.8 1535.5 993.8 1533.9C997.8 1532.4 1001.9 1530.9 1006 1529.6C1010 1528.2 1014.2 1527 1018.3 1525.9C1022.4 1524.7 1026.6 1523.7 1030.8 1522.8C1035 1521.9 1039.2 1521.1 1043.4 1520.3C1047.6 1519.6 1051.8 1519 1056.1 1518.5C1060.3 1518 1064.6 1517.5 1068.8 1517.2C1073.1 1516.8 1077.4 1516.5 1081.7 1516.3C1086 1516.1 1090.3 1515.9 1094.6 1515.9C1098.9 1515.8 1103.2 1515.8 1107.6 1515.8C1111.9 1515.8 1116.4 1515.9 1120.5 1516C1124.7 1516.1 1128.5 1516.3 1132.6 1516.5C1136.6 1516.7 1140.6 1516.9 1144.6 1517.1C1148.6 1517.4 1152.6 1517.6 1156.6 1517.9C1160.6 1518.2 1164.6 1518.5 1168.6 1518.8C1172.6 1519.1 1176.4 1519.4 1180.6 1519.7C1184.7 1520 1189.2 1520.4 1193.5 1520.7C1197.8 1521 1202.1 1521.4 1206.4 1521.7C1210.7 1522 1214.9 1522.3 1219.2 1522.6C1223.5 1522.8 1227.7 1523.1 1232 1523.3C1236.2 1523.5 1240.4 1523.7 1244.6 1523.9C1248.9 1524 1253.1 1524.2 1257.3 1524.3C1261.6 1524.4 1265.8 1524.5 1270.1 1524.6C1274.3 1524.6 1278.8 1524.7 1282.9 1524.7C1287.1 1524.7 1290.9 1524.8 1295 1524.8C1299 1524.8 1303.1 1524.7 1307.2 1524.7C1311.3 1524.7 1315.4 1524.7 1319.5 1524.8C1323.6 1524.9 1327.7 1525 1331.8 1525.3C1335.8 1525.6 1339.7 1525.9 1343.7 1526.6C1347.7 1527.3 1352.1 1528.2 1356 1529.5C1359.9 1530.8 1364.7 1533 1367.3 1534.3C1370 1535.6 1370.8 1536.5 1371.8 1537.3C1372.8 1538.1 1372.9 1538.5 1373.3 1538.9C1373.6 1539.4 1373.7 1539.7 1373.8 1540C1373.9 1540.3 1373.8 1540.4 1373.9 1540.6C1373.9 1540.7 1373.8 1540.9 1373.8 1541.1C1373.8 1541.3 1373.8 1541.4 1373.6 1541.7C1373.5 1541.9 1373.5 1542.2 1372.8 1542.8C1372.2 1543.3 1372.3 1543.7 1369.9 1544.9C1367.5 1546.2 1362.2 1548.7 1358.4 1550.5C1354.5 1552.2 1350.7 1553.9 1346.9 1555.6C1343 1557.3 1339 1559.1 1335.1 1560.7C1331.2 1562.3 1327.3 1563.9 1323.3 1565.5C1319.4 1567 1315.4 1568.6 1311.4 1570.1C1307.4 1571.6 1303.3 1573 1299.3 1574.5C1295.3 1575.9 1291.2 1577.4 1287.2 1578.8C1283.1 1580.2 1279 1581.6 1275 1582.9C1270.9 1584.3 1266.8 1585.7 1262.7 1587C1258.6 1588.3 1254.5 1589.7 1250.4 1591C1246.3 1592.3 1242.2 1593.7 1238.1 1595C1233.9 1596.3 1229.8 1597.6 1225.7 1599C1221.6 1600.3 1217.5 1601.6 1213.4 1603C1209.3 1604.3 1205.2 1605.6 1201.2 1607C1197.1 1608.3 1193 1609.7 1188.9 1611.1C1184.8 1612.4 1180.7 1613.8 1176.7 1615.2C1172.6 1616.6 1168.5 1618 1164.5 1619.4C1160.4 1620.8 1156.4 1622.2 1152.3 1623.7C1148.3 1625.1 1144.3 1626.6 1140.2 1628C1136.2 1629.5 1132.2 1631 1128.2 1632.5C1124.2 1634.1 1120.2 1635.6 1116.2 1637.2C1112.2 1638.7 1108.2 1640.3 1104.3 1641.9C1100.3 1643.6 1096.4 1645.2 1092.4 1646.9C1088.5 1648.6 1084.5 1650.3 1080.6 1652C1076.7 1653.7 1072.8 1655.5 1068.9 1657.3C1065 1659.1 1061.2 1660.9 1057.3 1662.8C1053.4 1664.6 1049.6 1666.5 1045.8 1668.5C1041.9 1670.4 1038.1 1672.4 1034.3 1674.4C1030.5 1676.4 1026.7 1678.5 1023 1680.6C1019.2 1682.7 1015.5 1684.8 1011.7 1687C1008 1689.2 1004.2 1691.5 1000.6 1693.7C997.1 1695.9 993.8 1698 990.4 1700.2C987.1 1702.4 983.7 1704.6 980.4 1706.8C977.1 1709.1 973.8 1711.4 970.6 1713.8C967.3 1716.1 964.2 1718.4 960.9 1720.9C957.6 1723.5 954.1 1726.2 950.8 1729C947.4 1731.7 944.2 1734.5 940.9 1737.3C937.7 1740.1 934.6 1743 931.5 1745.9C928.4 1748.8 925.4 1751.8 922.4 1754.8C919.5 1757.8 916.6 1760.8 913.8 1763.9C911 1767 908.3 1770.2 905.6 1773.4C902.9 1776.6 900.3 1779.9 897.6 1783.2C895 1786.6 892.2 1790.1 889.7 1793.4C887.1 1796.8 884.7 1799.9 882.2 1803.2C879.6 1806.5 877.1 1810.1 874.4 1813.4C871.7 1816.7 868 1820.9 866.2 1822.8C864.4 1824.7 864.2 1824.4 863.4 1824.8C862.5 1825.3 861.8 1825.5 861.2 1825.6C860.6 1825.8 860.2 1825.8 859.7 1825.8C859.3 1825.8 858.9 1825.8 858.3 1825.7C857.7 1825.5 856.9 1825.3 856.1 1824.7C855.2 1824.2 854.7 1824.2 853.1 1822.4C851.5 1820.6 848.6 1817.3 846.6 1814.1C844.6 1810.9 842.7 1807.1 841.2 1803.3C839.8 1799.4 838.7 1795.1 838 1790.9C837.2 1786.7 837 1782.3 836.9 1778.1C836.8 1773.8 837.1 1769.2 837.4 1765.1C837.7 1760.9 838.5 1755.6 838.9 1753.1C839.2 1750.6 838.9 1752.8 839.3 1750.2Z" fill="none" stroke="#4743e7" stroke-width="1.6"/>
<path d="M851.1 1791.6C850.5 1788.7 849.2 1783.6 848.5 1779.4C847.9 1775.3 847.3 1770.8 847 1766.6C846.7 1762.4 846.6 1758.3 846.7 1754.2C846.8 1750.1 847.1 1746 847.5 1742C847.9 1738 848.5 1734 849.3 1730.1C850 1726.1 850.9 1722.2 851.8 1718.3C852.8 1714.3 853.9 1710.4 855.1 1706.5C856.3 1702.6 857.6 1698.7 859 1694.8C860.3 1690.9 861.7 1687 863.2 1683.1C864.7 1679.2 866.3 1675.3 867.9 1671.4C869.5 1667.5 871.2 1663.6 873 1659.8C874.8 1655.9 876.6 1652.1 878.6 1648.3C880.5 1644.6 882.5 1640.8 884.6 1637.1C886.7 1633.5 888.9 1629.8 891.1 1626.3C893.4 1622.7 895.7 1619.2 898.2 1615.9C900.6 1612.5 903.1 1609.1 905.7 1605.9C908.4 1602.7 911.1 1599.6 913.9 1596.6C916.7 1593.6 919.6 1590.7 922.6 1588C925.6 1585.2 928.7 1582.6 932 1580.1C935.2 1577.6 938.5 1575.3 941.9 1573.1C945.3 1570.8 948.8 1568.8 952.4 1566.8C956 1564.9 959.7 1563.1 963.4 1561.4C967.2 1559.7 971 1558.2 974.9 1556.8C978.7 1555.4 982.7 1554.1 986.6 1552.9C990.6 1551.7 994.6 1550.7 998.7 1549.7C1002.8 1548.8 1006.9 1548 1011 1547.3C1015.1 1546.6 1019.3 1546 1023.4 1545.6C1027.6 1545.1 1031.8 1544.7 1035.9 1544.5C1040.1 1544.2 1044.3 1544.1 1048.5 1544.1C1052.6 1544 1056.8 1544.1 1061 1544.3C1065.1 1544.4 1069.2 1544.7 1073.4 1545.1C1077.5 1545.4 1081.6 1545.9 1085.7 1546.4C1089.8 1546.9 1093.9 1547.6 1098 1548.2C1102.1 1548.9 1106.1 1549.7 1110.2 1550.6C1114.3 1551.4 1118.3 1552.3 1122.4 1553.3C1126.4 1554.3 1130.5 1555.3 1134.5 1556.4C1138.6 1557.5 1142.6 1558.7 1146.6 1559.9C1150.7 1561.1 1154.7 1562.4 1158.7 1563.7C1162.7 1565 1168.1 1566.9 1170.5 1567.8C1173 1568.8 1172.7 1569 1173.4 1569.6C1174.1 1570.1 1174.6 1570.7 1174.9 1571.2C1175.3 1571.6 1175.4 1572 1175.6 1572.4C1175.7 1572.9 1175.8 1573.2 1175.8 1573.9C1175.8 1574.5 1175.8 1575.5 1175.6 1576.3C1175.4 1577.1 1175.2 1577.8 1174.5 1578.9C1173.9 1580 1173.5 1581 1171.5 1582.9C1169.4 1584.9 1165.5 1588.1 1162.1 1590.5C1158.8 1592.8 1154.8 1595 1151.2 1597C1147.6 1599.1 1144.1 1600.8 1140.5 1602.7C1136.8 1604.6 1133.2 1606.4 1129.6 1608.3C1125.9 1610.2 1122.3 1612 1118.6 1613.9C1114.9 1615.7 1111.2 1617.6 1107.6 1619.4C1103.9 1621.3 1100.2 1623.2 1096.5 1625C1092.8 1626.9 1089.1 1628.8 1085.4 1630.7C1081.7 1632.6 1077.9 1634.5 1074.2 1636.4C1070.5 1638.3 1066.8 1640.2 1063.2 1642.2C1059.5 1644.1 1055.8 1646.1 1052.1 1648.1C1048.5 1650 1044.8 1652.1 1041.2 1654.1C1037.5 1656.1 1033.9 1658.2 1030.3 1660.3C1026.7 1662.4 1023.1 1664.5 1019.6 1666.6C1016 1668.8 1012.5 1670.9 1009 1673.2C1005.4 1675.4 1002 1677.6 998.5 1679.9C995.1 1682.2 991.7 1684.5 988.3 1686.9C984.9 1689.3 981.5 1691.7 978.2 1694.1C974.8 1696.5 971.5 1699 968.2 1701.5C965 1704 961.7 1706.5 958.5 1709.1C955.2 1711.6 952 1714.2 948.8 1716.8C945.6 1719.4 942.4 1722.1 939.3 1724.7C936.1 1727.4 933 1730.1 929.9 1732.8C926.8 1735.5 923.7 1738.3 920.6 1741C917.6 1743.8 914.5 1746.6 911.6 1749.5C908.7 1752.4 905.8 1755.4 903 1758.5C900.3 1761.6 897.6 1764.9 895.1 1768.2C892.6 1771.6 890.4 1775.2 888 1778.7C885.6 1782.2 883.4 1785.8 880.8 1789.1C878.2 1792.4 875 1795.9 872.4 1798.3C869.9 1800.7 867.1 1802.3 865.3 1803.4C863.6 1804.4 862.8 1804.5 862 1804.8C861.1 1805.1 860.9 1805.1 860.4 1805.1C859.9 1805.1 859.4 1805.1 858.9 1805C858.5 1804.9 858 1804.7 857.6 1804.5C857.2 1804.3 856.9 1804.1 856.5 1803.6C856 1803.2 855.6 1802.9 855 1801.8C854.3 1800.6 853.3 1798.3 852.6 1796.6C852 1794.9 851.8 1794.4 851.1 1791.6Z" fill="none" stroke="#4367fd" stroke-width="1.6"/>
<path d="M853.1 1769.8C852.7 1766.7 852.1 1761.5 851.9 1757.3C851.7 1753.1 851.6 1748.6 851.8 1744.4C852 1740.2 852.4 1736.2 853 1732.1C853.6 1728.1 854.3 1724.2 855.2 1720.2C856 1716.3 857.1 1712.5 858.2 1708.6C859.3 1704.8 860.6 1701 861.9 1697.1C863.2 1693.3 864.6 1689.5 866.1 1685.6C867.6 1681.8 869.1 1677.9 870.8 1674C872.4 1670.2 874.1 1666.3 875.8 1662.5C877.6 1658.7 879.5 1654.9 881.4 1651.2C883.4 1647.4 885.4 1643.7 887.5 1640.1C889.6 1636.4 891.9 1632.8 894.2 1629.3C896.5 1625.8 898.9 1622.4 901.4 1619.1C903.9 1615.7 906.5 1612.5 909.3 1609.4C912 1606.3 914.8 1603.2 917.8 1600.4C920.7 1597.5 923.8 1594.8 927 1592.2C930.2 1589.6 933.5 1587.2 936.9 1584.9C940.3 1582.6 943.8 1580.5 947.4 1578.5C950.9 1576.6 954.6 1574.8 958.4 1573.2C962.1 1571.6 966 1570.2 969.9 1569C973.8 1567.8 977.7 1566.8 981.7 1566C985.7 1565.3 989.8 1564.7 993.9 1564.3C998 1564 1002.1 1563.8 1006.3 1563.9C1010.5 1564 1014.7 1564.4 1018.9 1565C1023.1 1565.5 1027.3 1566.4 1031.5 1567.4C1035.6 1568.5 1040 1569.8 1043.9 1571.2C1047.8 1572.6 1051.2 1574.1 1055 1575.8C1058.7 1577.6 1063 1579.8 1066.3 1581.8C1069.6 1583.8 1073 1586.4 1074.8 1587.8C1076.5 1589.2 1076.4 1589.5 1076.9 1590.3C1077.4 1591.1 1077.6 1591.7 1077.9 1592.4C1078.1 1593.1 1078.2 1593.7 1078.3 1594.6C1078.4 1595.5 1078.4 1596.5 1078.2 1597.8C1077.9 1599.2 1077.8 1600.5 1076.7 1602.8C1075.6 1605.1 1073.8 1608.8 1071.6 1611.8C1069.4 1614.8 1066.5 1618.2 1063.5 1621C1060.6 1623.9 1057.4 1626.5 1054 1629C1050.7 1631.5 1047.1 1633.8 1043.6 1636.1C1040 1638.4 1036.2 1640.6 1032.6 1642.8C1028.9 1645 1025.2 1647.1 1021.6 1649.3C1017.9 1651.5 1014.4 1653.8 1010.8 1656C1007.3 1658.3 1003.8 1660.6 1000.4 1662.9C996.9 1665.2 993.6 1667.6 990.2 1670C986.8 1672.4 983.5 1674.8 980.3 1677.3C977 1679.8 973.8 1682.3 970.6 1684.8C967.4 1687.4 964.2 1690 961.1 1692.6C958 1695.3 954.9 1697.9 951.9 1700.7C948.8 1703.4 945.8 1706.2 942.9 1709C939.9 1711.9 936.9 1714.7 934 1717.7C931.1 1720.6 928.2 1723.6 925.4 1726.7C922.6 1729.7 919.7 1732.8 917 1735.9C914.2 1739 911.5 1742.2 908.8 1745.3C906.1 1748.5 903.4 1751.7 900.8 1754.9C898.2 1758.1 895.8 1761.3 893.1 1764.6C890.5 1767.8 887.9 1771.3 885.2 1774.5C882.5 1777.7 879.2 1781.6 876.9 1783.9C874.7 1786.2 873.2 1787.2 871.8 1788.1C870.5 1789.1 869.8 1789.2 868.8 1789.6C867.8 1789.9 866.7 1790.1 865.9 1790.1C865.1 1790.2 864.5 1790.1 863.8 1790C863.1 1789.9 862.4 1789.7 861.8 1789.4C861.2 1789.1 860.6 1788.7 860 1788.3C859.4 1787.8 859 1787.4 858.4 1786.6C857.8 1785.9 857.3 1785.5 856.7 1783.8C856 1782 854.8 1778.5 854.2 1776.2C853.6 1773.9 853.5 1773 853.1 1769.8Z" fill="none" stroke="#2d8cf3" stroke-width="1.6"/>
<path d="M859.2 1765.7C858.6 1763 857.2 1757.6 856.6 1753.6C856.1 1749.5 855.9 1745.5 855.9 1741.5C855.9 1737.5 856.3 1733.4 856.8 1729.4C857.4 1725.4 858.2 1721.4 859.1 1717.4C860 1713.4 861.1 1709.5 862.3 1705.5C863.5 1701.6 864.9 1697.7 866.3 1693.8C867.7 1689.9 869.2 1686.1 870.8 1682.3C872.3 1678.5 873.9 1674.7 875.6 1671C877.2 1667.3 879 1663.7 880.8 1660.1C882.6 1656.5 884.5 1652.9 886.5 1649.4C888.5 1645.9 890.4 1642.6 892.7 1639.1C895 1635.7 897.5 1632 900 1628.5C902.6 1625.1 905.4 1621.6 908.1 1618.5C910.8 1615.3 913.4 1612.5 916.3 1609.7C919.1 1606.8 922.1 1604 925.2 1601.4C928.2 1598.8 931.5 1596.2 934.8 1593.9C938.1 1591.6 941.6 1589.4 945.1 1587.5C948.6 1585.6 952.2 1584 956.1 1582.6C960 1581.2 964.4 1580 968.5 1579.3C972.6 1578.6 976.6 1578.3 980.7 1578.5C984.8 1578.6 989.4 1579.2 993.2 1580.1C996.9 1581 1000.4 1582.4 1003.1 1583.7C1005.8 1584.9 1007.5 1586.3 1009.3 1587.7C1011.1 1589.1 1012.5 1590.5 1013.8 1592.2C1015.1 1593.8 1016.3 1595.8 1017.1 1597.6C1018 1599.4 1018.5 1600.9 1018.9 1602.8C1019.3 1604.8 1019.6 1606.9 1019.6 1609.5C1019.5 1612 1019.3 1615.2 1018.6 1618.2C1017.9 1621.1 1016.8 1624.2 1015.4 1627.1C1014 1630 1012.4 1632.6 1010.1 1635.5C1007.7 1638.4 1004.3 1641.8 1001.2 1644.6C998.2 1647.4 995 1649.7 991.8 1652.2C988.6 1654.7 985.2 1657.1 982 1659.7C978.8 1662.3 975.7 1665 972.6 1667.7C969.6 1670.5 966.6 1673.3 963.6 1676.2C960.7 1679 957.8 1682 955 1684.9C952.2 1687.8 949.5 1690.6 946.7 1693.7C943.9 1696.7 940.9 1699.9 938 1703C935.2 1706.1 932.4 1709.1 929.6 1712.1C926.8 1715.2 924 1718.2 921.2 1721.4C918.5 1724.5 915.6 1727.8 912.9 1731.1C910.3 1734.4 907.7 1737.7 905.2 1741C902.7 1744.4 900.4 1747.7 898 1751.1C895.5 1754.5 893.2 1758.1 890.6 1761.4C887.9 1764.7 884.5 1768.6 882.2 1770.8C879.9 1773 878.2 1773.8 876.7 1774.8C875.2 1775.7 874.3 1775.9 873.2 1776.3C872.2 1776.6 871.3 1776.7 870.4 1776.8C869.5 1776.9 868.4 1776.8 867.7 1776.7C866.9 1776.5 866.3 1776.3 865.7 1776C865.1 1775.7 864.5 1775.3 864 1774.9C863.4 1774.4 863.1 1774.1 862.5 1773.2C861.9 1772.3 861 1770.5 860.5 1769.3C859.9 1768 859.9 1768.3 859.2 1765.7Z" fill="none" stroke="#1caadf" stroke-width="1.6"/>
<path d="M865.1 1757.8C864.5 1756.3 862.8 1752.8 862 1749.4C861.2 1746.1 860.6 1741.7 860.4 1737.7C860.3 1733.7 860.6 1729.6 861.1 1725.5C861.6 1721.4 862.5 1717.2 863.5 1713.1C864.4 1709.1 865.6 1705 866.9 1701.1C868.1 1697.2 869.4 1693.6 870.8 1689.7C872.3 1685.9 874 1681.9 875.7 1678.1C877.4 1674.3 879.1 1670.5 881 1666.8C882.9 1663.1 884.9 1659.5 887 1655.8C889 1652.2 891.3 1648.4 893.4 1644.9C895.6 1641.4 897.6 1638 899.9 1634.6C902.1 1631.2 904.4 1627.7 906.9 1624.4C909.4 1621.1 911.9 1617.8 914.7 1614.8C917.4 1611.8 920.2 1609 923.4 1606.4C926.6 1603.8 930.7 1601.2 934.1 1599.4C937.5 1597.7 940.3 1596.7 943.6 1595.9C946.9 1595.1 950.6 1594.5 954.1 1594.4C957.6 1594.3 961.6 1594.7 964.7 1595.2C967.7 1595.7 970.3 1596.7 972.5 1597.6C974.7 1598.5 976.3 1599.6 977.6 1600.5C979 1601.5 979.7 1602.3 980.6 1603.2C981.4 1604.2 982.2 1605.3 982.8 1606.5C983.4 1607.7 983.9 1608.6 984.2 1610.2C984.6 1611.8 985.1 1613.6 985.1 1616.1C985.1 1618.6 985 1621.8 984.2 1625.4C983.3 1629 981.8 1633.8 980.1 1637.7C978.5 1641.6 976.3 1645.4 974 1648.9C971.8 1652.3 969.4 1655.3 966.7 1658.5C963.9 1661.6 960.8 1664.7 957.8 1667.6C954.8 1670.6 951.6 1673.4 948.6 1676.3C945.6 1679.2 942.6 1682.1 939.7 1685.2C936.9 1688.3 934.1 1691.7 931.6 1695C929.2 1698.3 927.1 1701.6 924.9 1705C922.7 1708.4 920.7 1711.9 918.5 1715.3C916.4 1718.7 914.4 1722.1 912.1 1725.5C909.7 1728.9 907.2 1732.4 904.5 1735.7C901.9 1739 898.8 1742.2 896 1745.2C893.2 1748.3 890.6 1751.2 887.8 1754.1C885 1757 881.2 1760.8 879.2 1762.5C877.2 1764.3 876.6 1764.2 875.7 1764.6C874.8 1765 874.3 1765.1 873.8 1765.2C873.2 1765.3 872.9 1765.2 872.5 1765.2C872.1 1765.1 871.7 1765.1 871.3 1764.9C870.9 1764.8 870.6 1764.6 870.1 1764.3C869.6 1764 869.2 1763.8 868.4 1762.8C867.7 1761.9 866.1 1759.4 865.5 1758.6C865 1757.7 865.7 1759.3 865.1 1757.8Z" fill="none" stroke="#12beb9" stroke-width="1.6"/>
<path d="M866.3 1743.4C865.8 1741.1 864.8 1737 864.6 1733.3C864.4 1729.6 864.6 1725.6 865.2 1721.5C865.9 1717.5 867 1713.2 868.3 1709.1C869.6 1705 871.3 1701 872.8 1697C874.4 1693.1 876.2 1689.2 877.8 1685.3C879.5 1681.5 881.1 1677.7 882.7 1674C884.4 1670.3 886.1 1666.6 887.9 1663C889.7 1659.4 891.5 1655.8 893.5 1652.2C895.6 1648.7 897.7 1645.2 900 1641.7C902.3 1638.2 904.9 1634.6 907.6 1631.2C910.2 1627.9 912.9 1624.7 915.9 1621.6C918.9 1618.6 922.5 1615.2 925.4 1613C928.2 1610.7 930.9 1609.2 933.1 1608C935.3 1606.9 937 1606.4 938.7 1606C940.4 1605.6 942 1605.4 943.4 1605.4C944.9 1605.4 946.1 1605.6 947.4 1605.9C948.6 1606.3 949.8 1606.7 951.2 1607.4C952.5 1608.1 954.1 1609 955.5 1610.2C956.9 1611.4 958.6 1613.2 959.7 1614.7C960.9 1616.2 961.7 1617.6 962.4 1619.2C963.1 1620.8 963.6 1622.5 963.9 1624.2C964.2 1625.9 964.4 1627.3 964.2 1629.4C964 1631.4 963.8 1633.5 962.8 1636.4C961.7 1639.3 960 1643.4 958 1646.9C956 1650.4 953.3 1654.1 950.8 1657.5C948.3 1660.9 945.6 1664 943.1 1667.3C940.5 1670.6 937.9 1674 935.5 1677.4C933 1680.8 930.9 1684.1 928.6 1687.6C926.3 1691.1 924.1 1694.8 921.8 1698.4C919.6 1702 917.3 1705.7 915 1709.4C912.8 1713 910.5 1716.6 908.1 1720.1C905.8 1723.6 903.4 1727.1 900.8 1730.4C898.2 1733.7 895.5 1736.9 892.6 1739.9C889.6 1742.9 885.7 1746.4 883.1 1748.5C880.6 1750.6 878.5 1751.7 877.2 1752.6C875.8 1753.4 875.6 1753.2 875 1753.4C874.4 1753.5 874.1 1753.5 873.6 1753.5C873.2 1753.5 872.8 1753.4 872.4 1753.2C872 1753.1 871.7 1753 871.2 1752.6C870.8 1752.2 870.3 1751.9 869.7 1751C869.1 1750 868.1 1748.3 867.6 1747.1C867 1745.8 866.8 1745.7 866.3 1743.4Z" fill="none" stroke="#48cb86" stroke-width="1.6"/>
<path d="M868.4 1724.2C868.5 1722 868.5 1719.1 869.3 1715.9C870.1 1712.7 871.5 1708.8 873.1 1705.3C874.7 1701.7 877 1698.2 878.8 1694.5C880.6 1690.8 882.4 1687.1 884 1683.2C885.6 1679.3 886.9 1675.2 888.4 1671.2C889.8 1667.2 891.1 1663.1 892.7 1659.1C894.2 1655.2 895.7 1651.2 897.7 1647.6C899.6 1643.9 901.9 1640.1 904.2 1637.1C906.5 1634 909 1631.6 911.7 1629.4C914.4 1627.2 917.6 1625.2 920.4 1623.8C923.2 1622.4 926.3 1621.4 928.5 1620.8C930.6 1620.2 932.2 1620.1 933.6 1620.1C934.9 1620 935.8 1620.1 936.7 1620.3C937.5 1620.4 938.1 1620.6 938.7 1620.8C939.4 1621.1 940 1621.4 940.5 1621.8C941 1622.2 941.5 1622.7 942 1623.2C942.4 1623.7 942.7 1624.1 943.1 1625C943.5 1625.9 944 1626.9 944.3 1628.8C944.6 1630.6 945 1632.7 944.8 1636.1C944.6 1639.4 943.9 1644.8 943 1648.9C942 1652.9 940.8 1656.6 939.2 1660.3C937.6 1664 935.6 1667.7 933.5 1671.2C931.4 1674.6 929 1677.9 926.6 1681.1C924.2 1684.3 921.6 1687.4 919.1 1690.6C916.6 1693.8 913.9 1696.9 911.4 1700.2C908.9 1703.4 906.3 1706.9 904.1 1710.3C901.8 1713.7 900 1717.2 897.9 1720.6C895.9 1724.1 893.6 1728.5 891.7 1731.2C889.9 1733.9 888.4 1735.3 886.8 1736.8C885.3 1738.3 883.6 1739.3 882.4 1740.1C881.1 1740.9 880.2 1741.2 879.3 1741.5C878.4 1741.8 877.7 1741.8 877.1 1741.9C876.5 1741.9 876.1 1741.8 875.7 1741.7C875.3 1741.6 874.9 1741.5 874.5 1741.3C874.1 1741.1 873.8 1740.9 873.3 1740.5C872.9 1740.1 872.4 1739.6 871.9 1738.8C871.4 1738 870.9 1737.4 870.3 1735.8C869.8 1734.2 869 1731.2 868.7 1729.2C868.4 1727.3 868.3 1726.4 868.4 1724.2Z" fill="none" stroke="#9fc942" stroke-width="1.6"/>
<path d="M875.1 1721.4C874.7 1719.3 874.2 1716.2 874.2 1713.2C874.2 1710.2 874.6 1706.9 875.4 1703.3C876.2 1699.8 877.5 1695.6 879 1691.8C880.5 1688 882.4 1684.1 884.2 1680.4C886 1676.6 888 1673.1 890 1669.4C891.9 1665.7 893.7 1661.8 895.7 1658.2C897.7 1654.6 899.8 1650.8 902.1 1647.7C904.4 1644.7 907.4 1641.9 909.7 1639.8C912.1 1637.7 914.7 1636.3 916.4 1635.3C918 1634.3 918.7 1634.3 919.7 1634C920.6 1633.7 921.3 1633.7 922 1633.7C922.6 1633.7 922.9 1633.7 923.3 1633.8C923.8 1634 924.2 1634.1 924.6 1634.4C925 1634.6 925.3 1634.8 925.7 1635.2C926.1 1635.6 926.5 1636 927 1637C927.5 1637.9 928.2 1638.9 928.7 1640.9C929.2 1642.9 929.9 1646.2 930 1648.9C930.2 1651.6 930.2 1654.2 929.6 1657.2C929.1 1660.1 928.4 1663 927 1666.4C925.6 1669.8 923.3 1673.9 921.2 1677.4C919 1680.9 916.6 1684 914.2 1687.4C911.7 1690.8 909 1694.3 906.6 1697.7C904.3 1701.2 902.1 1704.5 899.9 1708C897.8 1711.5 895.6 1715.7 893.8 1718.5C892 1721.2 890.5 1723 889.2 1724.5C887.8 1726 886.6 1726.7 885.6 1727.4C884.5 1728.1 883.7 1728.4 882.9 1728.6C882.2 1728.9 881.5 1728.9 881 1729C880.5 1729 880.2 1728.9 879.8 1728.8C879.4 1728.7 879.1 1728.6 878.7 1728.4C878.4 1728.2 878.2 1728 877.8 1727.6C877.5 1727.2 877.1 1726.9 876.7 1725.9C876.2 1724.8 875.5 1723.5 875.1 1721.4Z" fill="none" stroke="#eaba31" stroke-width="1.6"/>
<path d="M881.5 1703.2C881.7 1700.2 882.2 1694.7 883.2 1690.7C884.2 1686.6 885.7 1682.6 887.4 1678.9C889.2 1675.1 891.3 1671.5 893.7 1668.1C896.1 1664.7 899.7 1660.8 901.8 1658.4C904 1656.1 905.6 1655 906.7 1654.1C907.8 1653.2 908 1653.3 908.5 1653.1C909 1652.9 909.3 1652.8 909.7 1652.7C910.1 1652.6 910.4 1652.6 910.8 1652.6C911.2 1652.7 911.5 1652.8 911.9 1652.9C912.2 1653.1 912.5 1653.2 912.9 1653.6C913.3 1653.9 913.8 1654.4 914.2 1655C914.7 1655.7 915.2 1656.7 915.6 1657.7C915.9 1658.6 916.2 1659.5 916.3 1660.6C916.5 1661.7 916.6 1662.8 916.4 1664.3C916.3 1665.8 916.3 1666.9 915.2 1669.6C914.2 1672.3 911.8 1676.8 909.9 1680.4C908 1684 905.7 1687.6 903.8 1691.2C901.9 1694.8 900 1699.4 898.5 1702.1C897 1704.8 896.1 1705.9 894.8 1707.4C893.4 1708.9 891.5 1710.5 890.3 1711.4C889.2 1712.3 888.4 1712.6 887.6 1713C886.8 1713.3 886.2 1713.4 885.7 1713.5C885.2 1713.6 885 1713.6 884.6 1713.5C884.3 1713.5 884 1713.4 883.7 1713.2C883.5 1713 883.2 1712.8 883 1712.5C882.8 1712.3 882.6 1712.2 882.4 1711.6C882.2 1711 881.9 1710.4 881.7 1709C881.6 1707.6 881.2 1706.3 881.5 1703.2Z" fill="none" stroke="#fad42e" stroke-width="1.6"/>
</g>
<path d="M362.4 223.2H374.4M368.4 217.2V229.2M364.1 218.9L372.7 227.5M364.1 227.5L372.7 218.9" stroke="#000" stroke-width="1.6" fill="none"/>
<path d="M1102.7 222.8H1114.7M1108.7 216.8V228.8M1104.4 218.5L1113.0 227.1M1104.4 227.1L1113.0 218.5" stroke="#000" stroke-width="1.6" fill="none"/>
<path d="M332.8 1024.5H344.8M338.8 1018.5V1030.5M334.5 1020.2L343.1 1028.8M334.5 1028.8L343.1 1020.2" stroke="#000" stroke-width="1.6" fill="none"/>
<path d="M1092.5 1090.3H1104.5M1098.5 1084.3V1096.3M1094.2 1086.0L1102.8 1094.6M1094.2 1094.6L1102.8 1086.0" stroke="#000" stroke-width="1.6" fill="none"/>
<path d="M355.3 1786.4H367.3M361.3 1780.4V1792.4M357.0 1782.1L365.6 1790.7M357.0 1790.7L365.6 1782.1" stroke="#000" stroke-width="1.6" fill="none"/>
<path d="M982.9 1616.9H994.9M988.9 1610.9V1622.9M984.6 1612.6L993.2 1621.2M984.6 1621.2L993.2 1612.6" stroke="#000" stroke-width="1.6" fill="none"/>
<path d="M85.0 689.4L95.5 700.7M85.0 700.7L95.5 689.4" stroke="#000" stroke-width="1.25" fill="none"/>
<text class="t" x="100.7" y="701.6">10</text>
<text class="t" x="126.5" y="689.6" style="font-size:18px">-9</text>
<path d="M844.5 689.4L855.0 700.7M844.5 700.7L855.0 689.4" stroke="#000" stroke-width="1.25" fill="none"/>
<text class="t" x="860.2" y="701.6">10</text>
<text class="t" x="886.2" y="689.6" style="font-size:18px">-4</text>
<path d="M82.2 1385.8L92.7 1397.1M82.2 1397.1L92.7 1385.8" stroke="#000" stroke-width="1.25" fill="none"/>
<text class="t" x="97.5" y="1398.0">10</text>
<text class="t" x="123.4" y="1386.0" style="font-size:18px">-4</text>
<path d="M1418.5 1958.3L1429.0 1969.6M1418.5 1969.6L1429.0 1958.3" stroke="#000" stroke-width="1.25" fill="none"/>
<text class="t" x="1434.2" y="1970.5">10</text>
<text class="t" x="1460.4" y="1958.5" style="font-size:18px">-4</text>
</svg>
</body></html>
